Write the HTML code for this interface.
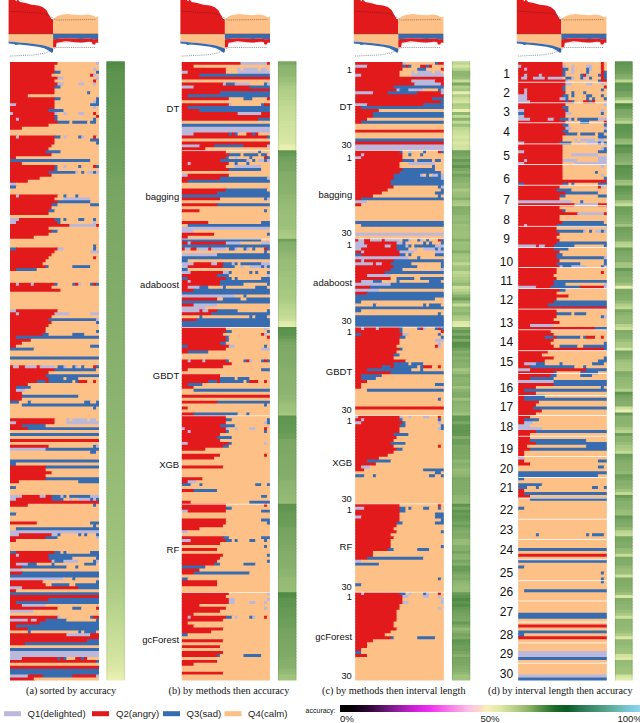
<!DOCTYPE html>
<html><head><meta charset="utf-8"><title>figure</title>
<style>
html,body{margin:0;padding:0;background:#fff}
svg{display:block}
.R{fill:#e31a1c}.O{fill:#fdc086}.B{fill:#386cb0}.L{fill:#bcb8dc}
text{font-family:"Liberation Sans",sans-serif;fill:#111}
.s{font-size:9.5px}
.m{font-size:9.3px}
.n{font-size:12px}
.c{font-family:"Liberation Serif",serif;font-size:10.2px}
.l{font-size:9.6px;fill:#222}
.t{font-size:7px}
</style></head><body>
<svg width="640" height="723" viewBox="0 0 640 723">
<defs>
<linearGradient id="cbar" x1="0" x2="1" y1="0" y2="0"><stop offset="0" stop-color="#000000"/><stop offset="0.04" stop-color="#050005"/><stop offset="0.1" stop-color="#30083a"/><stop offset="0.17" stop-color="#7a1a8a"/><stop offset="0.25" stop-color="#d020d8"/><stop offset="0.3" stop-color="#f030f0"/><stop offset="0.37" stop-color="#f880e8"/><stop offset="0.43" stop-color="#fcc0e8"/><stop offset="0.467" stop-color="#fcd8c8"/><stop offset="0.49" stop-color="#f8f0b8"/><stop offset="0.533" stop-color="#e0e8a8"/><stop offset="0.59" stop-color="#b0cc80"/><stop offset="0.633" stop-color="#88b060"/><stop offset="0.675" stop-color="#4c8c40"/><stop offset="0.717" stop-color="#1a6a28"/><stop offset="0.758" stop-color="#0c5c24"/><stop offset="0.8" stop-color="#2a7450"/><stop offset="0.84" stop-color="#3f8a6a"/><stop offset="0.883" stop-color="#56a08a"/><stop offset="0.925" stop-color="#6ab8b0"/><stop offset="0.967" stop-color="#7cc8dc"/><stop offset="1" stop-color="#8cd4f0"/></linearGradient>
<g id="mini">
<path class="R" d="M-1 0 L-1 33.9 L43.5 33.9 L43.5 19.5 L41.7 18.8 L39.3 14.8 L37 10.2 L33 7 L28.4 5.5 L22 4.7 L15.9 3.1 L10.4 1.9 L8.5 0 L7.6 0 L6.6 1.4 L5.6 0 z"/>
<path class="O" d="M43.5 33.9 L43.5 19.5 L47 16.4 L51.8 14.8 L58 14 L64.3 14.8 L72 15.2 L78.4 14.4 L83 15.6 L86.2 17.2 L88.6 16.4 L88.6 33.9 z"/>
<path class="O" d="M-1 33.9 L43.5 33.9 L43.5 48.6 L39.3 47.1 L34.6 45.5 L28.4 44.4 L19 43.3 L9.6 42.4 L-1 41.3 z"/>
<path class="B" d="M-1 41.3 L9.6 42.4 L19 43.3 L28.4 44.4 L34.6 45.5 L39.3 47.1 L43.5 48.6 L43.5 51.4 L42.4 53 L39.3 50.7 L34.6 48.3 L28.4 46.75 L19 45.5 L9.6 44.6 L6 44.9 L4.5 44 L-1 43.6 z"/>
<path class="L" d="M-1 40.6 L5 41 L5 42.2 L-1 41.8 z"/>
<path class="L" d="M43.8 42 L88.6 42 L88.6 43.2 L80 42.6 L70 43.2 L60 42.3 L52 43 L48 43.6 L43.8 43.6 z" opacity="0.6"/>
<path class="B" d="M43.5 33.9 L88.6 33.9 L88.6 38.9 L84 39.25 L79 38.6 L71.5 38.9 L63.7 38.6 L56 38.2 L50 38.7 L46.6 38.9 L43.5 39.25 z"/>
<path class="R" d="M43.5 39.25 L46.6 38.9 L50 38.7 L56 38.2 L63.7 38.6 L71.5 38.9 L79 38.6 L84 39.25 L88.6 38.9 L88.6 42.8 L86.2 42.4 L85.5 44.4 L83 44.4 L82.4 42 L79 41.75 L71.5 42.4 L63.7 42 L56 41.3 L50 42.2 L47 42.8 L46.4 47.3 L43.5 47.5 z"/>
<path d="M-1 33.9 H88.6" stroke="#7a4a3a" stroke-width="0.5" fill="none"/>
<path d="M0.2 11.2 L33 13.3 L39.3 15.6 L46.3 20 L86.2 19.5" stroke="#222" stroke-opacity="0.9" stroke-width="0.5" stroke-dasharray="1 0.9" fill="none"/>
<path d="M0.2 56.1 L25.2 54.9 L36.2 53 L42.4 49.9 L47 47.5 L86.2 47.5" stroke="#222" stroke-opacity="0.9" stroke-width="0.5" stroke-dasharray="1 0.9" fill="none"/>
</g>
</defs>
<rect width="640" height="723" fill="#fff"/>
<use href="#mini" x="9.6" y="0"/><use href="#mini" x="181.4" y="0"/><use href="#mini" x="354.8" y="0"/><use href="#mini" x="517.8" y="0"/>
<clipPath id="cp0"><rect x="10" y="61.9" width="89" height="618.6"/></clipPath>
<clipPath id="cb0"><rect x="106.4" y="61.3" width="18.4" height="619.2"/></clipPath>
<g clip-path="url(#cp0)">
<path class="R" d="M9 60.9h49.47v4.95H9z"/>
<path class="O" d="M57.47 60.9h39.57v4.95H57.47z"/>
<path class="L" d="M96.03 60.9h3.97v4.95H96.03z"/>
<path class="R" d="M9 64.85h46.5v3.95H9z"/>
<path class="O" d="M54.5 64.85h45.5v3.95H54.5z"/>
<path class="R" d="M9 67.79h46.5v3.95H9z"/>
<path class="O" d="M54.5 67.79h39.57v3.95H54.5z"/>
<path class="L" d="M93.07 67.79h3.97v3.95H93.07z"/>
<path class="O" d="M96.03 67.79h3.97v3.95H96.03z"/>
<path class="R" d="M9 70.74h46.5v3.95H9z"/>
<path class="B" d="M54.5 70.74h6.93v3.95H54.5z"/>
<path class="O" d="M60.43 70.74h36.6v3.95H60.43z"/>
<path class="B" d="M96.03 70.74h3.97v3.95H96.03z"/>
<path class="R" d="M9 73.68h43.53v3.95H9z"/>
<path class="O" d="M51.53 73.68h39.57v3.95H51.53z"/>
<path class="R" d="M90.1 73.68h3.97v3.95H90.1z"/>
<path class="L" d="M93.07 73.68h3.97v3.95H93.07z"/>
<path class="O" d="M96.03 73.68h3.97v3.95H96.03z"/>
<path class="R" d="M9 76.63h49.47v3.95H9z"/>
<path class="L" d="M57.47 76.63h6.93v3.95H57.47z"/>
<path class="O" d="M63.4 76.63h33.63v3.95H63.4z"/>
<path class="L" d="M96.03 76.63h3.97v3.95H96.03z"/>
<path class="R" d="M9 79.57h46.5v3.95H9z"/>
<path class="O" d="M54.5 79.57h39.57v3.95H54.5z"/>
<path class="R" d="M93.07 79.57h3.97v3.95H93.07z"/>
<path class="O" d="M96.03 79.57h3.97v3.95H96.03z"/>
<path class="R" d="M9 82.52h49.47v3.95H9z"/>
<path class="L" d="M57.47 82.52h6.93v3.95H57.47z"/>
<path class="O" d="M63.4 82.52h15.83v3.95H63.4z"/>
<path class="L" d="M78.23 82.52h6.93v3.95H78.23z"/>
<path class="O" d="M84.17 82.52h9.9v3.95H84.17z"/>
<path class="L" d="M93.07 82.52h3.97v3.95H93.07z"/>
<path class="O" d="M96.03 82.52h3.97v3.95H96.03z"/>
<path class="R" d="M9 85.47h46.5v3.95H9z"/>
<path class="B" d="M54.5 85.47h6.93v3.95H54.5z"/>
<path class="O" d="M60.43 85.47h39.57v3.95H60.43z"/>
<path class="R" d="M9 88.41h46.5v3.95H9z"/>
<path class="O" d="M54.5 88.41h45.5v3.95H54.5z"/>
<path class="R" d="M9 91.36h46.5v3.95H9z"/>
<path class="O" d="M54.5 91.36h33.63v3.95H54.5z"/>
<path class="B" d="M87.13 91.36h3.97v3.95H87.13z"/>
<path class="O" d="M90.1 91.36h9.9v3.95H90.1z"/>
<path class="R" d="M9 94.3h19.8v3.95H9z"/>
<path class="O" d="M27.8 94.3h72.2v3.95H27.8z"/>
<path class="R" d="M9 97.25h46.5v3.95H9z"/>
<path class="B" d="M54.5 97.25h6.93v3.95H54.5z"/>
<path class="O" d="M60.43 97.25h36.6v3.95H60.43z"/>
<path class="B" d="M96.03 97.25h3.97v3.95H96.03z"/>
<path class="R" d="M9 100.19h46.5v3.95H9z"/>
<path class="O" d="M54.5 100.19h39.57v3.95H54.5z"/>
<path class="L" d="M93.07 100.19h3.97v3.95H93.07z"/>
<path class="B" d="M96.03 100.19h3.97v3.95H96.03z"/>
<path class="L" d="M9 103.14h7.93v3.95H9z"/>
<path class="R" d="M15.93 103.14h39.57v3.95H15.93z"/>
<path class="O" d="M54.5 103.14h36.6v3.95H54.5z"/>
<path class="B" d="M90.1 103.14h9.9v3.95H90.1z"/>
<path class="R" d="M9 106.09h46.5v3.95H9z"/>
<path class="O" d="M54.5 106.09h39.57v3.95H54.5z"/>
<path class="L" d="M93.07 106.09h3.97v3.95H93.07z"/>
<path class="O" d="M96.03 106.09h3.97v3.95H96.03z"/>
<path class="R" d="M9 109.03h40.57v3.95H9z"/>
<path class="B" d="M48.57 109.03h15.83v3.95H48.57z"/>
<path class="O" d="M63.4 109.03h36.6v3.95H63.4z"/>
<path class="L" d="M9 111.98h4.97v3.95H9z"/>
<path class="R" d="M12.97 111.98h42.53v3.95H12.97z"/>
<path class="L" d="M54.5 111.98h3.97v3.95H54.5z"/>
<path class="O" d="M57.47 111.98h6.93v3.95H57.47z"/>
<path class="L" d="M63.4 111.98h3.97v3.95H63.4z"/>
<path class="O" d="M66.37 111.98h12.87v3.95H66.37z"/>
<path class="L" d="M78.23 111.98h6.93v3.95H78.23z"/>
<path class="O" d="M84.17 111.98h9.9v3.95H84.17z"/>
<path class="R" d="M93.07 111.98h3.97v3.95H93.07z"/>
<path class="O" d="M96.03 111.98h3.97v3.95H96.03z"/>
<path class="R" d="M9 114.92h46.5v3.95H9z"/>
<path class="B" d="M54.5 114.92h3.97v3.95H54.5z"/>
<path class="O" d="M57.47 114.92h39.57v3.95H57.47z"/>
<path class="R" d="M96.03 114.92h3.97v3.95H96.03z"/>
<path class="R" d="M9 117.87h7.93v3.95H9z"/>
<path class="L" d="M15.93 117.87h3.97v3.95H15.93z"/>
<path class="R" d="M18.9 117.87h36.6v3.95H18.9z"/>
<path class="B" d="M54.5 117.87h3.97v3.95H54.5z"/>
<path class="O" d="M57.47 117.87h36.6v3.95H57.47z"/>
<path class="B" d="M93.07 117.87h3.97v3.95H93.07z"/>
<path class="O" d="M96.03 117.87h3.97v3.95H96.03z"/>
<path class="R" d="M9 120.81h49.47v3.95H9z"/>
<path class="B" d="M57.47 120.81h12.87v3.95H57.47z"/>
<path class="O" d="M69.33 120.81h3.97v3.95H69.33z"/>
<path class="B" d="M72.3 120.81h15.83v3.95H72.3z"/>
<path class="O" d="M87.13 120.81h3.97v3.95H87.13z"/>
<path class="B" d="M90.1 120.81h6.93v3.95H90.1z"/>
<path class="O" d="M96.03 120.81h3.97v3.95H96.03z"/>
<path class="R" d="M9 123.76h40.57v3.95H9z"/>
<path class="O" d="M48.57 123.76h51.43v3.95H48.57z"/>
<path class="R" d="M9 126.71h13.87v3.95H9z"/>
<path class="O" d="M21.87 126.71h78.13v3.95H21.87z"/>
<path class="O" d="M9 129.65h91v3.95H9z"/>
<path class="O" d="M9 132.6h91v3.95H9z"/>
<path class="R" d="M9 135.54h7.93v3.95H9z"/>
<path class="L" d="M15.93 135.54h3.97v3.95H15.93z"/>
<path class="R" d="M18.9 135.54h36.6v3.95H18.9z"/>
<path class="B" d="M54.5 135.54h6.93v3.95H54.5z"/>
<path class="O" d="M60.43 135.54h3.97v3.95H60.43z"/>
<path class="L" d="M63.4 135.54h3.97v3.95H63.4z"/>
<path class="O" d="M66.37 135.54h12.87v3.95H66.37z"/>
<path class="B" d="M78.23 135.54h3.97v3.95H78.23z"/>
<path class="L" d="M81.2 135.54h3.97v3.95H81.2z"/>
<path class="O" d="M84.17 135.54h9.9v3.95H84.17z"/>
<path class="R" d="M93.07 135.54h3.97v3.95H93.07z"/>
<path class="O" d="M96.03 135.54h3.97v3.95H96.03z"/>
<path class="R" d="M9 138.49h46.5v3.95H9z"/>
<path class="O" d="M54.5 138.49h36.6v3.95H54.5z"/>
<path class="B" d="M90.1 138.49h9.9v3.95H90.1z"/>
<path class="R" d="M9 141.43h46.5v3.95H9z"/>
<path class="O" d="M54.5 141.43h42.53v3.95H54.5z"/>
<path class="B" d="M96.03 141.43h3.97v3.95H96.03z"/>
<path class="R" d="M9 144.38h43.53v3.95H9z"/>
<path class="O" d="M51.53 144.38h48.47v3.95H51.53z"/>
<path class="R" d="M9 147.33h40.57v3.95H9z"/>
<path class="O" d="M48.57 147.33h51.43v3.95H48.57z"/>
<path class="R" d="M9 150.27h37.6v3.95H9z"/>
<path class="B" d="M45.6 150.27h15.83v3.95H45.6z"/>
<path class="O" d="M60.43 150.27h39.57v3.95H60.43z"/>
<path class="R" d="M9 153.22h43.53v3.95H9z"/>
<path class="O" d="M51.53 153.22h48.47v3.95H51.53z"/>
<path class="R" d="M9 156.16h7.93v3.95H9z"/>
<path class="O" d="M15.93 156.16h84.07v3.95H15.93z"/>
<path class="B" d="M9 159.11h82.1v3.95H9z"/>
<path class="O" d="M90.1 159.11h9.9v3.95H90.1z"/>
<path class="R" d="M9 162.05h13.87v3.95H9z"/>
<path class="O" d="M21.87 162.05h78.13v3.95H21.87z"/>
<path class="R" d="M9 165h46.5v3.95H9z"/>
<path class="B" d="M54.5 165h3.97v3.95H54.5z"/>
<path class="O" d="M57.47 165h6.93v3.95H57.47z"/>
<path class="L" d="M63.4 165h3.97v3.95H63.4z"/>
<path class="O" d="M66.37 165h12.87v3.95H66.37z"/>
<path class="B" d="M78.23 165h3.97v3.95H78.23z"/>
<path class="O" d="M81.2 165h12.87v3.95H81.2z"/>
<path class="R" d="M93.07 165h3.97v3.95H93.07z"/>
<path class="B" d="M96.03 165h3.97v3.95H96.03z"/>
<path class="R" d="M9 167.95h46.5v3.95H9z"/>
<path class="B" d="M54.5 167.95h3.97v3.95H54.5z"/>
<path class="O" d="M57.47 167.95h42.53v3.95H57.47z"/>
<path class="R" d="M9 170.89h40.57v3.95H9z"/>
<path class="B" d="M48.57 170.89h27.7v3.95H48.57z"/>
<path class="L" d="M75.27 170.89h3.97v3.95H75.27z"/>
<path class="O" d="M78.23 170.89h3.97v3.95H78.23z"/>
<path class="B" d="M81.2 170.89h3.97v3.95H81.2z"/>
<path class="O" d="M84.17 170.89h3.97v3.95H84.17z"/>
<path class="L" d="M87.13 170.89h6.93v3.95H87.13z"/>
<path class="B" d="M93.07 170.89h3.97v3.95H93.07z"/>
<path class="L" d="M96.03 170.89h3.97v3.95H96.03z"/>
<path class="R" d="M9 173.84h43.53v3.95H9z"/>
<path class="O" d="M51.53 173.84h48.47v3.95H51.53z"/>
<path class="R" d="M9 176.78h31.67v3.95H9z"/>
<path class="O" d="M39.67 176.78h60.33v3.95H39.67z"/>
<path class="R" d="M9 179.73h19.8v3.95H9z"/>
<path class="O" d="M27.8 179.73h72.2v3.95H27.8z"/>
<path class="L" d="M9 182.67h7.93v3.95H9z"/>
<path class="O" d="M15.93 182.67h84.07v3.95H15.93z"/>
<path class="B" d="M9 185.62h7.93v3.95H9z"/>
<path class="O" d="M15.93 185.62h84.07v3.95H15.93z"/>
<path class="O" d="M9 188.57h91v3.95H9z"/>
<path class="O" d="M9 191.51h91v3.95H9z"/>
<path class="R" d="M9 194.46h7.93v3.95H9z"/>
<path class="L" d="M15.93 194.46h3.97v3.95H15.93z"/>
<path class="R" d="M18.9 194.46h39.57v3.95H18.9z"/>
<path class="O" d="M57.47 194.46h6.93v3.95H57.47z"/>
<path class="B" d="M63.4 194.46h3.97v3.95H63.4z"/>
<path class="O" d="M66.37 194.46h9.9v3.95H66.37z"/>
<path class="B" d="M75.27 194.46h3.97v3.95H75.27z"/>
<path class="O" d="M78.23 194.46h21.77v3.95H78.23z"/>
<path class="R" d="M9 197.4h46.5v3.95H9z"/>
<path class="O" d="M54.5 197.4h9.9v3.95H54.5z"/>
<path class="L" d="M63.4 197.4h27.7v3.95H63.4z"/>
<path class="O" d="M90.1 197.4h9.9v3.95H90.1z"/>
<path class="R" d="M9 200.35h49.47v3.95H9z"/>
<path class="B" d="M57.47 200.35h33.63v3.95H57.47z"/>
<path class="O" d="M90.1 200.35h9.9v3.95H90.1z"/>
<path class="R" d="M9 203.29h43.53v3.95H9z"/>
<path class="B" d="M51.53 203.29h6.93v3.95H51.53z"/>
<path class="O" d="M57.47 203.29h33.63v3.95H57.47z"/>
<path class="B" d="M90.1 203.29h9.9v3.95H90.1z"/>
<path class="R" d="M9 206.24h43.53v3.95H9z"/>
<path class="O" d="M51.53 206.24h48.47v3.95H51.53z"/>
<path class="R" d="M9 209.19h40.57v3.95H9z"/>
<path class="B" d="M48.57 209.19h6.93v3.95H48.57z"/>
<path class="O" d="M54.5 209.19h45.5v3.95H54.5z"/>
<path class="R" d="M9 212.13h40.57v3.95H9z"/>
<path class="O" d="M48.57 212.13h51.43v3.95H48.57z"/>
<path class="O" d="M9 215.08h91v3.95H9z"/>
<path class="L" d="M9 218.02h10.9v3.95H9z"/>
<path class="R" d="M18.9 218.02h36.6v3.95H18.9z"/>
<path class="B" d="M54.5 218.02h6.93v3.95H54.5z"/>
<path class="O" d="M60.43 218.02h3.97v3.95H60.43z"/>
<path class="B" d="M63.4 218.02h3.97v3.95H63.4z"/>
<path class="O" d="M66.37 218.02h12.87v3.95H66.37z"/>
<path class="B" d="M78.23 218.02h6.93v3.95H78.23z"/>
<path class="O" d="M84.17 218.02h9.9v3.95H84.17z"/>
<path class="B" d="M93.07 218.02h3.97v3.95H93.07z"/>
<path class="O" d="M96.03 218.02h3.97v3.95H96.03z"/>
<path class="L" d="M9 220.97h7.93v3.95H9z"/>
<path class="R" d="M15.93 220.97h42.53v3.95H15.93z"/>
<path class="B" d="M57.47 220.97h3.97v3.95H57.47z"/>
<path class="O" d="M60.43 220.97h33.63v3.95H60.43z"/>
<path class="L" d="M93.07 220.97h3.97v3.95H93.07z"/>
<path class="O" d="M96.03 220.97h3.97v3.95H96.03z"/>
<path class="R" d="M9 223.91h61.33v3.95H9z"/>
<path class="L" d="M69.33 223.91h27.7v3.95H69.33z"/>
<path class="R" d="M96.03 223.91h3.97v3.95H96.03z"/>
<path class="R" d="M9 226.86h40.57v3.95H9z"/>
<path class="O" d="M48.57 226.86h51.43v3.95H48.57z"/>
<path class="R" d="M9 229.81h43.53v3.95H9z"/>
<path class="B" d="M51.53 229.81h6.93v3.95H51.53z"/>
<path class="O" d="M57.47 229.81h42.53v3.95H57.47z"/>
<path class="R" d="M9 232.75h40.57v3.95H9z"/>
<path class="O" d="M48.57 232.75h51.43v3.95H48.57z"/>
<path class="R" d="M9 235.7h25.73v3.95H9z"/>
<path class="O" d="M33.73 235.7h66.27v3.95H33.73z"/>
<path class="O" d="M9 238.64h91v3.95H9z"/>
<path class="O" d="M9 241.59h91v3.95H9z"/>
<path class="O" d="M9 244.53h85.07v3.95H9z"/>
<path class="B" d="M93.07 244.53h3.97v3.95H93.07z"/>
<path class="O" d="M96.03 244.53h3.97v3.95H96.03z"/>
<path class="B" d="M9 247.48h7.93v3.95H9z"/>
<path class="R" d="M15.93 247.48h42.53v3.95H15.93z"/>
<path class="L" d="M57.47 247.48h6.93v3.95H57.47z"/>
<path class="O" d="M63.4 247.48h30.67v3.95H63.4z"/>
<path class="B" d="M93.07 247.48h3.97v3.95H93.07z"/>
<path class="O" d="M96.03 247.48h3.97v3.95H96.03z"/>
<path class="R" d="M9 250.43h46.5v3.95H9z"/>
<path class="O" d="M54.5 250.43h36.6v3.95H54.5z"/>
<path class="L" d="M90.1 250.43h9.9v3.95H90.1z"/>
<path class="R" d="M9 253.37h43.53v3.95H9z"/>
<path class="O" d="M51.53 253.37h48.47v3.95H51.53z"/>
<path class="R" d="M9 256.32h40.57v3.95H9z"/>
<path class="O" d="M48.57 256.32h45.5v3.95H48.57z"/>
<path class="R" d="M93.07 256.32h3.97v3.95H93.07z"/>
<path class="O" d="M96.03 256.32h3.97v3.95H96.03z"/>
<path class="R" d="M9 259.26h37.6v3.95H9z"/>
<path class="O" d="M45.6 259.26h54.4v3.95H45.6z"/>
<path class="R" d="M9 262.21h34.63v3.95H9z"/>
<path class="O" d="M42.63 262.21h57.37v3.95H42.63z"/>
<path class="R" d="M9 265.15h37.6v3.95H9z"/>
<path class="B" d="M45.6 265.15h3.97v3.95H45.6z"/>
<path class="O" d="M48.57 265.15h24.73v3.95H48.57z"/>
<path class="B" d="M72.3 265.15h18.8v3.95H72.3z"/>
<path class="O" d="M90.1 265.15h9.9v3.95H90.1z"/>
<path class="R" d="M9 268.1h7.93v3.95H9z"/>
<path class="B" d="M15.93 268.1h21.77v3.95H15.93z"/>
<path class="O" d="M36.7 268.1h63.3v3.95H36.7z"/>
<path class="O" d="M9 271.05h91v3.95H9z"/>
<path class="O" d="M9 273.99h91v3.95H9z"/>
<path class="O" d="M9 276.94h91v3.95H9z"/>
<path class="O" d="M9 279.88h91v3.95H9z"/>
<path class="R" d="M9 282.83h7.93v3.95H9z"/>
<path class="L" d="M15.93 282.83h3.97v3.95H15.93z"/>
<path class="R" d="M18.9 282.83h12.87v3.95H18.9z"/>
<path class="L" d="M30.77 282.83h3.97v3.95H30.77z"/>
<path class="R" d="M33.73 282.83h21.77v3.95H33.73z"/>
<path class="B" d="M54.5 282.83h3.97v3.95H54.5z"/>
<path class="O" d="M57.47 282.83h15.83v3.95H57.47z"/>
<path class="B" d="M72.3 282.83h3.97v3.95H72.3z"/>
<path class="R" d="M75.27 282.83h3.97v3.95H75.27z"/>
<path class="L" d="M78.23 282.83h3.97v3.95H78.23z"/>
<path class="O" d="M81.2 282.83h9.9v3.95H81.2z"/>
<path class="B" d="M90.1 282.83h3.97v3.95H90.1z"/>
<path class="R" d="M93.07 282.83h3.97v3.95H93.07z"/>
<path class="B" d="M96.03 282.83h3.97v3.95H96.03z"/>
<path class="R" d="M9 285.77h43.53v3.95H9z"/>
<path class="O" d="M51.53 285.77h48.47v3.95H51.53z"/>
<path class="R" d="M9 288.72h52.43v3.95H9z"/>
<path class="O" d="M60.43 288.72h39.57v3.95H60.43z"/>
<path class="O" d="M9 291.67h91v3.95H9z"/>
<path class="O" d="M9 294.61h91v3.95H9z"/>
<path class="O" d="M9 297.56h91v3.95H9z"/>
<path class="O" d="M9 300.5h91v3.95H9z"/>
<path class="O" d="M9 303.45h91v3.95H9z"/>
<path class="O" d="M9 306.39h91v3.95H9z"/>
<path class="L" d="M9 309.34h7.93v3.95H9z"/>
<path class="R" d="M15.93 309.34h42.53v3.95H15.93z"/>
<path class="O" d="M57.47 309.34h42.53v3.95H57.47z"/>
<path class="R" d="M9 312.29h7.93v3.95H9z"/>
<path class="L" d="M15.93 312.29h3.97v3.95H15.93z"/>
<path class="R" d="M18.9 312.29h36.6v3.95H18.9z"/>
<path class="L" d="M54.5 312.29h15.83v3.95H54.5z"/>
<path class="O" d="M69.33 312.29h21.77v3.95H69.33z"/>
<path class="L" d="M90.1 312.29h9.9v3.95H90.1z"/>
<path class="R" d="M9 315.23h43.53v3.95H9z"/>
<path class="O" d="M51.53 315.23h48.47v3.95H51.53z"/>
<path class="R" d="M9 318.18h40.57v3.95H9z"/>
<path class="B" d="M48.57 318.18h48.47v3.95H48.57z"/>
<path class="L" d="M96.03 318.18h3.97v3.95H96.03z"/>
<path class="R" d="M9 321.12h43.53v3.95H9z"/>
<path class="O" d="M51.53 321.12h45.5v3.95H51.53z"/>
<path class="B" d="M96.03 321.12h3.97v3.95H96.03z"/>
<path class="R" d="M9 324.07h40.57v3.95H9z"/>
<path class="O" d="M48.57 324.07h51.43v3.95H48.57z"/>
<path class="R" d="M9 327.01h37.6v3.95H9z"/>
<path class="O" d="M45.6 327.01h54.4v3.95H45.6z"/>
<path class="R" d="M9 329.96h37.6v3.95H9z"/>
<path class="O" d="M45.6 329.96h51.43v3.95H45.6z"/>
<path class="B" d="M96.03 329.96h3.97v3.95H96.03z"/>
<path class="R" d="M9 332.91h34.63v3.95H9z"/>
<path class="B" d="M42.63 332.91h6.93v3.95H42.63z"/>
<path class="O" d="M48.57 332.91h24.73v3.95H48.57z"/>
<path class="B" d="M72.3 332.91h12.87v3.95H72.3z"/>
<path class="O" d="M84.17 332.91h15.83v3.95H84.17z"/>
<path class="R" d="M9 335.85h7.93v3.95H9z"/>
<path class="B" d="M15.93 335.85h84.07v3.95H15.93z"/>
<path class="R" d="M9 338.8h22.77v3.95H9z"/>
<path class="O" d="M30.77 338.8h69.23v3.95H30.77z"/>
<path class="R" d="M9 341.74h13.87v3.95H9z"/>
<path class="O" d="M21.87 341.74h78.13v3.95H21.87z"/>
<path class="R" d="M9 344.69h7.93v3.95H9z"/>
<path class="O" d="M15.93 344.69h75.17v3.95H15.93z"/>
<path class="B" d="M90.1 344.69h9.9v3.95H90.1z"/>
<path class="B" d="M9 347.63h25.73v3.95H9z"/>
<path class="O" d="M33.73 347.63h66.27v3.95H33.73z"/>
<path class="O" d="M9 350.58h91v3.95H9z"/>
<path class="O" d="M9 353.53h91v3.95H9z"/>
<path class="B" d="M9 356.47h91v3.95H9z"/>
<path class="O" d="M9 359.42h91v3.95H9z"/>
<path class="O" d="M9 362.36h91v3.95H9z"/>
<path class="R" d="M9 365.31h4.97v3.95H9z"/>
<path class="L" d="M12.97 365.31h6.93v3.95H12.97z"/>
<path class="R" d="M18.9 365.31h6.93v3.95H18.9z"/>
<path class="L" d="M24.83 365.31h12.87v3.95H24.83z"/>
<path class="R" d="M36.7 365.31h3.97v3.95H36.7z"/>
<path class="L" d="M39.67 365.31h15.83v3.95H39.67z"/>
<path class="O" d="M54.5 365.31h3.97v3.95H54.5z"/>
<path class="B" d="M57.47 365.31h6.93v3.95H57.47z"/>
<path class="L" d="M63.4 365.31h3.97v3.95H63.4z"/>
<path class="O" d="M66.37 365.31h6.93v3.95H66.37z"/>
<path class="B" d="M72.3 365.31h3.97v3.95H72.3z"/>
<path class="L" d="M75.27 365.31h3.97v3.95H75.27z"/>
<path class="O" d="M78.23 365.31h3.97v3.95H78.23z"/>
<path class="B" d="M81.2 365.31h3.97v3.95H81.2z"/>
<path class="O" d="M84.17 365.31h9.9v3.95H84.17z"/>
<path class="R" d="M93.07 365.31h3.97v3.95H93.07z"/>
<path class="B" d="M96.03 365.31h3.97v3.95H96.03z"/>
<path class="R" d="M9 368.25h46.5v3.95H9z"/>
<path class="B" d="M54.5 368.25h42.53v3.95H54.5z"/>
<path class="O" d="M96.03 368.25h3.97v3.95H96.03z"/>
<path class="R" d="M9 371.2h40.57v3.95H9z"/>
<path class="O" d="M48.57 371.2h51.43v3.95H48.57z"/>
<path class="R" d="M9 374.15h37.6v3.95H9z"/>
<path class="B" d="M45.6 374.15h54.4v3.95H45.6z"/>
<path class="R" d="M9 377.09h40.57v3.95H9z"/>
<path class="B" d="M48.57 377.09h15.83v3.95H48.57z"/>
<path class="O" d="M63.4 377.09h3.97v3.95H63.4z"/>
<path class="B" d="M66.37 377.09h12.87v3.95H66.37z"/>
<path class="O" d="M78.23 377.09h21.77v3.95H78.23z"/>
<path class="R" d="M9 380.04h28.7v3.95H9z"/>
<path class="B" d="M36.7 380.04h9.9v3.95H36.7z"/>
<path class="R" d="M45.6 380.04h3.97v3.95H45.6z"/>
<path class="B" d="M48.57 380.04h24.73v3.95H48.57z"/>
<path class="O" d="M72.3 380.04h3.97v3.95H72.3z"/>
<path class="B" d="M75.27 380.04h3.97v3.95H75.27z"/>
<path class="R" d="M78.23 380.04h9.9v3.95H78.23z"/>
<path class="O" d="M87.13 380.04h6.93v3.95H87.13z"/>
<path class="R" d="M93.07 380.04h3.97v3.95H93.07z"/>
<path class="O" d="M96.03 380.04h3.97v3.95H96.03z"/>
<path class="R" d="M9 382.98h19.8v3.95H9z"/>
<path class="O" d="M27.8 382.98h72.2v3.95H27.8z"/>
<path class="R" d="M9 385.93h7.93v3.95H9z"/>
<path class="B" d="M15.93 385.93h15.83v3.95H15.93z"/>
<path class="O" d="M30.77 385.93h69.23v3.95H30.77z"/>
<path class="R" d="M9 388.87h7.93v3.95H9z"/>
<path class="L" d="M15.93 388.87h9.9v3.95H15.93z"/>
<path class="O" d="M24.83 388.87h75.17v3.95H24.83z"/>
<path class="R" d="M9 391.82h13.87v3.95H9z"/>
<path class="O" d="M21.87 391.82h78.13v3.95H21.87z"/>
<path class="R" d="M9 394.77h13.87v3.95H9z"/>
<path class="B" d="M21.87 394.77h57.37v3.95H21.87z"/>
<path class="O" d="M78.23 394.77h21.77v3.95H78.23z"/>
<path class="R" d="M9 397.71h13.87v3.95H9z"/>
<path class="O" d="M21.87 397.71h78.13v3.95H21.87z"/>
<path class="B" d="M9 400.66h10.9v3.95H9z"/>
<path class="O" d="M18.9 400.66h9.9v3.95H18.9z"/>
<path class="B" d="M27.8 400.66h3.97v3.95H27.8z"/>
<path class="O" d="M30.77 400.66h54.4v3.95H30.77z"/>
<path class="B" d="M84.17 400.66h6.93v3.95H84.17z"/>
<path class="O" d="M90.1 400.66h6.93v3.95H90.1z"/>
<path class="B" d="M96.03 400.66h3.97v3.95H96.03z"/>
<path class="O" d="M9 403.6h13.87v3.95H9z"/>
<path class="B" d="M21.87 403.6h78.13v3.95H21.87z"/>
<path class="O" d="M9 406.55h85.07v3.95H9z"/>
<path class="B" d="M93.07 406.55h3.97v3.95H93.07z"/>
<path class="O" d="M96.03 406.55h3.97v3.95H96.03z"/>
<path class="O" d="M9 409.49h91v3.95H9z"/>
<path class="O" d="M9 412.44h91v3.95H9z"/>
<path class="O" d="M9 415.39h91v3.95H9z"/>
<path class="R" d="M9 418.33h46.5v3.95H9z"/>
<path class="O" d="M54.5 418.33h12.87v3.95H54.5z"/>
<path class="L" d="M66.37 418.33h3.97v3.95H66.37z"/>
<path class="O" d="M69.33 418.33h3.97v3.95H69.33z"/>
<path class="L" d="M72.3 418.33h15.83v3.95H72.3z"/>
<path class="O" d="M87.13 418.33h3.97v3.95H87.13z"/>
<path class="L" d="M90.1 418.33h6.93v3.95H90.1z"/>
<path class="O" d="M96.03 418.33h3.97v3.95H96.03z"/>
<path class="L" d="M9 421.28h7.93v3.95H9z"/>
<path class="R" d="M15.93 421.28h39.57v3.95H15.93z"/>
<path class="O" d="M54.5 421.28h12.87v3.95H54.5z"/>
<path class="L" d="M66.37 421.28h33.63v3.95H66.37z"/>
<path class="R" d="M9 424.22h13.87v3.95H9z"/>
<path class="B" d="M21.87 424.22h24.73v3.95H21.87z"/>
<path class="O" d="M45.6 424.22h54.4v3.95H45.6z"/>
<path class="R" d="M9 427.17h19.8v3.95H9z"/>
<path class="B" d="M27.8 427.17h72.2v3.95H27.8z"/>
<path class="O" d="M9 430.11h91v3.95H9z"/>
<path class="B" d="M9 433.06h91v3.95H9z"/>
<path class="O" d="M9 436.01h91v3.95H9z"/>
<path class="R" d="M9 438.95h91v3.95H9z"/>
<path class="O" d="M9 441.9h91v3.95H9z"/>
<path class="R" d="M9 444.84h40.57v3.95H9z"/>
<path class="O" d="M48.57 444.84h45.5v3.95H48.57z"/>
<path class="B" d="M93.07 444.84h3.97v3.95H93.07z"/>
<path class="L" d="M96.03 444.84h3.97v3.95H96.03z"/>
<path class="L" d="M9 447.79h37.6v3.95H9z"/>
<path class="B" d="M45.6 447.79h54.4v3.95H45.6z"/>
<path class="O" d="M9 450.73h82.1v3.95H9z"/>
<path class="B" d="M90.1 450.73h6.93v3.95H90.1z"/>
<path class="O" d="M96.03 450.73h3.97v3.95H96.03z"/>
<path class="O" d="M9 453.68h91v3.95H9z"/>
<path class="O" d="M9 456.63h91v3.95H9z"/>
<path class="B" d="M9 459.57h91v3.95H9z"/>
<path class="B" d="M9 462.52h7.93v3.95H9z"/>
<path class="O" d="M15.93 462.52h84.07v3.95H15.93z"/>
<path class="R" d="M9 465.46h37.6v3.95H9z"/>
<path class="B" d="M45.6 465.46h54.4v3.95H45.6z"/>
<path class="R" d="M9 468.41h37.6v3.95H9z"/>
<path class="O" d="M45.6 468.41h54.4v3.95H45.6z"/>
<path class="R" d="M9 471.35h43.53v3.95H9z"/>
<path class="O" d="M51.53 471.35h48.47v3.95H51.53z"/>
<path class="R" d="M9 474.3h37.6v3.95H9z"/>
<path class="O" d="M45.6 474.3h54.4v3.95H45.6z"/>
<path class="R" d="M9 477.25h37.6v3.95H9z"/>
<path class="B" d="M45.6 477.25h54.4v3.95H45.6z"/>
<path class="R" d="M9 480.19h10.9v3.95H9z"/>
<path class="O" d="M18.9 480.19h60.33v3.95H18.9z"/>
<path class="B" d="M78.23 480.19h21.77v3.95H78.23z"/>
<path class="O" d="M9 483.14h91v3.95H9z"/>
<path class="B" d="M9 486.08h7.93v3.95H9z"/>
<path class="O" d="M15.93 486.08h84.07v3.95H15.93z"/>
<path class="O" d="M9 489.03h91v3.95H9z"/>
<path class="O" d="M9 491.97h91v3.95H9z"/>
<path class="L" d="M9 494.92h13.87v3.95H9z"/>
<path class="R" d="M21.87 494.92h18.8v3.95H21.87z"/>
<path class="L" d="M39.67 494.92h6.93v3.95H39.67z"/>
<path class="R" d="M45.6 494.92h6.93v3.95H45.6z"/>
<path class="B" d="M51.53 494.92h9.9v3.95H51.53z"/>
<path class="L" d="M60.43 494.92h3.97v3.95H60.43z"/>
<path class="B" d="M63.4 494.92h3.97v3.95H63.4z"/>
<path class="O" d="M66.37 494.92h3.97v3.95H66.37z"/>
<path class="B" d="M69.33 494.92h21.77v3.95H69.33z"/>
<path class="L" d="M90.1 494.92h9.9v3.95H90.1z"/>
<path class="L" d="M9 497.87h7.93v3.95H9z"/>
<path class="R" d="M15.93 497.87h36.6v3.95H15.93z"/>
<path class="B" d="M51.53 497.87h12.87v3.95H51.53z"/>
<path class="O" d="M63.4 497.87h6.93v3.95H63.4z"/>
<path class="L" d="M69.33 497.87h3.97v3.95H69.33z"/>
<path class="O" d="M72.3 497.87h6.93v3.95H72.3z"/>
<path class="L" d="M78.23 497.87h12.87v3.95H78.23z"/>
<path class="B" d="M90.1 497.87h3.97v3.95H90.1z"/>
<path class="L" d="M93.07 497.87h3.97v3.95H93.07z"/>
<path class="B" d="M96.03 497.87h3.97v3.95H96.03z"/>
<path class="R" d="M9 500.81h91v3.95H9z"/>
<path class="R" d="M9 503.76h19.8v3.95H9z"/>
<path class="O" d="M27.8 503.76h66.27v3.95H27.8z"/>
<path class="B" d="M93.07 503.76h3.97v3.95H93.07z"/>
<path class="O" d="M96.03 503.76h3.97v3.95H96.03z"/>
<path class="O" d="M9 506.7h91v3.95H9z"/>
<path class="O" d="M9 509.65h91v3.95H9z"/>
<path class="B" d="M9 512.59h7.93v3.95H9z"/>
<path class="O" d="M15.93 512.59h84.07v3.95H15.93z"/>
<path class="O" d="M9 515.54h91v3.95H9z"/>
<path class="O" d="M9 518.49h91v3.95H9z"/>
<path class="R" d="M9 521.43h28.7v3.95H9z"/>
<path class="O" d="M36.7 521.43h54.4v3.95H36.7z"/>
<path class="B" d="M90.1 521.43h9.9v3.95H90.1z"/>
<path class="O" d="M9 524.38h85.07v3.95H9z"/>
<path class="B" d="M93.07 524.38h3.97v3.95H93.07z"/>
<path class="O" d="M96.03 524.38h3.97v3.95H96.03z"/>
<path class="O" d="M9 527.32h7.93v3.95H9z"/>
<path class="B" d="M15.93 527.32h84.07v3.95H15.93z"/>
<path class="L" d="M9 530.27h91v3.95H9z"/>
<path class="L" d="M9 533.21h10.9v3.95H9z"/>
<path class="R" d="M18.9 533.21h33.63v3.95H18.9z"/>
<path class="L" d="M51.53 533.21h6.93v3.95H51.53z"/>
<path class="B" d="M57.47 533.21h3.97v3.95H57.47z"/>
<path class="O" d="M60.43 533.21h18.8v3.95H60.43z"/>
<path class="B" d="M78.23 533.21h3.97v3.95H78.23z"/>
<path class="O" d="M81.2 533.21h3.97v3.95H81.2z"/>
<path class="B" d="M84.17 533.21h3.97v3.95H84.17z"/>
<path class="O" d="M87.13 533.21h9.9v3.95H87.13z"/>
<path class="B" d="M96.03 533.21h3.97v3.95H96.03z"/>
<path class="R" d="M9 536.16h37.6v3.95H9z"/>
<path class="B" d="M45.6 536.16h12.87v3.95H45.6z"/>
<path class="O" d="M57.47 536.16h39.57v3.95H57.47z"/>
<path class="L" d="M96.03 536.16h3.97v3.95H96.03z"/>
<path class="R" d="M9 539.11h7.93v3.95H9z"/>
<path class="O" d="M15.93 539.11h84.07v3.95H15.93z"/>
<path class="O" d="M9 542.05h91v3.95H9z"/>
<path class="O" d="M9 545h91v3.95H9z"/>
<path class="O" d="M9 547.94h91v3.95H9z"/>
<path class="B" d="M9 550.89h7.93v3.95H9z"/>
<path class="R" d="M15.93 550.89h39.57v3.95H15.93z"/>
<path class="B" d="M54.5 550.89h6.93v3.95H54.5z"/>
<path class="O" d="M60.43 550.89h3.97v3.95H60.43z"/>
<path class="B" d="M63.4 550.89h3.97v3.95H63.4z"/>
<path class="O" d="M66.37 550.89h24.73v3.95H66.37z"/>
<path class="B" d="M90.1 550.89h9.9v3.95H90.1z"/>
<path class="R" d="M9 553.83h7.93v3.95H9z"/>
<path class="L" d="M15.93 553.83h3.97v3.95H15.93z"/>
<path class="R" d="M18.9 553.83h30.67v3.95H18.9z"/>
<path class="B" d="M48.57 553.83h51.43v3.95H48.57z"/>
<path class="R" d="M9 556.78h40.57v3.95H9z"/>
<path class="B" d="M48.57 556.78h24.73v3.95H48.57z"/>
<path class="O" d="M72.3 556.78h24.73v3.95H72.3z"/>
<path class="B" d="M96.03 556.78h3.97v3.95H96.03z"/>
<path class="R" d="M9 559.73h43.53v3.95H9z"/>
<path class="L" d="M51.53 559.73h3.97v3.95H51.53z"/>
<path class="B" d="M54.5 559.73h9.9v3.95H54.5z"/>
<path class="L" d="M63.4 559.73h15.83v3.95H63.4z"/>
<path class="O" d="M78.23 559.73h15.83v3.95H78.23z"/>
<path class="B" d="M93.07 559.73h3.97v3.95H93.07z"/>
<path class="L" d="M96.03 559.73h3.97v3.95H96.03z"/>
<path class="R" d="M9 562.67h7.93v3.95H9z"/>
<path class="L" d="M15.93 562.67h12.87v3.95H15.93z"/>
<path class="B" d="M27.8 562.67h9.9v3.95H27.8z"/>
<path class="O" d="M36.7 562.67h15.83v3.95H36.7z"/>
<path class="B" d="M51.53 562.67h3.97v3.95H51.53z"/>
<path class="O" d="M54.5 562.67h30.67v3.95H54.5z"/>
<path class="B" d="M84.17 562.67h12.87v3.95H84.17z"/>
<path class="O" d="M96.03 562.67h3.97v3.95H96.03z"/>
<path class="R" d="M9 565.62h13.87v3.95H9z"/>
<path class="B" d="M21.87 565.62h45.5v3.95H21.87z"/>
<path class="O" d="M66.37 565.62h9.9v3.95H66.37z"/>
<path class="B" d="M75.27 565.62h3.97v3.95H75.27z"/>
<path class="O" d="M78.23 565.62h21.77v3.95H78.23z"/>
<path class="L" d="M9 568.56h13.87v3.95H9z"/>
<path class="O" d="M21.87 568.56h78.13v3.95H21.87z"/>
<path class="R" d="M9 571.51h13.87v3.95H9z"/>
<path class="B" d="M21.87 571.51h78.13v3.95H21.87z"/>
<path class="B" d="M9 574.45h91v3.95H9z"/>
<path class="L" d="M9 577.4h55.4v3.95H9z"/>
<path class="O" d="M63.4 577.4h9.9v3.95H63.4z"/>
<path class="B" d="M72.3 577.4h3.97v3.95H72.3z"/>
<path class="O" d="M75.27 577.4h24.73v3.95H75.27z"/>
<path class="R" d="M9 580.35h34.63v3.95H9z"/>
<path class="O" d="M42.63 580.35h54.4v3.95H42.63z"/>
<path class="B" d="M96.03 580.35h3.97v3.95H96.03z"/>
<path class="R" d="M9 583.29h37.6v3.95H9z"/>
<path class="O" d="M45.6 583.29h6.93v3.95H45.6z"/>
<path class="B" d="M51.53 583.29h18.8v3.95H51.53z"/>
<path class="O" d="M69.33 583.29h6.93v3.95H69.33z"/>
<path class="B" d="M75.27 583.29h24.73v3.95H75.27z"/>
<path class="L" d="M9 586.24h13.87v3.95H9z"/>
<path class="R" d="M21.87 586.24h57.37v3.95H21.87z"/>
<path class="B" d="M78.23 586.24h21.77v3.95H78.23z"/>
<path class="R" d="M9 589.18h7.93v3.95H9z"/>
<path class="O" d="M15.93 589.18h84.07v3.95H15.93z"/>
<path class="B" d="M9 592.13h91v3.95H9z"/>
<path class="R" d="M9 595.07h91v3.95H9z"/>
<path class="R" d="M9 598.02h40.57v3.95H9z"/>
<path class="B" d="M48.57 598.02h51.43v3.95H48.57z"/>
<path class="R" d="M9 600.97h7.93v3.95H9z"/>
<path class="B" d="M15.93 600.97h84.07v3.95H15.93z"/>
<path class="R" d="M9 603.91h13.87v3.95H9z"/>
<path class="L" d="M21.87 603.91h24.73v3.95H21.87z"/>
<path class="O" d="M45.6 603.91h54.4v3.95H45.6z"/>
<path class="R" d="M9 606.86h49.47v3.95H9z"/>
<path class="O" d="M57.47 606.86h15.83v3.95H57.47z"/>
<path class="B" d="M72.3 606.86h9.9v3.95H72.3z"/>
<path class="O" d="M81.2 606.86h15.83v3.95H81.2z"/>
<path class="R" d="M96.03 606.86h3.97v3.95H96.03z"/>
<path class="L" d="M9 609.8h25.73v3.95H9z"/>
<path class="O" d="M33.73 609.8h66.27v3.95H33.73z"/>
<path class="O" d="M9 612.75h91v3.95H9z"/>
<path class="R" d="M9 615.69h49.47v3.95H9z"/>
<path class="L" d="M57.47 615.69h3.97v3.95H57.47z"/>
<path class="O" d="M60.43 615.69h30.67v3.95H60.43z"/>
<path class="B" d="M90.1 615.69h3.97v3.95H90.1z"/>
<path class="R" d="M93.07 615.69h6.93v3.95H93.07z"/>
<path class="L" d="M9 618.64h19.8v3.95H9z"/>
<path class="R" d="M27.8 618.64h3.97v3.95H27.8z"/>
<path class="L" d="M30.77 618.64h6.93v3.95H30.77z"/>
<path class="R" d="M36.7 618.64h9.9v3.95H36.7z"/>
<path class="B" d="M45.6 618.64h21.77v3.95H45.6z"/>
<path class="O" d="M66.37 618.64h30.67v3.95H66.37z"/>
<path class="B" d="M96.03 618.64h3.97v3.95H96.03z"/>
<path class="R" d="M9 621.59h31.67v3.95H9z"/>
<path class="B" d="M39.67 621.59h60.33v3.95H39.67z"/>
<path class="R" d="M9 624.53h7.93v3.95H9z"/>
<path class="B" d="M15.93 624.53h84.07v3.95H15.93z"/>
<path class="R" d="M9 627.48h19.8v3.95H9z"/>
<path class="B" d="M27.8 627.48h72.2v3.95H27.8z"/>
<path class="O" d="M9 630.42h19.8v3.95H9z"/>
<path class="B" d="M27.8 630.42h3.97v3.95H27.8z"/>
<path class="O" d="M30.77 630.42h48.47v3.95H30.77z"/>
<path class="B" d="M78.23 630.42h3.97v3.95H78.23z"/>
<path class="O" d="M81.2 630.42h3.97v3.95H81.2z"/>
<path class="B" d="M84.17 630.42h12.87v3.95H84.17z"/>
<path class="O" d="M96.03 630.42h3.97v3.95H96.03z"/>
<path class="R" d="M9 633.37h58.37v3.95H9z"/>
<path class="L" d="M66.37 633.37h24.73v3.95H66.37z"/>
<path class="R" d="M90.1 633.37h9.9v3.95H90.1z"/>
<path class="R" d="M9 636.31h91v3.95H9z"/>
<path class="R" d="M9 639.26h79.13v3.95H9z"/>
<path class="B" d="M87.13 639.26h12.87v3.95H87.13z"/>
<path class="R" d="M9 642.21h16.83v3.95H9z"/>
<path class="B" d="M24.83 642.21h75.17v3.95H24.83z"/>
<path class="O" d="M9 645.15h91v3.95H9z"/>
<path class="B" d="M9 648.1h91v3.95H9z"/>
<path class="L" d="M9 651.04h91v3.95H9z"/>
<path class="L" d="M9 653.99h91v3.95H9z"/>
<path class="L" d="M9 656.93h13.87v3.95H9z"/>
<path class="R" d="M21.87 656.93h36.6v3.95H21.87z"/>
<path class="B" d="M57.47 656.93h3.97v3.95H57.47z"/>
<path class="R" d="M60.43 656.93h3.97v3.95H60.43z"/>
<path class="B" d="M63.4 656.93h3.97v3.95H63.4z"/>
<path class="O" d="M66.37 656.93h9.9v3.95H66.37z"/>
<path class="R" d="M75.27 656.93h6.93v3.95H75.27z"/>
<path class="B" d="M81.2 656.93h3.97v3.95H81.2z"/>
<path class="R" d="M84.17 656.93h3.97v3.95H84.17z"/>
<path class="O" d="M87.13 656.93h12.87v3.95H87.13z"/>
<path class="R" d="M9 659.88h88.03v3.95H9z"/>
<path class="B" d="M96.03 659.88h3.97v3.95H96.03z"/>
<path class="O" d="M9 662.83h91v3.95H9z"/>
<path class="R" d="M9 665.77h91v3.95H9z"/>
<path class="B" d="M9 668.72h91v3.95H9z"/>
<path class="B" d="M9 671.66h91v3.95H9z"/>
<path class="L" d="M9 674.61h19.8v3.95H9z"/>
<path class="R" d="M27.8 674.61h15.83v3.95H27.8z"/>
<path class="B" d="M42.63 674.61h30.67v3.95H42.63z"/>
<path class="R" d="M72.3 674.61h24.73v3.95H72.3z"/>
<path class="L" d="M96.03 674.61h3.97v3.95H96.03z"/>
<path class="R" d="M9 677.55h25.73v3.95H9z"/>
<path class="O" d="M33.73 677.55h66.27v3.95H33.73z"/>
</g>
<g clip-path="url(#cb0)">
<path fill="#508a44" d="M105.4 59.9h20.4v5.95H105.4z"/>
<path fill="#548d47" d="M105.4 64.85h20.4v3.95H105.4z"/>
<path fill="#58904b" d="M105.4 67.79h20.4v3.95H105.4z"/>
<path fill="#5c934e" d="M105.4 70.74h20.4v3.95H105.4z"/>
<path fill="#5d934e" d="M105.4 73.68h20.4v3.95H105.4z"/>
<path fill="#5d944f" d="M105.4 76.63h20.4v3.95H105.4z"/>
<path fill="#5e944f" d="M105.4 79.57h20.4v3.95H105.4z"/>
<path fill="#5f9550" d="M105.4 82.52h20.4v3.95H105.4z"/>
<path fill="#5f9550" d="M105.4 85.47h20.4v3.95H105.4z"/>
<path fill="#609551" d="M105.4 88.41h20.4v3.95H105.4z"/>
<path fill="#609651" d="M105.4 91.36h20.4v3.95H105.4z"/>
<path fill="#619652" d="M105.4 94.3h20.4v3.95H105.4z"/>
<path fill="#629752" d="M105.4 97.25h20.4v3.95H105.4z"/>
<path fill="#629753" d="M105.4 100.19h20.4v3.95H105.4z"/>
<path fill="#639753" d="M105.4 103.14h20.4v3.95H105.4z"/>
<path fill="#649853" d="M105.4 106.09h20.4v3.95H105.4z"/>
<path fill="#649854" d="M105.4 109.03h20.4v3.95H105.4z"/>
<path fill="#659954" d="M105.4 111.98h20.4v3.95H105.4z"/>
<path fill="#669955" d="M105.4 114.92h20.4v3.95H105.4z"/>
<path fill="#669955" d="M105.4 117.87h20.4v3.95H105.4z"/>
<path fill="#679a56" d="M105.4 120.81h20.4v3.95H105.4z"/>
<path fill="#679a56" d="M105.4 123.76h20.4v3.95H105.4z"/>
<path fill="#689a57" d="M105.4 126.71h20.4v3.95H105.4z"/>
<path fill="#699b57" d="M105.4 129.65h20.4v3.95H105.4z"/>
<path fill="#699b58" d="M105.4 132.6h20.4v3.95H105.4z"/>
<path fill="#6a9c58" d="M105.4 135.54h20.4v3.95H105.4z"/>
<path fill="#6b9c58" d="M105.4 138.49h20.4v3.95H105.4z"/>
<path fill="#6b9c59" d="M105.4 141.43h20.4v3.95H105.4z"/>
<path fill="#6c9d59" d="M105.4 144.38h20.4v3.95H105.4z"/>
<path fill="#6d9d5a" d="M105.4 147.33h20.4v3.95H105.4z"/>
<path fill="#6d9e5a" d="M105.4 150.27h20.4v3.95H105.4z"/>
<path fill="#6e9e5b" d="M105.4 153.22h20.4v3.95H105.4z"/>
<path fill="#6e9e5b" d="M105.4 156.16h20.4v3.95H105.4z"/>
<path fill="#6f9f5c" d="M105.4 159.11h20.4v3.95H105.4z"/>
<path fill="#709f5c" d="M105.4 162.05h20.4v3.95H105.4z"/>
<path fill="#70a05d" d="M105.4 165h20.4v3.95H105.4z"/>
<path fill="#71a05d" d="M105.4 167.95h20.4v3.95H105.4z"/>
<path fill="#73a15e" d="M105.4 170.89h20.4v3.95H105.4z"/>
<path fill="#74a260" d="M105.4 173.84h20.4v3.95H105.4z"/>
<path fill="#76a361" d="M105.4 176.78h20.4v3.95H105.4z"/>
<path fill="#78a462" d="M105.4 179.73h20.4v3.95H105.4z"/>
<path fill="#78a462" d="M105.4 182.67h20.4v3.95H105.4z"/>
<path fill="#79a462" d="M105.4 185.62h20.4v3.95H105.4z"/>
<path fill="#79a563" d="M105.4 188.57h20.4v3.95H105.4z"/>
<path fill="#79a563" d="M105.4 191.51h20.4v3.95H105.4z"/>
<path fill="#79a563" d="M105.4 194.46h20.4v3.95H105.4z"/>
<path fill="#7aa563" d="M105.4 197.4h20.4v3.95H105.4z"/>
<path fill="#7aa563" d="M105.4 200.35h20.4v3.95H105.4z"/>
<path fill="#7aa663" d="M105.4 203.29h20.4v3.95H105.4z"/>
<path fill="#7aa664" d="M105.4 206.24h20.4v3.95H105.4z"/>
<path fill="#7ba664" d="M105.4 209.19h20.4v3.95H105.4z"/>
<path fill="#7ba664" d="M105.4 212.13h20.4v3.95H105.4z"/>
<path fill="#7ba764" d="M105.4 215.08h20.4v3.95H105.4z"/>
<path fill="#7ba764" d="M105.4 218.02h20.4v3.95H105.4z"/>
<path fill="#7ca765" d="M105.4 220.97h20.4v3.95H105.4z"/>
<path fill="#7ca765" d="M105.4 223.91h20.4v3.95H105.4z"/>
<path fill="#7ca765" d="M105.4 226.86h20.4v3.95H105.4z"/>
<path fill="#7ca865" d="M105.4 229.81h20.4v3.95H105.4z"/>
<path fill="#7da865" d="M105.4 232.75h20.4v3.95H105.4z"/>
<path fill="#7da866" d="M105.4 235.7h20.4v3.95H105.4z"/>
<path fill="#7da866" d="M105.4 238.64h20.4v3.95H105.4z"/>
<path fill="#7ea866" d="M105.4 241.59h20.4v3.95H105.4z"/>
<path fill="#7ea966" d="M105.4 244.53h20.4v3.95H105.4z"/>
<path fill="#7ea966" d="M105.4 247.48h20.4v3.95H105.4z"/>
<path fill="#7ea966" d="M105.4 250.43h20.4v3.95H105.4z"/>
<path fill="#7fa967" d="M105.4 253.37h20.4v3.95H105.4z"/>
<path fill="#7fa967" d="M105.4 256.32h20.4v3.95H105.4z"/>
<path fill="#7faa67" d="M105.4 259.26h20.4v3.95H105.4z"/>
<path fill="#7faa67" d="M105.4 262.21h20.4v3.95H105.4z"/>
<path fill="#80aa67" d="M105.4 265.15h20.4v3.95H105.4z"/>
<path fill="#80aa68" d="M105.4 268.1h20.4v3.95H105.4z"/>
<path fill="#80ab68" d="M105.4 271.05h20.4v3.95H105.4z"/>
<path fill="#80ab68" d="M105.4 273.99h20.4v3.95H105.4z"/>
<path fill="#81ab68" d="M105.4 276.94h20.4v3.95H105.4z"/>
<path fill="#81ab68" d="M105.4 279.88h20.4v3.95H105.4z"/>
<path fill="#81ab68" d="M105.4 282.83h20.4v3.95H105.4z"/>
<path fill="#81ac69" d="M105.4 285.77h20.4v3.95H105.4z"/>
<path fill="#82ac69" d="M105.4 288.72h20.4v3.95H105.4z"/>
<path fill="#82ac69" d="M105.4 291.67h20.4v3.95H105.4z"/>
<path fill="#82ac69" d="M105.4 294.61h20.4v3.95H105.4z"/>
<path fill="#83ac69" d="M105.4 297.56h20.4v3.95H105.4z"/>
<path fill="#83ad6a" d="M105.4 300.5h20.4v3.95H105.4z"/>
<path fill="#83ad6a" d="M105.4 303.45h20.4v3.95H105.4z"/>
<path fill="#83ad6a" d="M105.4 306.39h20.4v3.95H105.4z"/>
<path fill="#84ad6a" d="M105.4 309.34h20.4v3.95H105.4z"/>
<path fill="#84ae6a" d="M105.4 312.29h20.4v3.95H105.4z"/>
<path fill="#84ae6b" d="M105.4 315.23h20.4v3.95H105.4z"/>
<path fill="#84ae6b" d="M105.4 318.18h20.4v3.95H105.4z"/>
<path fill="#85ae6b" d="M105.4 321.12h20.4v3.95H105.4z"/>
<path fill="#85ae6b" d="M105.4 324.07h20.4v3.95H105.4z"/>
<path fill="#85af6b" d="M105.4 327.01h20.4v3.95H105.4z"/>
<path fill="#86af6b" d="M105.4 329.96h20.4v3.95H105.4z"/>
<path fill="#86af6c" d="M105.4 332.91h20.4v3.95H105.4z"/>
<path fill="#86af6c" d="M105.4 335.85h20.4v3.95H105.4z"/>
<path fill="#86af6c" d="M105.4 338.8h20.4v3.95H105.4z"/>
<path fill="#87b06c" d="M105.4 341.74h20.4v3.95H105.4z"/>
<path fill="#87b06c" d="M105.4 344.69h20.4v3.95H105.4z"/>
<path fill="#87b06d" d="M105.4 347.63h20.4v3.95H105.4z"/>
<path fill="#87b06d" d="M105.4 350.58h20.4v3.95H105.4z"/>
<path fill="#88b16d" d="M105.4 353.53h20.4v3.95H105.4z"/>
<path fill="#88b16d" d="M105.4 356.47h20.4v3.95H105.4z"/>
<path fill="#88b16d" d="M105.4 359.42h20.4v3.95H105.4z"/>
<path fill="#88b16e" d="M105.4 362.36h20.4v3.95H105.4z"/>
<path fill="#89b16e" d="M105.4 365.31h20.4v3.95H105.4z"/>
<path fill="#89b26e" d="M105.4 368.25h20.4v3.95H105.4z"/>
<path fill="#89b26e" d="M105.4 371.2h20.4v3.95H105.4z"/>
<path fill="#8ab26e" d="M105.4 374.15h20.4v3.95H105.4z"/>
<path fill="#8ab26e" d="M105.4 377.09h20.4v3.95H105.4z"/>
<path fill="#8ab26f" d="M105.4 380.04h20.4v3.95H105.4z"/>
<path fill="#8ab36f" d="M105.4 382.98h20.4v3.95H105.4z"/>
<path fill="#8bb36f" d="M105.4 385.93h20.4v3.95H105.4z"/>
<path fill="#8bb36f" d="M105.4 388.87h20.4v3.95H105.4z"/>
<path fill="#8bb36f" d="M105.4 391.82h20.4v3.95H105.4z"/>
<path fill="#8bb470" d="M105.4 394.77h20.4v3.95H105.4z"/>
<path fill="#8cb470" d="M105.4 397.71h20.4v3.95H105.4z"/>
<path fill="#8cb470" d="M105.4 400.66h20.4v3.95H105.4z"/>
<path fill="#8cb470" d="M105.4 403.6h20.4v3.95H105.4z"/>
<path fill="#8db571" d="M105.4 406.55h20.4v3.95H105.4z"/>
<path fill="#8db571" d="M105.4 409.49h20.4v3.95H105.4z"/>
<path fill="#8eb571" d="M105.4 412.44h20.4v3.95H105.4z"/>
<path fill="#8eb671" d="M105.4 415.39h20.4v3.95H105.4z"/>
<path fill="#8eb672" d="M105.4 418.33h20.4v3.95H105.4z"/>
<path fill="#8fb672" d="M105.4 421.28h20.4v3.95H105.4z"/>
<path fill="#8fb672" d="M105.4 424.22h20.4v3.95H105.4z"/>
<path fill="#90b772" d="M105.4 427.17h20.4v3.95H105.4z"/>
<path fill="#90b773" d="M105.4 430.11h20.4v3.95H105.4z"/>
<path fill="#90b773" d="M105.4 433.06h20.4v3.95H105.4z"/>
<path fill="#91b873" d="M105.4 436.01h20.4v3.95H105.4z"/>
<path fill="#91b873" d="M105.4 438.95h20.4v3.95H105.4z"/>
<path fill="#92b874" d="M105.4 441.9h20.4v3.95H105.4z"/>
<path fill="#92b874" d="M105.4 444.84h20.4v3.95H105.4z"/>
<path fill="#92b974" d="M105.4 447.79h20.4v3.95H105.4z"/>
<path fill="#93b974" d="M105.4 450.73h20.4v3.95H105.4z"/>
<path fill="#93b975" d="M105.4 453.68h20.4v3.95H105.4z"/>
<path fill="#94ba75" d="M105.4 456.63h20.4v3.95H105.4z"/>
<path fill="#94ba75" d="M105.4 459.57h20.4v3.95H105.4z"/>
<path fill="#94ba75" d="M105.4 462.52h20.4v3.95H105.4z"/>
<path fill="#95bb76" d="M105.4 465.46h20.4v3.95H105.4z"/>
<path fill="#95bb76" d="M105.4 468.41h20.4v3.95H105.4z"/>
<path fill="#96bb76" d="M105.4 471.35h20.4v3.95H105.4z"/>
<path fill="#96bc76" d="M105.4 474.3h20.4v3.95H105.4z"/>
<path fill="#96bc77" d="M105.4 477.25h20.4v3.95H105.4z"/>
<path fill="#97bc77" d="M105.4 480.19h20.4v3.95H105.4z"/>
<path fill="#97bc77" d="M105.4 483.14h20.4v3.95H105.4z"/>
<path fill="#98bd78" d="M105.4 486.08h20.4v3.95H105.4z"/>
<path fill="#98bd78" d="M105.4 489.03h20.4v3.95H105.4z"/>
<path fill="#98bd78" d="M105.4 491.97h20.4v3.95H105.4z"/>
<path fill="#99be78" d="M105.4 494.92h20.4v3.95H105.4z"/>
<path fill="#99be79" d="M105.4 497.87h20.4v3.95H105.4z"/>
<path fill="#9abe79" d="M105.4 500.81h20.4v3.95H105.4z"/>
<path fill="#9abe79" d="M105.4 503.76h20.4v3.95H105.4z"/>
<path fill="#9abf79" d="M105.4 506.7h20.4v3.95H105.4z"/>
<path fill="#9bbf7a" d="M105.4 509.65h20.4v3.95H105.4z"/>
<path fill="#9bbf7a" d="M105.4 512.59h20.4v3.95H105.4z"/>
<path fill="#9cc07a" d="M105.4 515.54h20.4v3.95H105.4z"/>
<path fill="#9cc07a" d="M105.4 518.49h20.4v3.95H105.4z"/>
<path fill="#9cc07b" d="M105.4 521.43h20.4v3.95H105.4z"/>
<path fill="#9dc17b" d="M105.4 524.38h20.4v3.95H105.4z"/>
<path fill="#9dc17b" d="M105.4 527.32h20.4v3.95H105.4z"/>
<path fill="#9ec17b" d="M105.4 530.27h20.4v3.95H105.4z"/>
<path fill="#9ec27c" d="M105.4 533.21h20.4v3.95H105.4z"/>
<path fill="#9ec27c" d="M105.4 536.16h20.4v3.95H105.4z"/>
<path fill="#9fc27c" d="M105.4 539.11h20.4v3.95H105.4z"/>
<path fill="#9fc27c" d="M105.4 542.05h20.4v3.95H105.4z"/>
<path fill="#a0c37d" d="M105.4 545h20.4v3.95H105.4z"/>
<path fill="#a0c37d" d="M105.4 547.94h20.4v3.95H105.4z"/>
<path fill="#a1c47e" d="M105.4 550.89h20.4v3.95H105.4z"/>
<path fill="#a2c47e" d="M105.4 553.83h20.4v3.95H105.4z"/>
<path fill="#a3c57f" d="M105.4 556.78h20.4v3.95H105.4z"/>
<path fill="#a4c57f" d="M105.4 559.73h20.4v3.95H105.4z"/>
<path fill="#a5c680" d="M105.4 562.67h20.4v3.95H105.4z"/>
<path fill="#a6c781" d="M105.4 565.62h20.4v3.95H105.4z"/>
<path fill="#a6c781" d="M105.4 568.56h20.4v3.95H105.4z"/>
<path fill="#a7c882" d="M105.4 571.51h20.4v3.95H105.4z"/>
<path fill="#a8c983" d="M105.4 574.45h20.4v3.95H105.4z"/>
<path fill="#a9c983" d="M105.4 577.4h20.4v3.95H105.4z"/>
<path fill="#aaca84" d="M105.4 580.35h20.4v3.95H105.4z"/>
<path fill="#abca84" d="M105.4 583.29h20.4v3.95H105.4z"/>
<path fill="#accb85" d="M105.4 586.24h20.4v3.95H105.4z"/>
<path fill="#aecc86" d="M105.4 589.18h20.4v3.95H105.4z"/>
<path fill="#afcd87" d="M105.4 592.13h20.4v3.95H105.4z"/>
<path fill="#b1ce88" d="M105.4 595.07h20.4v3.95H105.4z"/>
<path fill="#b3d089" d="M105.4 598.02h20.4v3.95H105.4z"/>
<path fill="#b4d18a" d="M105.4 600.97h20.4v3.95H105.4z"/>
<path fill="#b6d28c" d="M105.4 603.91h20.4v3.95H105.4z"/>
<path fill="#b8d38d" d="M105.4 606.86h20.4v3.95H105.4z"/>
<path fill="#b9d48e" d="M105.4 609.8h20.4v3.95H105.4z"/>
<path fill="#bbd68f" d="M105.4 612.75h20.4v3.95H105.4z"/>
<path fill="#bdd790" d="M105.4 615.69h20.4v3.95H105.4z"/>
<path fill="#bed891" d="M105.4 618.64h20.4v3.95H105.4z"/>
<path fill="#c0d992" d="M105.4 621.59h20.4v3.95H105.4z"/>
<path fill="#c2da93" d="M105.4 624.53h20.4v3.95H105.4z"/>
<path fill="#c3db94" d="M105.4 627.48h20.4v3.95H105.4z"/>
<path fill="#c5dc96" d="M105.4 630.42h20.4v3.95H105.4z"/>
<path fill="#c6dd97" d="M105.4 633.37h20.4v3.95H105.4z"/>
<path fill="#c8de98" d="M105.4 636.31h20.4v3.95H105.4z"/>
<path fill="#cade99" d="M105.4 639.26h20.4v3.95H105.4z"/>
<path fill="#cbdf9a" d="M105.4 642.21h20.4v3.95H105.4z"/>
<path fill="#cde09c" d="M105.4 645.15h20.4v3.95H105.4z"/>
<path fill="#cee19d" d="M105.4 648.1h20.4v3.95H105.4z"/>
<path fill="#d0e29e" d="M105.4 651.04h20.4v3.95H105.4z"/>
<path fill="#d2e39f" d="M105.4 653.99h20.4v3.95H105.4z"/>
<path fill="#d4e4a1" d="M105.4 656.93h20.4v3.95H105.4z"/>
<path fill="#d6e5a2" d="M105.4 659.88h20.4v3.95H105.4z"/>
<path fill="#d8e6a4" d="M105.4 662.83h20.4v3.95H105.4z"/>
<path fill="#dae7a5" d="M105.4 665.77h20.4v3.95H105.4z"/>
<path fill="#dee9a8" d="M105.4 668.72h20.4v3.95H105.4z"/>
<path fill="#e2ecac" d="M105.4 671.66h20.4v3.95H105.4z"/>
<path fill="#e7eeaf" d="M105.4 674.61h20.4v3.95H105.4z"/>
<path fill="#ebf0b2" d="M105.4 677.55h20.4v3.95H105.4z"/>
<rect x="106.4" y="61.3" width="0.9" height="619.2" fill="#2f6a20" opacity="0.18"/>
<rect x="123.9" y="61.3" width="0.9" height="619.2" fill="#2f6a20" opacity="0.18"/>
</g>
<clipPath id="cp1"><rect x="181.8" y="61.9" width="88.1" height="618.6"/></clipPath>
<clipPath id="cb1"><rect x="278" y="61.3" width="18.4" height="619.2"/></clipPath>
<g clip-path="url(#cp1)">
<path class="R" d="M180.8 60.9h60.73v4.95H180.8z"/>
<path class="L" d="M240.53 60.9h27.43v4.95H240.53z"/>
<path class="R" d="M266.96 60.9h3.94v4.95H266.96z"/>
<path class="R" d="M180.8 64.85h13.75v3.95H180.8z"/>
<path class="O" d="M193.55 64.85h77.35v3.95H193.55z"/>
<path class="R" d="M180.8 67.79h46.05v3.95H180.8z"/>
<path class="O" d="M225.85 67.79h12.75v3.95H225.85z"/>
<path class="L" d="M237.6 67.79h3.94v3.95H237.6z"/>
<path class="O" d="M240.53 67.79h3.94v3.95H240.53z"/>
<path class="L" d="M243.47 67.79h15.68v3.95H243.47z"/>
<path class="O" d="M258.15 67.79h3.94v3.95H258.15z"/>
<path class="L" d="M261.09 67.79h6.87v3.95H261.09z"/>
<path class="O" d="M266.96 67.79h3.94v3.95H266.96z"/>
<path class="L" d="M180.8 70.74h7.87v3.95H180.8z"/>
<path class="R" d="M187.67 70.74h39.18v3.95H187.67z"/>
<path class="O" d="M225.85 70.74h12.75v3.95H225.85z"/>
<path class="L" d="M237.6 70.74h33.3v3.95H237.6z"/>
<path class="R" d="M180.8 73.68h19.62v3.95H180.8z"/>
<path class="B" d="M199.42 73.68h71.48v3.95H199.42z"/>
<path class="R" d="M180.8 76.63h90.1v3.95H180.8z"/>
<path class="O" d="M180.8 79.57h90.1v3.95H180.8z"/>
<path class="R" d="M180.8 82.52h43.11v3.95H180.8z"/>
<path class="L" d="M222.91 82.52h3.94v3.95H222.91z"/>
<path class="B" d="M225.85 82.52h9.81v3.95H225.85z"/>
<path class="L" d="M234.66 82.52h15.68v3.95H234.66z"/>
<path class="O" d="M249.34 82.52h15.68v3.95H249.34z"/>
<path class="B" d="M264.03 82.52h3.94v3.95H264.03z"/>
<path class="L" d="M266.96 82.52h3.94v3.95H266.96z"/>
<path class="L" d="M180.8 85.47h13.75v3.95H180.8z"/>
<path class="R" d="M193.55 85.47h56.8v3.95H193.55z"/>
<path class="B" d="M249.34 85.47h21.56v3.95H249.34z"/>
<path class="R" d="M180.8 88.41h90.1v3.95H180.8z"/>
<path class="R" d="M180.8 91.36h40.18v3.95H180.8z"/>
<path class="B" d="M219.98 91.36h50.92v3.95H219.98z"/>
<path class="R" d="M180.8 94.3h7.87v3.95H180.8z"/>
<path class="B" d="M187.67 94.3h83.23v3.95H187.67z"/>
<path class="R" d="M180.8 97.25h48.99v3.95H180.8z"/>
<path class="O" d="M228.79 97.25h15.68v3.95H228.79z"/>
<path class="B" d="M243.47 97.25h9.81v3.95H243.47z"/>
<path class="O" d="M252.28 97.25h15.68v3.95H252.28z"/>
<path class="R" d="M266.96 97.25h3.94v3.95H266.96z"/>
<path class="O" d="M180.8 100.19h90.1v3.95H180.8z"/>
<path class="R" d="M180.8 103.14h48.99v3.95H180.8z"/>
<path class="L" d="M228.79 103.14h3.94v3.95H228.79z"/>
<path class="O" d="M231.72 103.14h30.37v3.95H231.72z"/>
<path class="B" d="M261.09 103.14h3.94v3.95H261.09z"/>
<path class="R" d="M264.03 103.14h6.87v3.95H264.03z"/>
<path class="R" d="M180.8 106.09h7.87v3.95H180.8z"/>
<path class="B" d="M187.67 106.09h83.23v3.95H187.67z"/>
<path class="R" d="M180.8 109.03h19.62v3.95H180.8z"/>
<path class="B" d="M199.42 109.03h71.48v3.95H199.42z"/>
<path class="R" d="M180.8 111.98h57.8v3.95H180.8z"/>
<path class="L" d="M237.6 111.98h24.49v3.95H237.6z"/>
<path class="R" d="M261.09 111.98h9.81v3.95H261.09z"/>
<path class="R" d="M180.8 114.92h90.1v3.95H180.8z"/>
<path class="R" d="M180.8 117.87h78.35v3.95H180.8z"/>
<path class="B" d="M258.15 117.87h12.75v3.95H258.15z"/>
<path class="O" d="M180.8 120.81h90.1v3.95H180.8z"/>
<path class="B" d="M180.8 123.76h90.1v3.95H180.8z"/>
<path class="L" d="M180.8 126.71h90.1v3.95H180.8z"/>
<path class="L" d="M180.8 129.65h90.1v3.95H180.8z"/>
<path class="L" d="M180.8 132.6h13.75v3.95H180.8z"/>
<path class="R" d="M193.55 132.6h36.24v3.95H193.55z"/>
<path class="B" d="M228.79 132.6h3.94v3.95H228.79z"/>
<path class="R" d="M231.72 132.6h3.94v3.95H231.72z"/>
<path class="B" d="M234.66 132.6h3.94v3.95H234.66z"/>
<path class="O" d="M237.6 132.6h9.81v3.95H237.6z"/>
<path class="R" d="M246.41 132.6h6.87v3.95H246.41z"/>
<path class="B" d="M252.28 132.6h3.94v3.95H252.28z"/>
<path class="R" d="M255.22 132.6h3.94v3.95H255.22z"/>
<path class="O" d="M258.15 132.6h12.75v3.95H258.15z"/>
<path class="R" d="M180.8 135.54h87.16v3.95H180.8z"/>
<path class="B" d="M266.96 135.54h3.94v3.95H266.96z"/>
<path class="O" d="M180.8 138.49h90.1v3.95H180.8z"/>
<path class="R" d="M180.8 141.43h90.1v3.95H180.8z"/>
<path class="L" d="M180.8 144.38h19.62v3.95H180.8z"/>
<path class="R" d="M199.42 144.38h15.68v3.95H199.42z"/>
<path class="B" d="M214.1 144.38h30.37v3.95H214.1z"/>
<path class="R" d="M243.47 144.38h24.49v3.95H243.47z"/>
<path class="L" d="M266.96 144.38h3.94v3.95H266.96z"/>
<path class="R" d="M180.8 147.33h25.49v3.95H180.8z"/>
<path class="O" d="M205.29 147.33h65.61v3.95H205.29z"/>
<path class="R" d="M180.8 150.27h46.05v3.95H180.8z"/>
<path class="O" d="M225.85 150.27h33.3v3.95H225.85z"/>
<path class="B" d="M258.15 150.27h3.94v3.95H258.15z"/>
<path class="O" d="M261.09 150.27h9.81v3.95H261.09z"/>
<path class="R" d="M180.8 153.22h48.99v3.95H180.8z"/>
<path class="B" d="M228.79 153.22h12.75v3.95H228.79z"/>
<path class="O" d="M240.53 153.22h3.94v3.95H240.53z"/>
<path class="B" d="M243.47 153.22h15.68v3.95H243.47z"/>
<path class="O" d="M258.15 153.22h3.94v3.95H258.15z"/>
<path class="B" d="M261.09 153.22h6.87v3.95H261.09z"/>
<path class="O" d="M266.96 153.22h3.94v3.95H266.96z"/>
<path class="R" d="M180.8 156.16h46.05v3.95H180.8z"/>
<path class="B" d="M225.85 156.16h3.94v3.95H225.85z"/>
<path class="O" d="M228.79 156.16h6.87v3.95H228.79z"/>
<path class="L" d="M234.66 156.16h3.94v3.95H234.66z"/>
<path class="O" d="M237.6 156.16h12.75v3.95H237.6z"/>
<path class="B" d="M249.34 156.16h3.94v3.95H249.34z"/>
<path class="O" d="M252.28 156.16h12.75v3.95H252.28z"/>
<path class="R" d="M264.03 156.16h3.94v3.95H264.03z"/>
<path class="B" d="M266.96 156.16h3.94v3.95H266.96z"/>
<path class="R" d="M180.8 159.11h40.18v3.95H180.8z"/>
<path class="B" d="M219.98 159.11h27.43v3.95H219.98z"/>
<path class="L" d="M246.41 159.11h3.94v3.95H246.41z"/>
<path class="O" d="M249.34 159.11h3.94v3.95H249.34z"/>
<path class="B" d="M252.28 159.11h3.94v3.95H252.28z"/>
<path class="O" d="M255.22 159.11h3.94v3.95H255.22z"/>
<path class="L" d="M258.15 159.11h6.87v3.95H258.15z"/>
<path class="B" d="M264.03 159.11h3.94v3.95H264.03z"/>
<path class="L" d="M266.96 159.11h3.94v3.95H266.96z"/>
<path class="R" d="M180.8 162.05h7.87v3.95H180.8z"/>
<path class="L" d="M187.67 162.05h3.94v3.95H187.67z"/>
<path class="R" d="M190.61 162.05h39.18v3.95H190.61z"/>
<path class="O" d="M228.79 162.05h6.87v3.95H228.79z"/>
<path class="B" d="M234.66 162.05h3.94v3.95H234.66z"/>
<path class="O" d="M237.6 162.05h9.81v3.95H237.6z"/>
<path class="B" d="M246.41 162.05h3.94v3.95H246.41z"/>
<path class="O" d="M249.34 162.05h21.56v3.95H249.34z"/>
<path class="R" d="M180.8 165h46.05v3.95H180.8z"/>
<path class="O" d="M225.85 165h9.81v3.95H225.85z"/>
<path class="L" d="M234.66 165h27.43v3.95H234.66z"/>
<path class="O" d="M261.09 165h9.81v3.95H261.09z"/>
<path class="R" d="M180.8 167.95h48.99v3.95H180.8z"/>
<path class="B" d="M228.79 167.95h33.3v3.95H228.79z"/>
<path class="O" d="M261.09 167.95h9.81v3.95H261.09z"/>
<path class="O" d="M180.8 170.89h90.1v3.95H180.8z"/>
<path class="L" d="M180.8 173.84h7.87v3.95H180.8z"/>
<path class="R" d="M187.67 173.84h42.11v3.95H187.67z"/>
<path class="O" d="M228.79 173.84h42.11v3.95H228.79z"/>
<path class="R" d="M180.8 176.78h40.18v3.95H180.8z"/>
<path class="B" d="M219.98 176.78h47.99v3.95H219.98z"/>
<path class="L" d="M266.96 176.78h3.94v3.95H266.96z"/>
<path class="R" d="M180.8 179.73h7.87v3.95H180.8z"/>
<path class="B" d="M187.67 179.73h83.23v3.95H187.67z"/>
<path class="O" d="M180.8 182.67h90.1v3.95H180.8z"/>
<path class="O" d="M180.8 185.62h90.1v3.95H180.8z"/>
<path class="R" d="M180.8 188.57h46.05v3.95H180.8z"/>
<path class="B" d="M225.85 188.57h42.11v3.95H225.85z"/>
<path class="O" d="M266.96 188.57h3.94v3.95H266.96z"/>
<path class="R" d="M180.8 191.51h37.24v3.95H180.8z"/>
<path class="B" d="M217.04 191.51h53.86v3.95H217.04z"/>
<path class="B" d="M180.8 194.46h90.1v3.95H180.8z"/>
<path class="R" d="M180.8 197.4h40.18v3.95H180.8z"/>
<path class="O" d="M219.98 197.4h45.05v3.95H219.98z"/>
<path class="B" d="M264.03 197.4h3.94v3.95H264.03z"/>
<path class="L" d="M266.96 197.4h3.94v3.95H266.96z"/>
<path class="O" d="M180.8 200.35h90.1v3.95H180.8z"/>
<path class="R" d="M180.8 203.29h37.24v3.95H180.8z"/>
<path class="B" d="M217.04 203.29h53.86v3.95H217.04z"/>
<path class="O" d="M180.8 206.24h90.1v3.95H180.8z"/>
<path class="R" d="M180.8 209.19h19.62v3.95H180.8z"/>
<path class="O" d="M199.42 209.19h65.61v3.95H199.42z"/>
<path class="B" d="M264.03 209.19h3.94v3.95H264.03z"/>
<path class="O" d="M266.96 209.19h3.94v3.95H266.96z"/>
<path class="O" d="M180.8 212.13h90.1v3.95H180.8z"/>
<path class="O" d="M180.8 215.08h90.1v3.95H180.8z"/>
<path class="O" d="M180.8 218.02h90.1v3.95H180.8z"/>
<path class="R" d="M180.8 220.97h28.43v3.95H180.8z"/>
<path class="O" d="M208.23 220.97h53.86v3.95H208.23z"/>
<path class="B" d="M261.09 220.97h9.81v3.95H261.09z"/>
<path class="O" d="M180.8 223.91h7.87v3.95H180.8z"/>
<path class="B" d="M187.67 223.91h83.23v3.95H187.67z"/>
<path class="L" d="M180.8 226.86h90.1v3.95H180.8z"/>
<path class="L" d="M180.8 229.81h13.75v3.95H180.8z"/>
<path class="O" d="M193.55 229.81h77.35v3.95H193.55z"/>
<path class="R" d="M180.8 232.75h34.3v3.95H180.8z"/>
<path class="O" d="M214.1 232.75h53.86v3.95H214.1z"/>
<path class="B" d="M266.96 232.75h3.94v3.95H266.96z"/>
<path class="R" d="M180.8 235.7h7.87v3.95H180.8z"/>
<path class="O" d="M187.67 235.7h83.23v3.95H187.67z"/>
<path class="B" d="M180.8 238.64h81.29v3.95H180.8z"/>
<path class="O" d="M261.09 238.64h9.81v3.95H261.09z"/>
<path class="R" d="M180.8 241.59h7.87v3.95H180.8z"/>
<path class="L" d="M187.67 241.59h3.94v3.95H187.67z"/>
<path class="R" d="M190.61 241.59h36.24v3.95H190.61z"/>
<path class="L" d="M225.85 241.59h15.68v3.95H225.85z"/>
<path class="O" d="M240.53 241.59h21.56v3.95H240.53z"/>
<path class="L" d="M261.09 241.59h9.81v3.95H261.09z"/>
<path class="B" d="M180.8 244.53h90.1v3.95H180.8z"/>
<path class="R" d="M180.8 247.48h4.94v3.95H180.8z"/>
<path class="L" d="M184.74 247.48h6.87v3.95H184.74z"/>
<path class="R" d="M190.61 247.48h6.87v3.95H190.61z"/>
<path class="L" d="M196.48 247.48h12.75v3.95H196.48z"/>
<path class="R" d="M208.23 247.48h3.94v3.95H208.23z"/>
<path class="L" d="M211.17 247.48h15.68v3.95H211.17z"/>
<path class="O" d="M225.85 247.48h3.94v3.95H225.85z"/>
<path class="B" d="M228.79 247.48h6.87v3.95H228.79z"/>
<path class="L" d="M234.66 247.48h3.94v3.95H234.66z"/>
<path class="O" d="M237.6 247.48h6.87v3.95H237.6z"/>
<path class="B" d="M243.47 247.48h3.94v3.95H243.47z"/>
<path class="L" d="M246.41 247.48h3.94v3.95H246.41z"/>
<path class="O" d="M249.34 247.48h3.94v3.95H249.34z"/>
<path class="B" d="M252.28 247.48h3.94v3.95H252.28z"/>
<path class="O" d="M255.22 247.48h9.81v3.95H255.22z"/>
<path class="R" d="M264.03 247.48h3.94v3.95H264.03z"/>
<path class="B" d="M266.96 247.48h3.94v3.95H266.96z"/>
<path class="O" d="M180.8 250.43h84.23v3.95H180.8z"/>
<path class="B" d="M264.03 250.43h3.94v3.95H264.03z"/>
<path class="O" d="M266.96 250.43h3.94v3.95H266.96z"/>
<path class="L" d="M180.8 253.37h37.24v3.95H180.8z"/>
<path class="B" d="M217.04 253.37h53.86v3.95H217.04z"/>
<path class="B" d="M180.8 256.32h90.1v3.95H180.8z"/>
<path class="B" d="M180.8 259.26h7.87v3.95H180.8z"/>
<path class="O" d="M187.67 259.26h83.23v3.95H187.67z"/>
<path class="L" d="M180.8 262.21h13.75v3.95H180.8z"/>
<path class="R" d="M193.55 262.21h18.62v3.95H193.55z"/>
<path class="L" d="M211.17 262.21h6.87v3.95H211.17z"/>
<path class="R" d="M217.04 262.21h6.87v3.95H217.04z"/>
<path class="B" d="M222.91 262.21h9.81v3.95H222.91z"/>
<path class="L" d="M231.72 262.21h3.94v3.95H231.72z"/>
<path class="B" d="M234.66 262.21h3.94v3.95H234.66z"/>
<path class="O" d="M237.6 262.21h3.94v3.95H237.6z"/>
<path class="B" d="M240.53 262.21h21.56v3.95H240.53z"/>
<path class="L" d="M261.09 262.21h9.81v3.95H261.09z"/>
<path class="L" d="M180.8 265.15h7.87v3.95H180.8z"/>
<path class="R" d="M187.67 265.15h36.24v3.95H187.67z"/>
<path class="B" d="M222.91 265.15h12.75v3.95H222.91z"/>
<path class="O" d="M234.66 265.15h6.87v3.95H234.66z"/>
<path class="L" d="M240.53 265.15h3.94v3.95H240.53z"/>
<path class="O" d="M243.47 265.15h6.87v3.95H243.47z"/>
<path class="L" d="M249.34 265.15h12.75v3.95H249.34z"/>
<path class="B" d="M261.09 265.15h3.94v3.95H261.09z"/>
<path class="L" d="M264.03 265.15h3.94v3.95H264.03z"/>
<path class="B" d="M266.96 265.15h3.94v3.95H266.96z"/>
<path class="B" d="M180.8 268.1h7.87v3.95H180.8z"/>
<path class="O" d="M187.67 268.1h83.23v3.95H187.67z"/>
<path class="L" d="M180.8 271.05h10.81v3.95H180.8z"/>
<path class="R" d="M190.61 271.05h33.3v3.95H190.61z"/>
<path class="L" d="M222.91 271.05h6.87v3.95H222.91z"/>
<path class="B" d="M228.79 271.05h3.94v3.95H228.79z"/>
<path class="O" d="M231.72 271.05h18.62v3.95H231.72z"/>
<path class="B" d="M249.34 271.05h3.94v3.95H249.34z"/>
<path class="O" d="M252.28 271.05h3.94v3.95H252.28z"/>
<path class="B" d="M255.22 271.05h3.94v3.95H255.22z"/>
<path class="O" d="M258.15 271.05h9.81v3.95H258.15z"/>
<path class="B" d="M266.96 271.05h3.94v3.95H266.96z"/>
<path class="R" d="M180.8 273.99h37.24v3.95H180.8z"/>
<path class="B" d="M217.04 273.99h12.75v3.95H217.04z"/>
<path class="O" d="M228.79 273.99h39.18v3.95H228.79z"/>
<path class="L" d="M266.96 273.99h3.94v3.95H266.96z"/>
<path class="B" d="M180.8 276.94h7.87v3.95H180.8z"/>
<path class="R" d="M187.67 276.94h39.18v3.95H187.67z"/>
<path class="B" d="M225.85 276.94h6.87v3.95H225.85z"/>
<path class="O" d="M231.72 276.94h3.94v3.95H231.72z"/>
<path class="B" d="M234.66 276.94h3.94v3.95H234.66z"/>
<path class="O" d="M237.6 276.94h24.49v3.95H237.6z"/>
<path class="B" d="M261.09 276.94h9.81v3.95H261.09z"/>
<path class="R" d="M180.8 279.88h7.87v3.95H180.8z"/>
<path class="L" d="M187.67 279.88h3.94v3.95H187.67z"/>
<path class="R" d="M190.61 279.88h30.37v3.95H190.61z"/>
<path class="B" d="M219.98 279.88h50.92v3.95H219.98z"/>
<path class="R" d="M180.8 282.83h40.18v3.95H180.8z"/>
<path class="B" d="M219.98 282.83h24.49v3.95H219.98z"/>
<path class="O" d="M243.47 282.83h24.49v3.95H243.47z"/>
<path class="B" d="M266.96 282.83h3.94v3.95H266.96z"/>
<path class="R" d="M180.8 285.77h7.87v3.95H180.8z"/>
<path class="L" d="M187.67 285.77h12.75v3.95H187.67z"/>
<path class="B" d="M199.42 285.77h9.81v3.95H199.42z"/>
<path class="O" d="M208.23 285.77h15.68v3.95H208.23z"/>
<path class="B" d="M222.91 285.77h3.94v3.95H222.91z"/>
<path class="O" d="M225.85 285.77h30.37v3.95H225.85z"/>
<path class="B" d="M255.22 285.77h12.75v3.95H255.22z"/>
<path class="O" d="M266.96 285.77h3.94v3.95H266.96z"/>
<path class="R" d="M180.8 288.72h13.75v3.95H180.8z"/>
<path class="B" d="M193.55 288.72h77.35v3.95H193.55z"/>
<path class="B" d="M180.8 291.67h90.1v3.95H180.8z"/>
<path class="L" d="M180.8 294.61h54.86v3.95H180.8z"/>
<path class="O" d="M234.66 294.61h9.81v3.95H234.66z"/>
<path class="B" d="M243.47 294.61h3.94v3.95H243.47z"/>
<path class="O" d="M246.41 294.61h24.49v3.95H246.41z"/>
<path class="R" d="M180.8 297.56h37.24v3.95H180.8z"/>
<path class="O" d="M217.04 297.56h6.87v3.95H217.04z"/>
<path class="B" d="M222.91 297.56h18.62v3.95H222.91z"/>
<path class="O" d="M240.53 297.56h6.87v3.95H240.53z"/>
<path class="B" d="M246.41 297.56h24.49v3.95H246.41z"/>
<path class="B" d="M180.8 300.5h90.1v3.95H180.8z"/>
<path class="R" d="M180.8 303.45h13.75v3.95H180.8z"/>
<path class="L" d="M193.55 303.45h24.49v3.95H193.55z"/>
<path class="O" d="M217.04 303.45h53.86v3.95H217.04z"/>
<path class="L" d="M180.8 306.39h25.49v3.95H180.8z"/>
<path class="O" d="M205.29 306.39h65.61v3.95H205.29z"/>
<path class="L" d="M180.8 309.34h19.62v3.95H180.8z"/>
<path class="R" d="M199.42 309.34h3.94v3.95H199.42z"/>
<path class="L" d="M202.36 309.34h6.87v3.95H202.36z"/>
<path class="R" d="M208.23 309.34h9.81v3.95H208.23z"/>
<path class="B" d="M217.04 309.34h21.56v3.95H217.04z"/>
<path class="O" d="M237.6 309.34h30.37v3.95H237.6z"/>
<path class="B" d="M266.96 309.34h3.94v3.95H266.96z"/>
<path class="R" d="M180.8 312.29h31.37v3.95H180.8z"/>
<path class="B" d="M211.17 312.29h59.73v3.95H211.17z"/>
<path class="O" d="M180.8 315.23h19.62v3.95H180.8z"/>
<path class="B" d="M199.42 315.23h3.94v3.95H199.42z"/>
<path class="O" d="M202.36 315.23h47.99v3.95H202.36z"/>
<path class="B" d="M249.34 315.23h3.94v3.95H249.34z"/>
<path class="O" d="M252.28 315.23h3.94v3.95H252.28z"/>
<path class="B" d="M255.22 315.23h12.75v3.95H255.22z"/>
<path class="O" d="M266.96 315.23h3.94v3.95H266.96z"/>
<path class="R" d="M180.8 318.18h16.68v3.95H180.8z"/>
<path class="B" d="M196.48 318.18h74.42v3.95H196.48z"/>
<path class="B" d="M180.8 321.12h90.1v3.95H180.8z"/>
<path class="B" d="M180.8 324.07h90.1v3.95H180.8z"/>
<path class="R" d="M180.8 327.01h46.05v3.95H180.8z"/>
<path class="O" d="M225.85 327.01h39.18v3.95H225.85z"/>
<path class="L" d="M264.03 327.01h3.94v3.95H264.03z"/>
<path class="O" d="M266.96 327.01h3.94v3.95H266.96z"/>
<path class="R" d="M180.8 329.96h46.05v3.95H180.8z"/>
<path class="B" d="M225.85 329.96h6.87v3.95H225.85z"/>
<path class="O" d="M231.72 329.96h36.24v3.95H231.72z"/>
<path class="B" d="M266.96 329.96h3.94v3.95H266.96z"/>
<path class="R" d="M180.8 332.91h43.11v3.95H180.8z"/>
<path class="O" d="M222.91 332.91h39.18v3.95H222.91z"/>
<path class="R" d="M261.09 332.91h3.94v3.95H261.09z"/>
<path class="L" d="M264.03 332.91h3.94v3.95H264.03z"/>
<path class="O" d="M266.96 332.91h3.94v3.95H266.96z"/>
<path class="R" d="M180.8 335.85h46.05v3.95H180.8z"/>
<path class="B" d="M225.85 335.85h3.94v3.95H225.85z"/>
<path class="O" d="M228.79 335.85h39.18v3.95H228.79z"/>
<path class="R" d="M266.96 335.85h3.94v3.95H266.96z"/>
<path class="R" d="M180.8 338.8h46.05v3.95H180.8z"/>
<path class="B" d="M225.85 338.8h3.94v3.95H225.85z"/>
<path class="O" d="M228.79 338.8h42.11v3.95H228.79z"/>
<path class="R" d="M180.8 341.74h40.18v3.95H180.8z"/>
<path class="B" d="M219.98 341.74h6.87v3.95H219.98z"/>
<path class="O" d="M225.85 341.74h45.05v3.95H225.85z"/>
<path class="B" d="M180.8 344.69h7.87v3.95H180.8z"/>
<path class="R" d="M187.67 344.69h42.11v3.95H187.67z"/>
<path class="L" d="M228.79 344.69h6.87v3.95H228.79z"/>
<path class="O" d="M234.66 344.69h30.37v3.95H234.66z"/>
<path class="B" d="M264.03 344.69h3.94v3.95H264.03z"/>
<path class="O" d="M266.96 344.69h3.94v3.95H266.96z"/>
<path class="R" d="M180.8 347.63h46.05v3.95H180.8z"/>
<path class="O" d="M225.85 347.63h36.24v3.95H225.85z"/>
<path class="L" d="M261.09 347.63h9.81v3.95H261.09z"/>
<path class="R" d="M180.8 350.58h7.87v3.95H180.8z"/>
<path class="B" d="M187.67 350.58h21.56v3.95H187.67z"/>
<path class="O" d="M208.23 350.58h62.67v3.95H208.23z"/>
<path class="O" d="M180.8 353.53h90.1v3.95H180.8z"/>
<path class="O" d="M180.8 356.47h90.1v3.95H180.8z"/>
<path class="R" d="M180.8 359.42h7.87v3.95H180.8z"/>
<path class="L" d="M187.67 359.42h3.94v3.95H187.67z"/>
<path class="R" d="M190.61 359.42h12.75v3.95H190.61z"/>
<path class="L" d="M202.36 359.42h3.94v3.95H202.36z"/>
<path class="R" d="M205.29 359.42h21.56v3.95H205.29z"/>
<path class="B" d="M225.85 359.42h3.94v3.95H225.85z"/>
<path class="O" d="M228.79 359.42h15.68v3.95H228.79z"/>
<path class="B" d="M243.47 359.42h3.94v3.95H243.47z"/>
<path class="R" d="M246.41 359.42h3.94v3.95H246.41z"/>
<path class="L" d="M249.34 359.42h3.94v3.95H249.34z"/>
<path class="O" d="M252.28 359.42h9.81v3.95H252.28z"/>
<path class="B" d="M261.09 359.42h3.94v3.95H261.09z"/>
<path class="R" d="M264.03 359.42h3.94v3.95H264.03z"/>
<path class="B" d="M266.96 359.42h3.94v3.95H266.96z"/>
<path class="R" d="M180.8 362.36h51.92v3.95H180.8z"/>
<path class="O" d="M231.72 362.36h39.18v3.95H231.72z"/>
<path class="R" d="M180.8 365.31h43.11v3.95H180.8z"/>
<path class="O" d="M222.91 365.31h47.99v3.95H222.91z"/>
<path class="R" d="M180.8 368.25h7.87v3.95H180.8z"/>
<path class="O" d="M187.67 368.25h74.42v3.95H187.67z"/>
<path class="B" d="M261.09 368.25h9.81v3.95H261.09z"/>
<path class="O" d="M180.8 371.2h90.1v3.95H180.8z"/>
<path class="R" d="M180.8 374.15h40.18v3.95H180.8z"/>
<path class="O" d="M219.98 374.15h50.92v3.95H219.98z"/>
<path class="R" d="M180.8 377.09h40.18v3.95H180.8z"/>
<path class="B" d="M219.98 377.09h15.68v3.95H219.98z"/>
<path class="O" d="M234.66 377.09h3.94v3.95H234.66z"/>
<path class="B" d="M237.6 377.09h12.75v3.95H237.6z"/>
<path class="O" d="M249.34 377.09h21.56v3.95H249.34z"/>
<path class="R" d="M180.8 380.04h28.43v3.95H180.8z"/>
<path class="B" d="M208.23 380.04h9.81v3.95H208.23z"/>
<path class="R" d="M217.04 380.04h3.94v3.95H217.04z"/>
<path class="B" d="M219.98 380.04h24.49v3.95H219.98z"/>
<path class="O" d="M243.47 380.04h3.94v3.95H243.47z"/>
<path class="B" d="M246.41 380.04h3.94v3.95H246.41z"/>
<path class="R" d="M249.34 380.04h9.81v3.95H249.34z"/>
<path class="O" d="M258.15 380.04h6.87v3.95H258.15z"/>
<path class="R" d="M264.03 380.04h3.94v3.95H264.03z"/>
<path class="O" d="M266.96 380.04h3.94v3.95H266.96z"/>
<path class="R" d="M180.8 382.98h7.87v3.95H180.8z"/>
<path class="B" d="M187.67 382.98h15.68v3.95H187.67z"/>
<path class="O" d="M202.36 382.98h68.54v3.95H202.36z"/>
<path class="R" d="M180.8 385.93h13.75v3.95H180.8z"/>
<path class="O" d="M193.55 385.93h77.35v3.95H193.55z"/>
<path class="O" d="M180.8 388.87h13.75v3.95H180.8z"/>
<path class="B" d="M193.55 388.87h77.35v3.95H193.55z"/>
<path class="O" d="M180.8 391.82h90.1v3.95H180.8z"/>
<path class="R" d="M180.8 394.77h90.1v3.95H180.8z"/>
<path class="O" d="M180.8 397.71h90.1v3.95H180.8z"/>
<path class="R" d="M180.8 400.66h37.24v3.95H180.8z"/>
<path class="B" d="M217.04 400.66h53.86v3.95H217.04z"/>
<path class="O" d="M180.8 403.6h84.23v3.95H180.8z"/>
<path class="B" d="M264.03 403.6h3.94v3.95H264.03z"/>
<path class="O" d="M266.96 403.6h3.94v3.95H266.96z"/>
<path class="R" d="M180.8 406.55h7.87v3.95H180.8z"/>
<path class="O" d="M187.67 406.55h83.23v3.95H187.67z"/>
<path class="O" d="M180.8 409.49h90.1v3.95H180.8z"/>
<path class="R" d="M180.8 412.44h13.75v3.95H180.8z"/>
<path class="B" d="M193.55 412.44h45.05v3.95H193.55z"/>
<path class="O" d="M237.6 412.44h9.81v3.95H237.6z"/>
<path class="B" d="M246.41 412.44h3.94v3.95H246.41z"/>
<path class="O" d="M249.34 412.44h21.56v3.95H249.34z"/>
<path class="R" d="M180.8 415.39h46.05v3.95H180.8z"/>
<path class="O" d="M225.85 415.39h45.05v3.95H225.85z"/>
<path class="R" d="M180.8 418.33h46.05v3.95H180.8z"/>
<path class="B" d="M225.85 418.33h6.87v3.95H225.85z"/>
<path class="O" d="M231.72 418.33h36.24v3.95H231.72z"/>
<path class="B" d="M266.96 418.33h3.94v3.95H266.96z"/>
<path class="R" d="M180.8 421.28h46.05v3.95H180.8z"/>
<path class="O" d="M225.85 421.28h39.18v3.95H225.85z"/>
<path class="L" d="M264.03 421.28h3.94v3.95H264.03z"/>
<path class="B" d="M266.96 421.28h3.94v3.95H266.96z"/>
<path class="R" d="M180.8 424.22h40.18v3.95H180.8z"/>
<path class="B" d="M219.98 424.22h15.68v3.95H219.98z"/>
<path class="O" d="M234.66 424.22h36.24v3.95H234.66z"/>
<path class="L" d="M180.8 427.17h4.94v3.95H180.8z"/>
<path class="R" d="M184.74 427.17h42.11v3.95H184.74z"/>
<path class="L" d="M225.85 427.17h3.94v3.95H225.85z"/>
<path class="O" d="M228.79 427.17h6.87v3.95H228.79z"/>
<path class="L" d="M234.66 427.17h3.94v3.95H234.66z"/>
<path class="O" d="M237.6 427.17h12.75v3.95H237.6z"/>
<path class="L" d="M249.34 427.17h6.87v3.95H249.34z"/>
<path class="O" d="M255.22 427.17h9.81v3.95H255.22z"/>
<path class="R" d="M264.03 427.17h3.94v3.95H264.03z"/>
<path class="O" d="M266.96 427.17h3.94v3.95H266.96z"/>
<path class="R" d="M180.8 430.11h7.87v3.95H180.8z"/>
<path class="L" d="M187.67 430.11h3.94v3.95H187.67z"/>
<path class="R" d="M190.61 430.11h36.24v3.95H190.61z"/>
<path class="B" d="M225.85 430.11h3.94v3.95H225.85z"/>
<path class="O" d="M228.79 430.11h36.24v3.95H228.79z"/>
<path class="B" d="M264.03 430.11h3.94v3.95H264.03z"/>
<path class="O" d="M266.96 430.11h3.94v3.95H266.96z"/>
<path class="R" d="M180.8 433.06h40.18v3.95H180.8z"/>
<path class="O" d="M219.98 433.06h50.92v3.95H219.98z"/>
<path class="R" d="M180.8 436.01h37.24v3.95H180.8z"/>
<path class="B" d="M217.04 436.01h15.68v3.95H217.04z"/>
<path class="O" d="M231.72 436.01h39.18v3.95H231.72z"/>
<path class="R" d="M180.8 438.95h40.18v3.95H180.8z"/>
<path class="O" d="M219.98 438.95h50.92v3.95H219.98z"/>
<path class="L" d="M180.8 441.9h7.87v3.95H180.8z"/>
<path class="R" d="M187.67 441.9h42.11v3.95H187.67z"/>
<path class="B" d="M228.79 441.9h3.94v3.95H228.79z"/>
<path class="O" d="M231.72 441.9h33.3v3.95H231.72z"/>
<path class="L" d="M264.03 441.9h3.94v3.95H264.03z"/>
<path class="O" d="M266.96 441.9h3.94v3.95H266.96z"/>
<path class="R" d="M180.8 444.84h43.11v3.95H180.8z"/>
<path class="B" d="M222.91 444.84h6.87v3.95H222.91z"/>
<path class="O" d="M228.79 444.84h42.11v3.95H228.79z"/>
<path class="R" d="M180.8 447.79h25.49v3.95H180.8z"/>
<path class="O" d="M205.29 447.79h65.61v3.95H205.29z"/>
<path class="O" d="M180.8 450.73h90.1v3.95H180.8z"/>
<path class="R" d="M180.8 453.68h40.18v3.95H180.8z"/>
<path class="O" d="M219.98 453.68h45.05v3.95H219.98z"/>
<path class="R" d="M264.03 453.68h3.94v3.95H264.03z"/>
<path class="O" d="M266.96 453.68h3.94v3.95H266.96z"/>
<path class="R" d="M180.8 456.63h34.3v3.95H180.8z"/>
<path class="O" d="M214.1 456.63h56.8v3.95H214.1z"/>
<path class="O" d="M180.8 459.57h90.1v3.95H180.8z"/>
<path class="O" d="M180.8 462.52h90.1v3.95H180.8z"/>
<path class="R" d="M180.8 465.46h43.11v3.95H180.8z"/>
<path class="O" d="M222.91 465.46h47.99v3.95H222.91z"/>
<path class="O" d="M180.8 468.41h90.1v3.95H180.8z"/>
<path class="O" d="M180.8 471.35h90.1v3.95H180.8z"/>
<path class="O" d="M180.8 474.3h90.1v3.95H180.8z"/>
<path class="R" d="M180.8 477.25h22.56v3.95H180.8z"/>
<path class="O" d="M202.36 477.25h68.54v3.95H202.36z"/>
<path class="R" d="M180.8 480.19h7.87v3.95H180.8z"/>
<path class="L" d="M187.67 480.19h9.81v3.95H187.67z"/>
<path class="O" d="M196.48 480.19h74.42v3.95H196.48z"/>
<path class="B" d="M180.8 483.14h10.81v3.95H180.8z"/>
<path class="O" d="M190.61 483.14h9.81v3.95H190.61z"/>
<path class="B" d="M199.42 483.14h3.94v3.95H199.42z"/>
<path class="O" d="M202.36 483.14h53.86v3.95H202.36z"/>
<path class="B" d="M255.22 483.14h6.87v3.95H255.22z"/>
<path class="O" d="M261.09 483.14h6.87v3.95H261.09z"/>
<path class="B" d="M266.96 483.14h3.94v3.95H266.96z"/>
<path class="O" d="M180.8 486.08h90.1v3.95H180.8z"/>
<path class="R" d="M180.8 489.03h13.75v3.95H180.8z"/>
<path class="B" d="M193.55 489.03h24.49v3.95H193.55z"/>
<path class="O" d="M217.04 489.03h53.86v3.95H217.04z"/>
<path class="O" d="M180.8 491.97h90.1v3.95H180.8z"/>
<path class="O" d="M180.8 494.92h81.29v3.95H180.8z"/>
<path class="B" d="M261.09 494.92h6.87v3.95H261.09z"/>
<path class="O" d="M266.96 494.92h3.94v3.95H266.96z"/>
<path class="O" d="M180.8 497.87h90.1v3.95H180.8z"/>
<path class="R" d="M180.8 500.81h10.81v3.95H180.8z"/>
<path class="O" d="M190.61 500.81h59.73v3.95H190.61z"/>
<path class="B" d="M249.34 500.81h21.56v3.95H249.34z"/>
<path class="R" d="M180.8 503.76h46.05v3.95H180.8z"/>
<path class="O" d="M225.85 503.76h39.18v3.95H225.85z"/>
<path class="R" d="M264.03 503.76h3.94v3.95H264.03z"/>
<path class="O" d="M266.96 503.76h3.94v3.95H266.96z"/>
<path class="R" d="M180.8 506.7h46.05v3.95H180.8z"/>
<path class="B" d="M225.85 506.7h6.87v3.95H225.85z"/>
<path class="O" d="M231.72 506.7h39.18v3.95H231.72z"/>
<path class="L" d="M180.8 509.65h7.87v3.95H180.8z"/>
<path class="R" d="M187.67 509.65h39.18v3.95H187.67z"/>
<path class="O" d="M225.85 509.65h36.24v3.95H225.85z"/>
<path class="B" d="M261.09 509.65h9.81v3.95H261.09z"/>
<path class="O" d="M180.8 512.59h90.1v3.95H180.8z"/>
<path class="O" d="M180.8 515.54h90.1v3.95H180.8z"/>
<path class="R" d="M180.8 518.49h46.05v3.95H180.8z"/>
<path class="O" d="M225.85 518.49h36.24v3.95H225.85z"/>
<path class="B" d="M261.09 518.49h9.81v3.95H261.09z"/>
<path class="R" d="M180.8 521.43h46.05v3.95H180.8z"/>
<path class="O" d="M225.85 521.43h42.11v3.95H225.85z"/>
<path class="B" d="M266.96 521.43h3.94v3.95H266.96z"/>
<path class="R" d="M180.8 524.38h43.11v3.95H180.8z"/>
<path class="O" d="M222.91 524.38h47.99v3.95H222.91z"/>
<path class="R" d="M180.8 527.32h19.62v3.95H180.8z"/>
<path class="O" d="M199.42 527.32h71.48v3.95H199.42z"/>
<path class="L" d="M180.8 530.27h7.87v3.95H180.8z"/>
<path class="O" d="M187.67 530.27h83.23v3.95H187.67z"/>
<path class="O" d="M180.8 533.21h90.1v3.95H180.8z"/>
<path class="R" d="M180.8 536.16h43.11v3.95H180.8z"/>
<path class="B" d="M222.91 536.16h6.87v3.95H222.91z"/>
<path class="O" d="M228.79 536.16h33.3v3.95H228.79z"/>
<path class="B" d="M261.09 536.16h9.81v3.95H261.09z"/>
<path class="L" d="M180.8 539.11h10.81v3.95H180.8z"/>
<path class="R" d="M190.61 539.11h36.24v3.95H190.61z"/>
<path class="B" d="M225.85 539.11h6.87v3.95H225.85z"/>
<path class="O" d="M231.72 539.11h3.94v3.95H231.72z"/>
<path class="B" d="M234.66 539.11h3.94v3.95H234.66z"/>
<path class="O" d="M237.6 539.11h12.75v3.95H237.6z"/>
<path class="B" d="M249.34 539.11h6.87v3.95H249.34z"/>
<path class="O" d="M255.22 539.11h9.81v3.95H255.22z"/>
<path class="B" d="M264.03 539.11h3.94v3.95H264.03z"/>
<path class="O" d="M266.96 539.11h3.94v3.95H266.96z"/>
<path class="R" d="M180.8 542.05h40.18v3.95H180.8z"/>
<path class="O" d="M219.98 542.05h50.92v3.95H219.98z"/>
<path class="O" d="M180.8 545h84.23v3.95H180.8z"/>
<path class="B" d="M264.03 545h3.94v3.95H264.03z"/>
<path class="O" d="M266.96 545h3.94v3.95H266.96z"/>
<path class="R" d="M180.8 547.94h37.24v3.95H180.8z"/>
<path class="O" d="M217.04 547.94h53.86v3.95H217.04z"/>
<path class="O" d="M180.8 550.89h90.1v3.95H180.8z"/>
<path class="R" d="M180.8 553.83h43.11v3.95H180.8z"/>
<path class="O" d="M222.91 553.83h45.05v3.95H222.91z"/>
<path class="B" d="M266.96 553.83h3.94v3.95H266.96z"/>
<path class="R" d="M180.8 556.78h40.18v3.95H180.8z"/>
<path class="O" d="M219.98 556.78h50.92v3.95H219.98z"/>
<path class="R" d="M180.8 559.73h37.24v3.95H180.8z"/>
<path class="O" d="M217.04 559.73h50.92v3.95H217.04z"/>
<path class="B" d="M266.96 559.73h3.94v3.95H266.96z"/>
<path class="R" d="M180.8 562.67h34.3v3.95H180.8z"/>
<path class="B" d="M214.1 562.67h6.87v3.95H214.1z"/>
<path class="O" d="M219.98 562.67h24.49v3.95H219.98z"/>
<path class="B" d="M243.47 562.67h12.75v3.95H243.47z"/>
<path class="O" d="M255.22 562.67h15.68v3.95H255.22z"/>
<path class="B" d="M180.8 565.62h25.49v3.95H180.8z"/>
<path class="O" d="M205.29 565.62h65.61v3.95H205.29z"/>
<path class="R" d="M180.8 568.56h19.62v3.95H180.8z"/>
<path class="O" d="M199.42 568.56h71.48v3.95H199.42z"/>
<path class="R" d="M180.8 571.51h13.75v3.95H180.8z"/>
<path class="B" d="M193.55 571.51h56.8v3.95H193.55z"/>
<path class="O" d="M249.34 571.51h21.56v3.95H249.34z"/>
<path class="O" d="M180.8 574.45h90.1v3.95H180.8z"/>
<path class="B" d="M180.8 577.4h7.87v3.95H180.8z"/>
<path class="O" d="M187.67 577.4h83.23v3.95H187.67z"/>
<path class="R" d="M180.8 580.35h37.24v3.95H180.8z"/>
<path class="O" d="M217.04 580.35h53.86v3.95H217.04z"/>
<path class="R" d="M180.8 583.29h37.24v3.95H180.8z"/>
<path class="O" d="M217.04 583.29h53.86v3.95H217.04z"/>
<path class="O" d="M180.8 586.24h90.1v3.95H180.8z"/>
<path class="O" d="M180.8 589.18h90.1v3.95H180.8z"/>
<path class="R" d="M180.8 592.13h48.99v3.95H180.8z"/>
<path class="O" d="M228.79 592.13h39.18v3.95H228.79z"/>
<path class="L" d="M266.96 592.13h3.94v3.95H266.96z"/>
<path class="R" d="M180.8 595.07h46.05v3.95H180.8z"/>
<path class="O" d="M225.85 595.07h45.05v3.95H225.85z"/>
<path class="R" d="M180.8 598.02h48.99v3.95H180.8z"/>
<path class="L" d="M228.79 598.02h6.87v3.95H228.79z"/>
<path class="O" d="M234.66 598.02h33.3v3.95H234.66z"/>
<path class="L" d="M266.96 598.02h3.94v3.95H266.96z"/>
<path class="R" d="M180.8 600.97h48.99v3.95H180.8z"/>
<path class="L" d="M228.79 600.97h6.87v3.95H228.79z"/>
<path class="O" d="M234.66 600.97h15.68v3.95H234.66z"/>
<path class="L" d="M249.34 600.97h6.87v3.95H249.34z"/>
<path class="O" d="M255.22 600.97h9.81v3.95H255.22z"/>
<path class="L" d="M264.03 600.97h3.94v3.95H264.03z"/>
<path class="O" d="M266.96 600.97h3.94v3.95H266.96z"/>
<path class="R" d="M180.8 603.91h19.62v3.95H180.8z"/>
<path class="O" d="M199.42 603.91h71.48v3.95H199.42z"/>
<path class="R" d="M180.8 606.86h46.05v3.95H180.8z"/>
<path class="O" d="M225.85 606.86h39.18v3.95H225.85z"/>
<path class="L" d="M264.03 606.86h3.94v3.95H264.03z"/>
<path class="O" d="M266.96 606.86h3.94v3.95H266.96z"/>
<path class="R" d="M180.8 609.8h40.18v3.95H180.8z"/>
<path class="O" d="M219.98 609.8h50.92v3.95H219.98z"/>
<path class="R" d="M180.8 612.75h13.75v3.95H180.8z"/>
<path class="O" d="M193.55 612.75h77.35v3.95H193.55z"/>
<path class="R" d="M180.8 615.69h7.87v3.95H180.8z"/>
<path class="L" d="M187.67 615.69h3.94v3.95H187.67z"/>
<path class="R" d="M190.61 615.69h36.24v3.95H190.61z"/>
<path class="B" d="M225.85 615.69h6.87v3.95H225.85z"/>
<path class="O" d="M231.72 615.69h3.94v3.95H231.72z"/>
<path class="L" d="M234.66 615.69h3.94v3.95H234.66z"/>
<path class="O" d="M237.6 615.69h12.75v3.95H237.6z"/>
<path class="B" d="M249.34 615.69h3.94v3.95H249.34z"/>
<path class="L" d="M252.28 615.69h3.94v3.95H252.28z"/>
<path class="O" d="M255.22 615.69h9.81v3.95H255.22z"/>
<path class="R" d="M264.03 615.69h3.94v3.95H264.03z"/>
<path class="O" d="M266.96 615.69h3.94v3.95H266.96z"/>
<path class="R" d="M180.8 618.64h43.11v3.95H180.8z"/>
<path class="O" d="M222.91 618.64h47.99v3.95H222.91z"/>
<path class="R" d="M180.8 621.59h7.87v3.95H180.8z"/>
<path class="O" d="M187.67 621.59h83.23v3.95H187.67z"/>
<path class="R" d="M180.8 624.53h13.75v3.95H180.8z"/>
<path class="O" d="M193.55 624.53h77.35v3.95H193.55z"/>
<path class="R" d="M180.8 627.48h43.11v3.95H180.8z"/>
<path class="O" d="M222.91 627.48h47.99v3.95H222.91z"/>
<path class="R" d="M180.8 630.42h31.37v3.95H180.8z"/>
<path class="O" d="M211.17 630.42h59.73v3.95H211.17z"/>
<path class="B" d="M180.8 633.37h7.87v3.95H180.8z"/>
<path class="O" d="M187.67 633.37h83.23v3.95H187.67z"/>
<path class="O" d="M180.8 636.31h90.1v3.95H180.8z"/>
<path class="R" d="M180.8 639.26h43.11v3.95H180.8z"/>
<path class="O" d="M222.91 639.26h47.99v3.95H222.91z"/>
<path class="O" d="M180.8 642.21h90.1v3.95H180.8z"/>
<path class="R" d="M180.8 645.15h40.18v3.95H180.8z"/>
<path class="O" d="M219.98 645.15h50.92v3.95H219.98z"/>
<path class="O" d="M180.8 648.1h90.1v3.95H180.8z"/>
<path class="R" d="M180.8 651.04h43.11v3.95H180.8z"/>
<path class="O" d="M222.91 651.04h47.99v3.95H222.91z"/>
<path class="R" d="M180.8 653.99h37.24v3.95H180.8z"/>
<path class="B" d="M217.04 653.99h3.94v3.95H217.04z"/>
<path class="O" d="M219.98 653.99h24.49v3.95H219.98z"/>
<path class="B" d="M243.47 653.99h18.62v3.95H243.47z"/>
<path class="O" d="M261.09 653.99h9.81v3.95H261.09z"/>
<path class="O" d="M180.8 656.93h90.1v3.95H180.8z"/>
<path class="R" d="M180.8 659.88h37.24v3.95H180.8z"/>
<path class="O" d="M217.04 659.88h53.86v3.95H217.04z"/>
<path class="R" d="M180.8 662.83h13.75v3.95H180.8z"/>
<path class="O" d="M193.55 662.83h77.35v3.95H193.55z"/>
<path class="O" d="M180.8 665.77h90.1v3.95H180.8z"/>
<path class="O" d="M180.8 668.72h90.1v3.95H180.8z"/>
<path class="R" d="M180.8 671.66h43.11v3.95H180.8z"/>
<path class="O" d="M222.91 671.66h47.99v3.95H222.91z"/>
<path class="O" d="M180.8 674.61h90.1v3.95H180.8z"/>
<path class="O" d="M180.8 677.55h90.1v3.95H180.8z"/>
<rect x="181.8" y="150.27" width="88.1" height="0.8" fill="#fff" opacity="0.85"/>
<rect x="181.8" y="238.64" width="88.1" height="0.8" fill="#fff" opacity="0.85"/>
<rect x="181.8" y="327.01" width="88.1" height="0.8" fill="#fff" opacity="0.85"/>
<rect x="181.8" y="415.39" width="88.1" height="0.8" fill="#fff" opacity="0.85"/>
<rect x="181.8" y="503.76" width="88.1" height="0.8" fill="#fff" opacity="0.85"/>
<rect x="181.8" y="592.13" width="88.1" height="0.8" fill="#fff" opacity="0.85"/>
</g>
<g clip-path="url(#cb1)">
<path fill="#7ca765" d="M277 59.9h20.4v5.95H277z"/>
<path fill="#8bb36f" d="M277 64.85h20.4v3.95H277z"/>
<path fill="#8eb672" d="M277 67.79h20.4v3.95H277z"/>
<path fill="#8fb672" d="M277 70.74h20.4v3.95H277z"/>
<path fill="#90b772" d="M277 73.68h20.4v3.95H277z"/>
<path fill="#9abe79" d="M277 76.63h20.4v3.95H277z"/>
<path fill="#9abf79" d="M277 79.57h20.4v3.95H277z"/>
<path fill="#a4c57f" d="M277 82.52h20.4v3.95H277z"/>
<path fill="#accb85" d="M277 85.47h20.4v3.95H277z"/>
<path fill="#b1ce88" d="M277 88.41h20.4v3.95H277z"/>
<path fill="#b3d089" d="M277 91.36h20.4v3.95H277z"/>
<path fill="#b4d18a" d="M277 94.3h20.4v3.95H277z"/>
<path fill="#b8d38d" d="M277 97.25h20.4v3.95H277z"/>
<path fill="#bbd68f" d="M277 100.19h20.4v3.95H277z"/>
<path fill="#bdd790" d="M277 103.14h20.4v3.95H277z"/>
<path fill="#c2da93" d="M277 106.09h20.4v3.95H277z"/>
<path fill="#c3db94" d="M277 109.03h20.4v3.95H277z"/>
<path fill="#c6dd97" d="M277 111.98h20.4v3.95H277z"/>
<path fill="#c8de98" d="M277 114.92h20.4v3.95H277z"/>
<path fill="#cade99" d="M277 117.87h20.4v3.95H277z"/>
<path fill="#cde09c" d="M277 120.81h20.4v3.95H277z"/>
<path fill="#cee19d" d="M277 123.76h20.4v3.95H277z"/>
<path fill="#d0e29e" d="M277 126.71h20.4v3.95H277z"/>
<path fill="#d2e39f" d="M277 129.65h20.4v3.95H277z"/>
<path fill="#d4e4a1" d="M277 132.6h20.4v3.95H277z"/>
<path fill="#d6e5a2" d="M277 135.54h20.4v3.95H277z"/>
<path fill="#d8e6a4" d="M277 138.49h20.4v3.95H277z"/>
<path fill="#dae7a5" d="M277 141.43h20.4v3.95H277z"/>
<path fill="#e7eeaf" d="M277 144.38h20.4v3.95H277z"/>
<path fill="#ebf0b2" d="M277 147.33h20.4v3.95H277z"/>
<path fill="#609651" d="M277 150.27h20.4v3.95H277z"/>
<path fill="#679a56" d="M277 153.22h20.4v3.95H277z"/>
<path fill="#70a05d" d="M277 156.16h20.4v3.95H277z"/>
<path fill="#73a15e" d="M277 159.11h20.4v3.95H277z"/>
<path fill="#79a563" d="M277 162.05h20.4v3.95H277z"/>
<path fill="#7aa563" d="M277 165h20.4v3.95H277z"/>
<path fill="#7aa563" d="M277 167.95h20.4v3.95H277z"/>
<path fill="#82ac69" d="M277 170.89h20.4v3.95H277z"/>
<path fill="#84ad6a" d="M277 173.84h20.4v3.95H277z"/>
<path fill="#84ae6b" d="M277 176.78h20.4v3.95H277z"/>
<path fill="#86af6c" d="M277 179.73h20.4v3.95H277z"/>
<path fill="#87b06d" d="M277 182.67h20.4v3.95H277z"/>
<path fill="#88b16d" d="M277 185.62h20.4v3.95H277z"/>
<path fill="#89b26e" d="M277 188.57h20.4v3.95H277z"/>
<path fill="#8ab26e" d="M277 191.51h20.4v3.95H277z"/>
<path fill="#90b773" d="M277 194.46h20.4v3.95H277z"/>
<path fill="#92b874" d="M277 197.4h20.4v3.95H277z"/>
<path fill="#93b975" d="M277 200.35h20.4v3.95H277z"/>
<path fill="#95bb76" d="M277 203.29h20.4v3.95H277z"/>
<path fill="#97bc77" d="M277 206.24h20.4v3.95H277z"/>
<path fill="#9abe79" d="M277 209.19h20.4v3.95H277z"/>
<path fill="#9bbf7a" d="M277 212.13h20.4v3.95H277z"/>
<path fill="#9cc07a" d="M277 215.08h20.4v3.95H277z"/>
<path fill="#9cc07a" d="M277 218.02h20.4v3.95H277z"/>
<path fill="#9cc07b" d="M277 220.97h20.4v3.95H277z"/>
<path fill="#9dc17b" d="M277 223.91h20.4v3.95H277z"/>
<path fill="#9ec17b" d="M277 226.86h20.4v3.95H277z"/>
<path fill="#a6c781" d="M277 229.81h20.4v3.95H277z"/>
<path fill="#aaca84" d="M277 232.75h20.4v3.95H277z"/>
<path fill="#aecc86" d="M277 235.7h20.4v3.95H277z"/>
<path fill="#6f9f5c" d="M277 238.64h20.4v3.95H277z"/>
<path fill="#84ae6a" d="M277 241.59h20.4v3.95H277z"/>
<path fill="#88b16d" d="M277 244.53h20.4v3.95H277z"/>
<path fill="#89b16e" d="M277 247.48h20.4v3.95H277z"/>
<path fill="#8db571" d="M277 250.43h20.4v3.95H277z"/>
<path fill="#92b974" d="M277 253.37h20.4v3.95H277z"/>
<path fill="#94ba75" d="M277 256.32h20.4v3.95H277z"/>
<path fill="#98bd78" d="M277 259.26h20.4v3.95H277z"/>
<path fill="#99be78" d="M277 262.21h20.4v3.95H277z"/>
<path fill="#99be79" d="M277 265.15h20.4v3.95H277z"/>
<path fill="#9bbf7a" d="M277 268.1h20.4v3.95H277z"/>
<path fill="#9ec27c" d="M277 271.05h20.4v3.95H277z"/>
<path fill="#9ec27c" d="M277 273.99h20.4v3.95H277z"/>
<path fill="#a1c47e" d="M277 276.94h20.4v3.95H277z"/>
<path fill="#a2c47e" d="M277 279.88h20.4v3.95H277z"/>
<path fill="#a3c57f" d="M277 282.83h20.4v3.95H277z"/>
<path fill="#a5c680" d="M277 285.77h20.4v3.95H277z"/>
<path fill="#a7c882" d="M277 288.72h20.4v3.95H277z"/>
<path fill="#a8c983" d="M277 291.67h20.4v3.95H277z"/>
<path fill="#a9c983" d="M277 294.61h20.4v3.95H277z"/>
<path fill="#abca84" d="M277 297.56h20.4v3.95H277z"/>
<path fill="#afcd87" d="M277 300.5h20.4v3.95H277z"/>
<path fill="#b6d28c" d="M277 303.45h20.4v3.95H277z"/>
<path fill="#b9d48e" d="M277 306.39h20.4v3.95H277z"/>
<path fill="#bed891" d="M277 309.34h20.4v3.95H277z"/>
<path fill="#c0d992" d="M277 312.29h20.4v3.95H277z"/>
<path fill="#c5dc96" d="M277 315.23h20.4v3.95H277z"/>
<path fill="#cbdf9a" d="M277 318.18h20.4v3.95H277z"/>
<path fill="#dee9a8" d="M277 321.12h20.4v3.95H277z"/>
<path fill="#e2ecac" d="M277 324.07h20.4v3.95H277z"/>
<path fill="#58904b" d="M277 327.01h20.4v3.95H277z"/>
<path fill="#5c934e" d="M277 329.96h20.4v3.95H277z"/>
<path fill="#5d934e" d="M277 332.91h20.4v3.95H277z"/>
<path fill="#669955" d="M277 335.85h20.4v3.95H277z"/>
<path fill="#71a05d" d="M277 338.8h20.4v3.95H277z"/>
<path fill="#7ba664" d="M277 341.74h20.4v3.95H277z"/>
<path fill="#7ea966" d="M277 344.69h20.4v3.95H277z"/>
<path fill="#7ea966" d="M277 347.63h20.4v3.95H277z"/>
<path fill="#80aa68" d="M277 350.58h20.4v3.95H277z"/>
<path fill="#80ab68" d="M277 353.53h20.4v3.95H277z"/>
<path fill="#80ab68" d="M277 356.47h20.4v3.95H277z"/>
<path fill="#81ab68" d="M277 359.42h20.4v3.95H277z"/>
<path fill="#82ac69" d="M277 362.36h20.4v3.95H277z"/>
<path fill="#84ae6b" d="M277 365.31h20.4v3.95H277z"/>
<path fill="#87b06c" d="M277 368.25h20.4v3.95H277z"/>
<path fill="#88b16d" d="M277 371.2h20.4v3.95H277z"/>
<path fill="#89b26e" d="M277 374.15h20.4v3.95H277z"/>
<path fill="#8ab26e" d="M277 377.09h20.4v3.95H277z"/>
<path fill="#8ab26f" d="M277 380.04h20.4v3.95H277z"/>
<path fill="#8bb36f" d="M277 382.98h20.4v3.95H277z"/>
<path fill="#8cb470" d="M277 385.93h20.4v3.95H277z"/>
<path fill="#8cb470" d="M277 388.87h20.4v3.95H277z"/>
<path fill="#8db571" d="M277 391.82h20.4v3.95H277z"/>
<path fill="#91b873" d="M277 394.77h20.4v3.95H277z"/>
<path fill="#92b874" d="M277 397.71h20.4v3.95H277z"/>
<path fill="#96bc77" d="M277 400.66h20.4v3.95H277z"/>
<path fill="#9dc17b" d="M277 403.6h20.4v3.95H277z"/>
<path fill="#9fc27c" d="M277 406.55h20.4v3.95H277z"/>
<path fill="#9fc27c" d="M277 409.49h20.4v3.95H277z"/>
<path fill="#a6c781" d="M277 412.44h20.4v3.95H277z"/>
<path fill="#609551" d="M277 415.39h20.4v3.95H277z"/>
<path fill="#629752" d="M277 418.33h20.4v3.95H277z"/>
<path fill="#629753" d="M277 421.28h20.4v3.95H277z"/>
<path fill="#649854" d="M277 424.22h20.4v3.95H277z"/>
<path fill="#659954" d="M277 427.17h20.4v3.95H277z"/>
<path fill="#669955" d="M277 430.11h20.4v3.95H277z"/>
<path fill="#6d9d5a" d="M277 433.06h20.4v3.95H277z"/>
<path fill="#6d9e5a" d="M277 436.01h20.4v3.95H277z"/>
<path fill="#7ba664" d="M277 438.95h20.4v3.95H277z"/>
<path fill="#7ca765" d="M277 441.9h20.4v3.95H277z"/>
<path fill="#7ca865" d="M277 444.84h20.4v3.95H277z"/>
<path fill="#7da866" d="M277 447.79h20.4v3.95H277z"/>
<path fill="#7da866" d="M277 450.73h20.4v3.95H277z"/>
<path fill="#7fa967" d="M277 453.68h20.4v3.95H277z"/>
<path fill="#7faa67" d="M277 456.63h20.4v3.95H277z"/>
<path fill="#81ab68" d="M277 459.57h20.4v3.95H277z"/>
<path fill="#81ab68" d="M277 462.52h20.4v3.95H277z"/>
<path fill="#81ac69" d="M277 465.46h20.4v3.95H277z"/>
<path fill="#82ac69" d="M277 468.41h20.4v3.95H277z"/>
<path fill="#83ac69" d="M277 471.35h20.4v3.95H277z"/>
<path fill="#83ad6a" d="M277 474.3h20.4v3.95H277z"/>
<path fill="#86af6c" d="M277 477.25h20.4v3.95H277z"/>
<path fill="#8bb36f" d="M277 480.19h20.4v3.95H277z"/>
<path fill="#8cb470" d="M277 483.14h20.4v3.95H277z"/>
<path fill="#8eb571" d="M277 486.08h20.4v3.95H277z"/>
<path fill="#8fb672" d="M277 489.03h20.4v3.95H277z"/>
<path fill="#90b773" d="M277 491.97h20.4v3.95H277z"/>
<path fill="#93b974" d="M277 494.92h20.4v3.95H277z"/>
<path fill="#94ba75" d="M277 497.87h20.4v3.95H277z"/>
<path fill="#97bc77" d="M277 500.81h20.4v3.95H277z"/>
<path fill="#5e944f" d="M277 503.76h20.4v3.95H277z"/>
<path fill="#5f9550" d="M277 506.7h20.4v3.95H277z"/>
<path fill="#639753" d="M277 509.65h20.4v3.95H277z"/>
<path fill="#699b57" d="M277 512.59h20.4v3.95H277z"/>
<path fill="#699b58" d="M277 515.54h20.4v3.95H277z"/>
<path fill="#6b9c58" d="M277 518.49h20.4v3.95H277z"/>
<path fill="#6b9c59" d="M277 521.43h20.4v3.95H277z"/>
<path fill="#6c9d59" d="M277 524.38h20.4v3.95H277z"/>
<path fill="#78a462" d="M277 527.32h20.4v3.95H277z"/>
<path fill="#78a462" d="M277 530.27h20.4v3.95H277z"/>
<path fill="#79a563" d="M277 533.21h20.4v3.95H277z"/>
<path fill="#7aa663" d="M277 536.16h20.4v3.95H277z"/>
<path fill="#7ba764" d="M277 539.11h20.4v3.95H277z"/>
<path fill="#7ca765" d="M277 542.05h20.4v3.95H277z"/>
<path fill="#7ea966" d="M277 545h20.4v3.95H277z"/>
<path fill="#7faa67" d="M277 547.94h20.4v3.95H277z"/>
<path fill="#83ad6a" d="M277 550.89h20.4v3.95H277z"/>
<path fill="#85ae6b" d="M277 553.83h20.4v3.95H277z"/>
<path fill="#85ae6b" d="M277 556.78h20.4v3.95H277z"/>
<path fill="#86af6b" d="M277 559.73h20.4v3.95H277z"/>
<path fill="#86af6c" d="M277 562.67h20.4v3.95H277z"/>
<path fill="#87b06d" d="M277 565.62h20.4v3.95H277z"/>
<path fill="#8ab36f" d="M277 568.56h20.4v3.95H277z"/>
<path fill="#8bb470" d="M277 571.51h20.4v3.95H277z"/>
<path fill="#8eb671" d="M277 574.45h20.4v3.95H277z"/>
<path fill="#94ba75" d="M277 577.4h20.4v3.95H277z"/>
<path fill="#95bb76" d="M277 580.35h20.4v3.95H277z"/>
<path fill="#96bc76" d="M277 583.29h20.4v3.95H277z"/>
<path fill="#98bd78" d="M277 586.24h20.4v3.95H277z"/>
<path fill="#98bd78" d="M277 589.18h20.4v3.95H277z"/>
<path fill="#508a44" d="M277 592.13h20.4v3.95H277z"/>
<path fill="#548d47" d="M277 595.07h20.4v3.95H277z"/>
<path fill="#5d944f" d="M277 598.02h20.4v3.95H277z"/>
<path fill="#5f9550" d="M277 600.97h20.4v3.95H277z"/>
<path fill="#619652" d="M277 603.91h20.4v3.95H277z"/>
<path fill="#649853" d="M277 606.86h20.4v3.95H277z"/>
<path fill="#679a56" d="M277 609.8h20.4v3.95H277z"/>
<path fill="#689a57" d="M277 612.75h20.4v3.95H277z"/>
<path fill="#6a9c58" d="M277 615.69h20.4v3.95H277z"/>
<path fill="#6e9e5b" d="M277 618.64h20.4v3.95H277z"/>
<path fill="#6e9e5b" d="M277 621.59h20.4v3.95H277z"/>
<path fill="#709f5c" d="M277 624.53h20.4v3.95H277z"/>
<path fill="#74a260" d="M277 627.48h20.4v3.95H277z"/>
<path fill="#76a361" d="M277 630.42h20.4v3.95H277z"/>
<path fill="#79a462" d="M277 633.37h20.4v3.95H277z"/>
<path fill="#79a563" d="M277 636.31h20.4v3.95H277z"/>
<path fill="#7aa664" d="M277 639.26h20.4v3.95H277z"/>
<path fill="#7ba764" d="M277 642.21h20.4v3.95H277z"/>
<path fill="#7da865" d="M277 645.15h20.4v3.95H277z"/>
<path fill="#7ea866" d="M277 648.1h20.4v3.95H277z"/>
<path fill="#7fa967" d="M277 651.04h20.4v3.95H277z"/>
<path fill="#80aa67" d="M277 653.99h20.4v3.95H277z"/>
<path fill="#83ad6a" d="M277 656.93h20.4v3.95H277z"/>
<path fill="#85af6b" d="M277 659.88h20.4v3.95H277z"/>
<path fill="#87b06c" d="M277 662.83h20.4v3.95H277z"/>
<path fill="#88b16e" d="M277 665.77h20.4v3.95H277z"/>
<path fill="#91b873" d="M277 668.72h20.4v3.95H277z"/>
<path fill="#96bb76" d="M277 671.66h20.4v3.95H277z"/>
<path fill="#a0c37d" d="M277 674.61h20.4v3.95H277z"/>
<path fill="#a0c37d" d="M277 677.55h20.4v3.95H277z"/>
<rect x="278" y="61.3" width="0.9" height="619.2" fill="#2f6a20" opacity="0.18"/>
<rect x="295.5" y="61.3" width="0.9" height="619.2" fill="#2f6a20" opacity="0.18"/>
</g>
<clipPath id="cp2"><rect x="355.2" y="61.9" width="88.6" height="618.6"/></clipPath>
<clipPath id="cb2"><rect x="452" y="61.3" width="18.2" height="619.2"/></clipPath>
<g clip-path="url(#cp2)">
<path class="R" d="M354.2 60.9h49.25v4.95H354.2z"/>
<path class="L" d="M402.45 60.9h3.95v4.95H402.45z"/>
<path class="O" d="M405.41 60.9h30.53v4.95H405.41z"/>
<path class="B" d="M434.94 60.9h3.95v4.95H434.94z"/>
<path class="R" d="M437.89 60.9h6.91v4.95H437.89z"/>
<path class="L" d="M354.2 64.85h13.81v3.95H354.2z"/>
<path class="R" d="M367.01 64.85h36.44v3.95H367.01z"/>
<path class="B" d="M402.45 64.85h3.95v3.95H402.45z"/>
<path class="R" d="M405.41 64.85h3.95v3.95H405.41z"/>
<path class="B" d="M408.36 64.85h3.95v3.95H408.36z"/>
<path class="O" d="M411.31 64.85h9.86v3.95H411.31z"/>
<path class="R" d="M420.17 64.85h6.91v3.95H420.17z"/>
<path class="B" d="M426.08 64.85h3.95v3.95H426.08z"/>
<path class="R" d="M429.03 64.85h3.95v3.95H429.03z"/>
<path class="O" d="M431.99 64.85h12.81v3.95H431.99z"/>
<path class="R" d="M354.2 67.79h49.25v3.95H354.2z"/>
<path class="O" d="M402.45 67.79h15.77v3.95H402.45z"/>
<path class="B" d="M417.22 67.79h9.86v3.95H417.22z"/>
<path class="O" d="M426.08 67.79h15.77v3.95H426.08z"/>
<path class="R" d="M440.85 67.79h3.95v3.95H440.85z"/>
<path class="R" d="M354.2 70.74h46.3v3.95H354.2z"/>
<path class="O" d="M399.5 70.74h12.81v3.95H399.5z"/>
<path class="L" d="M411.31 70.74h3.95v3.95H411.31z"/>
<path class="O" d="M414.27 70.74h3.95v3.95H414.27z"/>
<path class="L" d="M417.22 70.74h15.77v3.95H417.22z"/>
<path class="O" d="M431.99 70.74h3.95v3.95H431.99z"/>
<path class="L" d="M434.94 70.74h6.91v3.95H434.94z"/>
<path class="O" d="M440.85 70.74h3.95v3.95H440.85z"/>
<path class="L" d="M354.2 73.68h7.91v3.95H354.2z"/>
<path class="R" d="M361.11 73.68h39.39v3.95H361.11z"/>
<path class="O" d="M399.5 73.68h12.81v3.95H399.5z"/>
<path class="L" d="M411.31 73.68h33.49v3.95H411.31z"/>
<path class="R" d="M354.2 76.63h90.6v3.95H354.2z"/>
<path class="R" d="M354.2 79.57h58.11v3.95H354.2z"/>
<path class="L" d="M411.31 79.57h24.63v3.95H411.31z"/>
<path class="R" d="M434.94 79.57h9.86v3.95H434.94z"/>
<path class="R" d="M354.2 82.52h61.07v3.95H354.2z"/>
<path class="L" d="M414.27 82.52h27.58v3.95H414.27z"/>
<path class="R" d="M440.85 82.52h3.95v3.95H440.85z"/>
<path class="R" d="M354.2 85.47h40.39v3.95H354.2z"/>
<path class="B" d="M393.59 85.47h51.21v3.95H393.59z"/>
<path class="R" d="M354.2 88.41h43.35v3.95H354.2z"/>
<path class="L" d="M396.55 88.41h3.95v3.95H396.55z"/>
<path class="B" d="M399.5 88.41h9.86v3.95H399.5z"/>
<path class="L" d="M408.36 88.41h15.77v3.95H408.36z"/>
<path class="O" d="M423.13 88.41h15.77v3.95H423.13z"/>
<path class="B" d="M437.89 88.41h3.95v3.95H437.89z"/>
<path class="L" d="M440.85 88.41h3.95v3.95H440.85z"/>
<path class="L" d="M354.2 91.36h19.72v3.95H354.2z"/>
<path class="R" d="M372.92 91.36h15.77v3.95H372.92z"/>
<path class="B" d="M387.69 91.36h30.53v3.95H387.69z"/>
<path class="R" d="M417.22 91.36h24.63v3.95H417.22z"/>
<path class="L" d="M440.85 91.36h3.95v3.95H440.85z"/>
<path class="R" d="M354.2 94.3h90.6v3.95H354.2z"/>
<path class="R" d="M354.2 97.25h78.79v3.95H354.2z"/>
<path class="B" d="M431.99 97.25h12.81v3.95H431.99z"/>
<path class="R" d="M354.2 100.19h87.65v3.95H354.2z"/>
<path class="B" d="M440.85 100.19h3.95v3.95H440.85z"/>
<path class="L" d="M354.2 103.14h13.81v3.95H354.2z"/>
<path class="R" d="M367.01 103.14h57.11v3.95H367.01z"/>
<path class="B" d="M423.13 103.14h21.67v3.95H423.13z"/>
<path class="R" d="M354.2 106.09h7.91v3.95H354.2z"/>
<path class="B" d="M361.11 106.09h83.69v3.95H361.11z"/>
<path class="R" d="M354.2 109.03h25.63v3.95H354.2z"/>
<path class="O" d="M378.83 109.03h65.97v3.95H378.83z"/>
<path class="R" d="M354.2 111.98h19.72v3.95H354.2z"/>
<path class="B" d="M372.92 111.98h71.88v3.95H372.92z"/>
<path class="R" d="M354.2 114.92h19.72v3.95H354.2z"/>
<path class="B" d="M372.92 114.92h71.88v3.95H372.92z"/>
<path class="R" d="M354.2 117.87h13.81v3.95H354.2z"/>
<path class="O" d="M367.01 117.87h77.79v3.95H367.01z"/>
<path class="R" d="M354.2 120.81h7.91v3.95H354.2z"/>
<path class="B" d="M361.11 120.81h83.69v3.95H361.11z"/>
<path class="O" d="M354.2 123.76h90.6v3.95H354.2z"/>
<path class="O" d="M354.2 126.71h90.6v3.95H354.2z"/>
<path class="R" d="M354.2 129.65h90.6v3.95H354.2z"/>
<path class="O" d="M354.2 132.6h90.6v3.95H354.2z"/>
<path class="O" d="M354.2 135.54h90.6v3.95H354.2z"/>
<path class="B" d="M354.2 138.49h90.6v3.95H354.2z"/>
<path class="R" d="M354.2 141.43h90.6v3.95H354.2z"/>
<path class="L" d="M354.2 144.38h90.6v3.95H354.2z"/>
<path class="L" d="M354.2 147.33h90.6v3.95H354.2z"/>
<path class="R" d="M354.2 150.27h46.3v3.95H354.2z"/>
<path class="B" d="M399.5 150.27h3.95v3.95H399.5z"/>
<path class="O" d="M402.45 150.27h6.91v3.95H402.45z"/>
<path class="L" d="M408.36 150.27h3.95v3.95H408.36z"/>
<path class="O" d="M411.31 150.27h12.81v3.95H411.31z"/>
<path class="B" d="M423.13 150.27h3.95v3.95H423.13z"/>
<path class="O" d="M426.08 150.27h12.81v3.95H426.08z"/>
<path class="R" d="M437.89 150.27h3.95v3.95H437.89z"/>
<path class="B" d="M440.85 150.27h3.95v3.95H440.85z"/>
<path class="R" d="M354.2 153.22h7.91v3.95H354.2z"/>
<path class="L" d="M361.11 153.22h3.95v3.95H361.11z"/>
<path class="R" d="M364.06 153.22h39.39v3.95H364.06z"/>
<path class="O" d="M402.45 153.22h6.91v3.95H402.45z"/>
<path class="B" d="M408.36 153.22h3.95v3.95H408.36z"/>
<path class="O" d="M411.31 153.22h9.86v3.95H411.31z"/>
<path class="B" d="M420.17 153.22h3.95v3.95H420.17z"/>
<path class="O" d="M423.13 153.22h21.67v3.95H423.13z"/>
<path class="L" d="M354.2 156.16h7.91v3.95H354.2z"/>
<path class="R" d="M361.11 156.16h42.35v3.95H361.11z"/>
<path class="O" d="M402.45 156.16h42.35v3.95H402.45z"/>
<path class="R" d="M354.2 159.11h49.25v3.95H354.2z"/>
<path class="B" d="M402.45 159.11h12.81v3.95H402.45z"/>
<path class="O" d="M414.27 159.11h3.95v3.95H414.27z"/>
<path class="B" d="M417.22 159.11h15.77v3.95H417.22z"/>
<path class="O" d="M431.99 159.11h3.95v3.95H431.99z"/>
<path class="B" d="M434.94 159.11h6.91v3.95H434.94z"/>
<path class="O" d="M440.85 159.11h3.95v3.95H440.85z"/>
<path class="R" d="M354.2 162.05h46.3v3.95H354.2z"/>
<path class="O" d="M399.5 162.05h9.86v3.95H399.5z"/>
<path class="L" d="M408.36 162.05h27.58v3.95H408.36z"/>
<path class="O" d="M434.94 162.05h9.86v3.95H434.94z"/>
<path class="R" d="M354.2 165h46.3v3.95H354.2z"/>
<path class="O" d="M399.5 165h33.49v3.95H399.5z"/>
<path class="B" d="M431.99 165h3.95v3.95H431.99z"/>
<path class="O" d="M434.94 165h9.86v3.95H434.94z"/>
<path class="R" d="M354.2 167.95h49.25v3.95H354.2z"/>
<path class="B" d="M402.45 167.95h33.49v3.95H402.45z"/>
<path class="O" d="M434.94 167.95h9.86v3.95H434.94z"/>
<path class="R" d="M354.2 170.89h46.3v3.95H354.2z"/>
<path class="B" d="M399.5 170.89h42.35v3.95H399.5z"/>
<path class="O" d="M440.85 170.89h3.95v3.95H440.85z"/>
<path class="R" d="M354.2 173.84h40.39v3.95H354.2z"/>
<path class="B" d="M393.59 173.84h27.58v3.95H393.59z"/>
<path class="L" d="M420.17 173.84h3.95v3.95H420.17z"/>
<path class="O" d="M423.13 173.84h3.95v3.95H423.13z"/>
<path class="B" d="M426.08 173.84h3.95v3.95H426.08z"/>
<path class="O" d="M429.03 173.84h3.95v3.95H429.03z"/>
<path class="L" d="M431.99 173.84h6.91v3.95H431.99z"/>
<path class="B" d="M437.89 173.84h3.95v3.95H437.89z"/>
<path class="L" d="M440.85 173.84h3.95v3.95H440.85z"/>
<path class="R" d="M354.2 176.78h40.39v3.95H354.2z"/>
<path class="B" d="M393.59 176.78h48.25v3.95H393.59z"/>
<path class="L" d="M440.85 176.78h3.95v3.95H440.85z"/>
<path class="R" d="M354.2 179.73h37.44v3.95H354.2z"/>
<path class="B" d="M390.64 179.73h54.16v3.95H390.64z"/>
<path class="R" d="M354.2 182.67h37.44v3.95H354.2z"/>
<path class="B" d="M390.64 182.67h54.16v3.95H390.64z"/>
<path class="R" d="M354.2 185.62h40.39v3.95H354.2z"/>
<path class="O" d="M393.59 185.62h45.3v3.95H393.59z"/>
<path class="B" d="M437.89 185.62h3.95v3.95H437.89z"/>
<path class="L" d="M440.85 185.62h3.95v3.95H440.85z"/>
<path class="R" d="M354.2 188.57h34.49v3.95H354.2z"/>
<path class="O" d="M387.69 188.57h54.16v3.95H387.69z"/>
<path class="B" d="M440.85 188.57h3.95v3.95H440.85z"/>
<path class="R" d="M354.2 191.51h28.58v3.95H354.2z"/>
<path class="O" d="M381.78 191.51h54.16v3.95H381.78z"/>
<path class="B" d="M434.94 191.51h9.86v3.95H434.94z"/>
<path class="R" d="M354.2 194.46h19.72v3.95H354.2z"/>
<path class="O" d="M372.92 194.46h65.97v3.95H372.92z"/>
<path class="B" d="M437.89 194.46h3.95v3.95H437.89z"/>
<path class="O" d="M440.85 194.46h3.95v3.95H440.85z"/>
<path class="R" d="M354.2 197.4h7.91v3.95H354.2z"/>
<path class="B" d="M361.11 197.4h83.69v3.95H361.11z"/>
<path class="L" d="M354.2 200.35h13.81v3.95H354.2z"/>
<path class="O" d="M367.01 200.35h77.79v3.95H367.01z"/>
<path class="R" d="M354.2 203.29h7.91v3.95H354.2z"/>
<path class="O" d="M361.11 203.29h83.69v3.95H361.11z"/>
<path class="O" d="M354.2 206.24h90.6v3.95H354.2z"/>
<path class="O" d="M354.2 209.19h90.6v3.95H354.2z"/>
<path class="O" d="M354.2 212.13h90.6v3.95H354.2z"/>
<path class="O" d="M354.2 215.08h90.6v3.95H354.2z"/>
<path class="O" d="M354.2 218.02h90.6v3.95H354.2z"/>
<path class="B" d="M354.2 220.97h90.6v3.95H354.2z"/>
<path class="O" d="M354.2 223.91h7.91v3.95H354.2z"/>
<path class="B" d="M361.11 223.91h83.69v3.95H361.11z"/>
<path class="O" d="M354.2 226.86h90.6v3.95H354.2z"/>
<path class="O" d="M354.2 229.81h90.6v3.95H354.2z"/>
<path class="L" d="M354.2 232.75h90.6v3.95H354.2z"/>
<path class="O" d="M354.2 235.7h90.6v3.95H354.2z"/>
<path class="R" d="M354.2 238.64h4.95v3.95H354.2z"/>
<path class="L" d="M358.15 238.64h6.91v3.95H358.15z"/>
<path class="R" d="M364.06 238.64h6.91v3.95H364.06z"/>
<path class="L" d="M369.97 238.64h12.81v3.95H369.97z"/>
<path class="R" d="M381.78 238.64h3.95v3.95H381.78z"/>
<path class="L" d="M384.73 238.64h15.77v3.95H384.73z"/>
<path class="O" d="M399.5 238.64h3.95v3.95H399.5z"/>
<path class="B" d="M402.45 238.64h6.91v3.95H402.45z"/>
<path class="L" d="M408.36 238.64h3.95v3.95H408.36z"/>
<path class="O" d="M411.31 238.64h6.91v3.95H411.31z"/>
<path class="B" d="M417.22 238.64h3.95v3.95H417.22z"/>
<path class="L" d="M420.17 238.64h3.95v3.95H420.17z"/>
<path class="O" d="M423.13 238.64h3.95v3.95H423.13z"/>
<path class="B" d="M426.08 238.64h3.95v3.95H426.08z"/>
<path class="O" d="M429.03 238.64h9.86v3.95H429.03z"/>
<path class="R" d="M437.89 238.64h3.95v3.95H437.89z"/>
<path class="B" d="M440.85 238.64h3.95v3.95H440.85z"/>
<path class="L" d="M354.2 241.59h10.86v3.95H354.2z"/>
<path class="R" d="M364.06 241.59h33.49v3.95H364.06z"/>
<path class="L" d="M396.55 241.59h6.91v3.95H396.55z"/>
<path class="B" d="M402.45 241.59h3.95v3.95H402.45z"/>
<path class="O" d="M405.41 241.59h18.72v3.95H405.41z"/>
<path class="B" d="M423.13 241.59h3.95v3.95H423.13z"/>
<path class="O" d="M426.08 241.59h3.95v3.95H426.08z"/>
<path class="B" d="M429.03 241.59h3.95v3.95H429.03z"/>
<path class="O" d="M431.99 241.59h9.86v3.95H431.99z"/>
<path class="B" d="M440.85 241.59h3.95v3.95H440.85z"/>
<path class="L" d="M354.2 244.53h13.81v3.95H354.2z"/>
<path class="R" d="M367.01 244.53h18.72v3.95H367.01z"/>
<path class="L" d="M384.73 244.53h6.91v3.95H384.73z"/>
<path class="R" d="M390.64 244.53h6.91v3.95H390.64z"/>
<path class="B" d="M396.55 244.53h9.86v3.95H396.55z"/>
<path class="L" d="M405.41 244.53h3.95v3.95H405.41z"/>
<path class="B" d="M408.36 244.53h3.95v3.95H408.36z"/>
<path class="O" d="M411.31 244.53h3.95v3.95H411.31z"/>
<path class="B" d="M414.27 244.53h21.67v3.95H414.27z"/>
<path class="L" d="M434.94 244.53h9.86v3.95H434.94z"/>
<path class="L" d="M354.2 247.48h7.91v3.95H354.2z"/>
<path class="R" d="M361.11 247.48h36.44v3.95H361.11z"/>
<path class="B" d="M396.55 247.48h12.81v3.95H396.55z"/>
<path class="O" d="M408.36 247.48h6.91v3.95H408.36z"/>
<path class="L" d="M414.27 247.48h3.95v3.95H414.27z"/>
<path class="O" d="M417.22 247.48h6.91v3.95H417.22z"/>
<path class="L" d="M423.13 247.48h12.81v3.95H423.13z"/>
<path class="B" d="M434.94 247.48h3.95v3.95H434.94z"/>
<path class="L" d="M437.89 247.48h3.95v3.95H437.89z"/>
<path class="B" d="M440.85 247.48h3.95v3.95H440.85z"/>
<path class="R" d="M354.2 250.43h7.91v3.95H354.2z"/>
<path class="L" d="M361.11 250.43h3.95v3.95H361.11z"/>
<path class="R" d="M364.06 250.43h36.44v3.95H364.06z"/>
<path class="L" d="M399.5 250.43h15.77v3.95H399.5z"/>
<path class="O" d="M414.27 250.43h21.67v3.95H414.27z"/>
<path class="L" d="M434.94 250.43h9.86v3.95H434.94z"/>
<path class="B" d="M354.2 253.37h7.91v3.95H354.2z"/>
<path class="R" d="M361.11 253.37h39.39v3.95H361.11z"/>
<path class="B" d="M399.5 253.37h6.91v3.95H399.5z"/>
<path class="O" d="M405.41 253.37h3.95v3.95H405.41z"/>
<path class="B" d="M408.36 253.37h3.95v3.95H408.36z"/>
<path class="O" d="M411.31 253.37h24.63v3.95H411.31z"/>
<path class="B" d="M434.94 253.37h9.86v3.95H434.94z"/>
<path class="L" d="M354.2 256.32h55.16v3.95H354.2z"/>
<path class="O" d="M408.36 256.32h9.86v3.95H408.36z"/>
<path class="B" d="M417.22 256.32h3.95v3.95H417.22z"/>
<path class="O" d="M420.17 256.32h24.63v3.95H420.17z"/>
<path class="R" d="M354.2 259.26h7.91v3.95H354.2z"/>
<path class="L" d="M361.11 259.26h3.95v3.95H361.11z"/>
<path class="R" d="M364.06 259.26h30.53v3.95H364.06z"/>
<path class="B" d="M393.59 259.26h51.21v3.95H393.59z"/>
<path class="L" d="M354.2 262.21h19.72v3.95H354.2z"/>
<path class="R" d="M372.92 262.21h3.95v3.95H372.92z"/>
<path class="L" d="M375.87 262.21h6.91v3.95H375.87z"/>
<path class="R" d="M381.78 262.21h9.86v3.95H381.78z"/>
<path class="B" d="M390.64 262.21h21.67v3.95H390.64z"/>
<path class="O" d="M411.31 262.21h30.53v3.95H411.31z"/>
<path class="B" d="M440.85 262.21h3.95v3.95H440.85z"/>
<path class="R" d="M354.2 265.15h40.39v3.95H354.2z"/>
<path class="B" d="M393.59 265.15h24.63v3.95H393.59z"/>
<path class="O" d="M417.22 265.15h24.63v3.95H417.22z"/>
<path class="B" d="M440.85 265.15h3.95v3.95H440.85z"/>
<path class="R" d="M354.2 268.1h37.44v3.95H354.2z"/>
<path class="B" d="M390.64 268.1h12.81v3.95H390.64z"/>
<path class="O" d="M402.45 268.1h39.39v3.95H402.45z"/>
<path class="L" d="M440.85 268.1h3.95v3.95H440.85z"/>
<path class="R" d="M354.2 271.05h31.53v3.95H354.2z"/>
<path class="B" d="M384.73 271.05h60.07v3.95H384.73z"/>
<path class="R" d="M354.2 273.99h13.81v3.95H354.2z"/>
<path class="L" d="M367.01 273.99h24.63v3.95H367.01z"/>
<path class="O" d="M390.64 273.99h54.16v3.95H390.64z"/>
<path class="R" d="M354.2 276.94h37.44v3.95H354.2z"/>
<path class="O" d="M390.64 276.94h6.91v3.95H390.64z"/>
<path class="B" d="M396.55 276.94h18.72v3.95H396.55z"/>
<path class="O" d="M414.27 276.94h6.91v3.95H414.27z"/>
<path class="B" d="M420.17 276.94h24.63v3.95H420.17z"/>
<path class="R" d="M354.2 279.88h7.91v3.95H354.2z"/>
<path class="L" d="M361.11 279.88h12.81v3.95H361.11z"/>
<path class="B" d="M372.92 279.88h9.86v3.95H372.92z"/>
<path class="O" d="M381.78 279.88h15.77v3.95H381.78z"/>
<path class="B" d="M396.55 279.88h3.95v3.95H396.55z"/>
<path class="O" d="M399.5 279.88h30.53v3.95H399.5z"/>
<path class="B" d="M429.03 279.88h12.81v3.95H429.03z"/>
<path class="O" d="M440.85 279.88h3.95v3.95H440.85z"/>
<path class="L" d="M354.2 282.83h37.44v3.95H354.2z"/>
<path class="B" d="M390.64 282.83h54.16v3.95H390.64z"/>
<path class="R" d="M354.2 285.77h16.77v3.95H354.2z"/>
<path class="B" d="M369.97 285.77h74.83v3.95H369.97z"/>
<path class="L" d="M354.2 288.72h25.63v3.95H354.2z"/>
<path class="O" d="M378.83 288.72h65.97v3.95H378.83z"/>
<path class="R" d="M354.2 291.67h13.81v3.95H354.2z"/>
<path class="B" d="M367.01 291.67h77.79v3.95H367.01z"/>
<path class="B" d="M354.2 294.61h90.6v3.95H354.2z"/>
<path class="B" d="M354.2 297.56h81.74v3.95H354.2z"/>
<path class="O" d="M434.94 297.56h9.86v3.95H434.94z"/>
<path class="B" d="M354.2 300.5h7.91v3.95H354.2z"/>
<path class="O" d="M361.11 300.5h83.69v3.95H361.11z"/>
<path class="O" d="M354.2 303.45h19.72v3.95H354.2z"/>
<path class="B" d="M372.92 303.45h3.95v3.95H372.92z"/>
<path class="O" d="M375.87 303.45h48.25v3.95H375.87z"/>
<path class="B" d="M423.13 303.45h3.95v3.95H423.13z"/>
<path class="O" d="M426.08 303.45h3.95v3.95H426.08z"/>
<path class="B" d="M429.03 303.45h12.81v3.95H429.03z"/>
<path class="O" d="M440.85 303.45h3.95v3.95H440.85z"/>
<path class="B" d="M354.2 306.39h90.6v3.95H354.2z"/>
<path class="B" d="M354.2 309.34h7.91v3.95H354.2z"/>
<path class="O" d="M361.11 309.34h83.69v3.95H361.11z"/>
<path class="O" d="M354.2 312.29h84.69v3.95H354.2z"/>
<path class="B" d="M437.89 312.29h3.95v3.95H437.89z"/>
<path class="O" d="M440.85 312.29h3.95v3.95H440.85z"/>
<path class="B" d="M354.2 315.23h90.6v3.95H354.2z"/>
<path class="B" d="M354.2 318.18h90.6v3.95H354.2z"/>
<path class="B" d="M354.2 321.12h90.6v3.95H354.2z"/>
<path class="B" d="M354.2 324.07h90.6v3.95H354.2z"/>
<path class="R" d="M354.2 327.01h7.91v3.95H354.2z"/>
<path class="L" d="M361.11 327.01h3.95v3.95H361.11z"/>
<path class="R" d="M364.06 327.01h12.81v3.95H364.06z"/>
<path class="L" d="M375.87 327.01h3.95v3.95H375.87z"/>
<path class="R" d="M378.83 327.01h21.67v3.95H378.83z"/>
<path class="B" d="M399.5 327.01h3.95v3.95H399.5z"/>
<path class="O" d="M402.45 327.01h15.77v3.95H402.45z"/>
<path class="B" d="M417.22 327.01h3.95v3.95H417.22z"/>
<path class="R" d="M420.17 327.01h3.95v3.95H420.17z"/>
<path class="L" d="M423.13 327.01h3.95v3.95H423.13z"/>
<path class="O" d="M426.08 327.01h9.86v3.95H426.08z"/>
<path class="B" d="M434.94 327.01h3.95v3.95H434.94z"/>
<path class="R" d="M437.89 327.01h3.95v3.95H437.89z"/>
<path class="B" d="M440.85 327.01h3.95v3.95H440.85z"/>
<path class="R" d="M354.2 329.96h46.3v3.95H354.2z"/>
<path class="B" d="M399.5 329.96h3.95v3.95H399.5z"/>
<path class="O" d="M402.45 329.96h39.39v3.95H402.45z"/>
<path class="R" d="M440.85 329.96h3.95v3.95H440.85z"/>
<path class="B" d="M354.2 332.91h7.91v3.95H354.2z"/>
<path class="R" d="M361.11 332.91h42.35v3.95H361.11z"/>
<path class="L" d="M402.45 332.91h6.91v3.95H402.45z"/>
<path class="O" d="M408.36 332.91h30.53v3.95H408.36z"/>
<path class="B" d="M437.89 332.91h3.95v3.95H437.89z"/>
<path class="O" d="M440.85 332.91h3.95v3.95H440.85z"/>
<path class="R" d="M354.2 335.85h46.3v3.95H354.2z"/>
<path class="B" d="M399.5 335.85h6.91v3.95H399.5z"/>
<path class="O" d="M405.41 335.85h36.44v3.95H405.41z"/>
<path class="B" d="M440.85 335.85h3.95v3.95H440.85z"/>
<path class="R" d="M354.2 338.8h46.3v3.95H354.2z"/>
<path class="O" d="M399.5 338.8h36.44v3.95H399.5z"/>
<path class="L" d="M434.94 338.8h9.86v3.95H434.94z"/>
<path class="R" d="M354.2 341.74h46.3v3.95H354.2z"/>
<path class="O" d="M399.5 341.74h39.39v3.95H399.5z"/>
<path class="L" d="M437.89 341.74h3.95v3.95H437.89z"/>
<path class="O" d="M440.85 341.74h3.95v3.95H440.85z"/>
<path class="R" d="M354.2 344.69h43.35v3.95H354.2z"/>
<path class="O" d="M396.55 344.69h39.39v3.95H396.55z"/>
<path class="R" d="M434.94 344.69h3.95v3.95H434.94z"/>
<path class="L" d="M437.89 344.69h3.95v3.95H437.89z"/>
<path class="O" d="M440.85 344.69h3.95v3.95H440.85z"/>
<path class="R" d="M354.2 347.63h46.3v3.95H354.2z"/>
<path class="B" d="M399.5 347.63h3.95v3.95H399.5z"/>
<path class="O" d="M402.45 347.63h42.35v3.95H402.45z"/>
<path class="R" d="M354.2 350.58h43.35v3.95H354.2z"/>
<path class="O" d="M396.55 350.58h48.25v3.95H396.55z"/>
<path class="R" d="M354.2 353.53h40.39v3.95H354.2z"/>
<path class="B" d="M393.59 353.53h6.91v3.95H393.59z"/>
<path class="O" d="M399.5 353.53h45.3v3.95H399.5z"/>
<path class="R" d="M354.2 356.47h40.39v3.95H354.2z"/>
<path class="O" d="M393.59 356.47h51.21v3.95H393.59z"/>
<path class="R" d="M354.2 359.42h52.21v3.95H354.2z"/>
<path class="O" d="M405.41 359.42h39.39v3.95H405.41z"/>
<path class="R" d="M354.2 362.36h40.39v3.95H354.2z"/>
<path class="B" d="M393.59 362.36h15.77v3.95H393.59z"/>
<path class="O" d="M408.36 362.36h3.95v3.95H408.36z"/>
<path class="B" d="M411.31 362.36h12.81v3.95H411.31z"/>
<path class="O" d="M423.13 362.36h21.67v3.95H423.13z"/>
<path class="R" d="M354.2 365.31h28.58v3.95H354.2z"/>
<path class="B" d="M381.78 365.31h9.86v3.95H381.78z"/>
<path class="R" d="M390.64 365.31h3.95v3.95H390.64z"/>
<path class="B" d="M393.59 365.31h24.63v3.95H393.59z"/>
<path class="O" d="M417.22 365.31h3.95v3.95H417.22z"/>
<path class="B" d="M420.17 365.31h3.95v3.95H420.17z"/>
<path class="R" d="M423.13 365.31h9.86v3.95H423.13z"/>
<path class="O" d="M431.99 365.31h6.91v3.95H431.99z"/>
<path class="R" d="M437.89 365.31h3.95v3.95H437.89z"/>
<path class="O" d="M440.85 365.31h3.95v3.95H440.85z"/>
<path class="R" d="M354.2 368.25h13.81v3.95H354.2z"/>
<path class="B" d="M367.01 368.25h45.3v3.95H367.01z"/>
<path class="O" d="M411.31 368.25h9.86v3.95H411.31z"/>
<path class="B" d="M420.17 368.25h3.95v3.95H420.17z"/>
<path class="O" d="M423.13 368.25h21.67v3.95H423.13z"/>
<path class="R" d="M354.2 371.2h37.44v3.95H354.2z"/>
<path class="B" d="M390.64 371.2h54.16v3.95H390.64z"/>
<path class="R" d="M354.2 374.15h7.91v3.95H354.2z"/>
<path class="B" d="M361.11 374.15h21.67v3.95H361.11z"/>
<path class="O" d="M381.78 374.15h63.02v3.95H381.78z"/>
<path class="R" d="M354.2 377.09h7.91v3.95H354.2z"/>
<path class="B" d="M361.11 377.09h15.77v3.95H361.11z"/>
<path class="O" d="M375.87 377.09h68.93v3.95H375.87z"/>
<path class="R" d="M354.2 380.04h13.81v3.95H354.2z"/>
<path class="O" d="M367.01 380.04h77.79v3.95H367.01z"/>
<path class="R" d="M354.2 382.98h7.91v3.95H354.2z"/>
<path class="O" d="M361.11 382.98h74.83v3.95H361.11z"/>
<path class="B" d="M434.94 382.98h9.86v3.95H434.94z"/>
<path class="R" d="M354.2 385.93h7.91v3.95H354.2z"/>
<path class="O" d="M361.11 385.93h83.69v3.95H361.11z"/>
<path class="O" d="M354.2 388.87h13.81v3.95H354.2z"/>
<path class="B" d="M367.01 388.87h77.79v3.95H367.01z"/>
<path class="O" d="M354.2 391.82h90.6v3.95H354.2z"/>
<path class="O" d="M354.2 394.77h90.6v3.95H354.2z"/>
<path class="O" d="M354.2 397.71h84.69v3.95H354.2z"/>
<path class="B" d="M437.89 397.71h3.95v3.95H437.89z"/>
<path class="O" d="M440.85 397.71h3.95v3.95H440.85z"/>
<path class="O" d="M354.2 400.66h90.6v3.95H354.2z"/>
<path class="O" d="M354.2 403.6h90.6v3.95H354.2z"/>
<path class="R" d="M354.2 406.55h90.6v3.95H354.2z"/>
<path class="O" d="M354.2 409.49h90.6v3.95H354.2z"/>
<path class="O" d="M354.2 412.44h90.6v3.95H354.2z"/>
<path class="L" d="M354.2 415.39h4.95v3.95H354.2z"/>
<path class="R" d="M358.15 415.39h42.35v3.95H358.15z"/>
<path class="L" d="M399.5 415.39h3.95v3.95H399.5z"/>
<path class="O" d="M402.45 415.39h6.91v3.95H402.45z"/>
<path class="L" d="M408.36 415.39h3.95v3.95H408.36z"/>
<path class="O" d="M411.31 415.39h12.81v3.95H411.31z"/>
<path class="L" d="M423.13 415.39h6.91v3.95H423.13z"/>
<path class="O" d="M429.03 415.39h9.86v3.95H429.03z"/>
<path class="R" d="M437.89 415.39h3.95v3.95H437.89z"/>
<path class="O" d="M440.85 415.39h3.95v3.95H440.85z"/>
<path class="R" d="M354.2 418.33h7.91v3.95H354.2z"/>
<path class="L" d="M361.11 418.33h3.95v3.95H361.11z"/>
<path class="R" d="M364.06 418.33h36.44v3.95H364.06z"/>
<path class="B" d="M399.5 418.33h3.95v3.95H399.5z"/>
<path class="O" d="M402.45 418.33h36.44v3.95H402.45z"/>
<path class="B" d="M437.89 418.33h3.95v3.95H437.89z"/>
<path class="O" d="M440.85 418.33h3.95v3.95H440.85z"/>
<path class="L" d="M354.2 421.28h7.91v3.95H354.2z"/>
<path class="R" d="M361.11 421.28h42.35v3.95H361.11z"/>
<path class="B" d="M402.45 421.28h3.95v3.95H402.45z"/>
<path class="O" d="M405.41 421.28h33.49v3.95H405.41z"/>
<path class="L" d="M437.89 421.28h3.95v3.95H437.89z"/>
<path class="O" d="M440.85 421.28h3.95v3.95H440.85z"/>
<path class="R" d="M354.2 424.22h46.3v3.95H354.2z"/>
<path class="B" d="M399.5 424.22h6.91v3.95H399.5z"/>
<path class="O" d="M405.41 424.22h36.44v3.95H405.41z"/>
<path class="B" d="M440.85 424.22h3.95v3.95H440.85z"/>
<path class="R" d="M354.2 427.17h46.3v3.95H354.2z"/>
<path class="O" d="M399.5 427.17h39.39v3.95H399.5z"/>
<path class="L" d="M437.89 427.17h3.95v3.95H437.89z"/>
<path class="B" d="M440.85 427.17h3.95v3.95H440.85z"/>
<path class="R" d="M354.2 430.11h46.3v3.95H354.2z"/>
<path class="O" d="M399.5 430.11h45.3v3.95H399.5z"/>
<path class="R" d="M354.2 433.06h40.39v3.95H354.2z"/>
<path class="B" d="M393.59 433.06h15.77v3.95H393.59z"/>
<path class="O" d="M408.36 433.06h36.44v3.95H408.36z"/>
<path class="R" d="M354.2 436.01h43.35v3.95H354.2z"/>
<path class="O" d="M396.55 436.01h48.25v3.95H396.55z"/>
<path class="R" d="M354.2 438.95h40.39v3.95H354.2z"/>
<path class="O" d="M393.59 438.95h51.21v3.95H393.59z"/>
<path class="R" d="M354.2 441.9h37.44v3.95H354.2z"/>
<path class="B" d="M390.64 441.9h15.77v3.95H390.64z"/>
<path class="O" d="M405.41 441.9h39.39v3.95H405.41z"/>
<path class="R" d="M354.2 444.84h40.39v3.95H354.2z"/>
<path class="O" d="M393.59 444.84h45.3v3.95H393.59z"/>
<path class="R" d="M437.89 444.84h3.95v3.95H437.89z"/>
<path class="O" d="M440.85 444.84h3.95v3.95H440.85z"/>
<path class="R" d="M354.2 447.79h43.35v3.95H354.2z"/>
<path class="B" d="M396.55 447.79h6.91v3.95H396.55z"/>
<path class="O" d="M402.45 447.79h42.35v3.95H402.45z"/>
<path class="R" d="M354.2 450.73h40.39v3.95H354.2z"/>
<path class="O" d="M393.59 450.73h51.21v3.95H393.59z"/>
<path class="R" d="M354.2 453.68h34.49v3.95H354.2z"/>
<path class="O" d="M387.69 453.68h57.11v3.95H387.69z"/>
<path class="R" d="M354.2 456.63h25.63v3.95H354.2z"/>
<path class="O" d="M378.83 456.63h65.97v3.95H378.83z"/>
<path class="R" d="M354.2 459.57h13.81v3.95H354.2z"/>
<path class="B" d="M367.01 459.57h24.63v3.95H367.01z"/>
<path class="O" d="M390.64 459.57h54.16v3.95H390.64z"/>
<path class="R" d="M354.2 462.52h22.67v3.95H354.2z"/>
<path class="O" d="M375.87 462.52h68.93v3.95H375.87z"/>
<path class="R" d="M354.2 465.46h7.91v3.95H354.2z"/>
<path class="L" d="M361.11 465.46h9.86v3.95H361.11z"/>
<path class="O" d="M369.97 465.46h74.83v3.95H369.97z"/>
<path class="R" d="M354.2 468.41h10.86v3.95H354.2z"/>
<path class="O" d="M364.06 468.41h60.07v3.95H364.06z"/>
<path class="B" d="M423.13 468.41h21.67v3.95H423.13z"/>
<path class="O" d="M354.2 471.35h81.74v3.95H354.2z"/>
<path class="B" d="M434.94 471.35h6.91v3.95H434.94z"/>
<path class="O" d="M440.85 471.35h3.95v3.95H440.85z"/>
<path class="B" d="M354.2 474.3h10.86v3.95H354.2z"/>
<path class="O" d="M364.06 474.3h9.86v3.95H364.06z"/>
<path class="B" d="M372.92 474.3h3.95v3.95H372.92z"/>
<path class="O" d="M375.87 474.3h54.16v3.95H375.87z"/>
<path class="B" d="M429.03 474.3h6.91v3.95H429.03z"/>
<path class="O" d="M434.94 474.3h6.91v3.95H434.94z"/>
<path class="B" d="M440.85 474.3h3.95v3.95H440.85z"/>
<path class="O" d="M354.2 477.25h90.6v3.95H354.2z"/>
<path class="O" d="M354.2 480.19h90.6v3.95H354.2z"/>
<path class="O" d="M354.2 483.14h90.6v3.95H354.2z"/>
<path class="O" d="M354.2 486.08h90.6v3.95H354.2z"/>
<path class="O" d="M354.2 489.03h90.6v3.95H354.2z"/>
<path class="O" d="M354.2 491.97h90.6v3.95H354.2z"/>
<path class="O" d="M354.2 494.92h90.6v3.95H354.2z"/>
<path class="O" d="M354.2 497.87h90.6v3.95H354.2z"/>
<path class="O" d="M354.2 500.81h90.6v3.95H354.2z"/>
<path class="R" d="M354.2 503.76h46.3v3.95H354.2z"/>
<path class="O" d="M399.5 503.76h39.39v3.95H399.5z"/>
<path class="R" d="M437.89 503.76h3.95v3.95H437.89z"/>
<path class="O" d="M440.85 503.76h3.95v3.95H440.85z"/>
<path class="L" d="M354.2 506.7h10.86v3.95H354.2z"/>
<path class="R" d="M364.06 506.7h36.44v3.95H364.06z"/>
<path class="B" d="M399.5 506.7h6.91v3.95H399.5z"/>
<path class="O" d="M405.41 506.7h3.95v3.95H405.41z"/>
<path class="B" d="M408.36 506.7h3.95v3.95H408.36z"/>
<path class="O" d="M411.31 506.7h12.81v3.95H411.31z"/>
<path class="B" d="M423.13 506.7h6.91v3.95H423.13z"/>
<path class="O" d="M429.03 506.7h9.86v3.95H429.03z"/>
<path class="B" d="M437.89 506.7h3.95v3.95H437.89z"/>
<path class="O" d="M440.85 506.7h3.95v3.95H440.85z"/>
<path class="R" d="M354.2 509.65h46.3v3.95H354.2z"/>
<path class="B" d="M399.5 509.65h6.91v3.95H399.5z"/>
<path class="O" d="M405.41 509.65h39.39v3.95H405.41z"/>
<path class="R" d="M354.2 512.59h46.3v3.95H354.2z"/>
<path class="O" d="M399.5 512.59h36.44v3.95H399.5z"/>
<path class="B" d="M434.94 512.59h9.86v3.95H434.94z"/>
<path class="L" d="M354.2 515.54h7.91v3.95H354.2z"/>
<path class="R" d="M361.11 515.54h39.39v3.95H361.11z"/>
<path class="O" d="M399.5 515.54h36.44v3.95H399.5z"/>
<path class="B" d="M434.94 515.54h9.86v3.95H434.94z"/>
<path class="R" d="M354.2 518.49h46.3v3.95H354.2z"/>
<path class="O" d="M399.5 518.49h42.35v3.95H399.5z"/>
<path class="B" d="M440.85 518.49h3.95v3.95H440.85z"/>
<path class="R" d="M354.2 521.43h43.35v3.95H354.2z"/>
<path class="B" d="M396.55 521.43h6.91v3.95H396.55z"/>
<path class="O" d="M402.45 521.43h33.49v3.95H402.45z"/>
<path class="B" d="M434.94 521.43h9.86v3.95H434.94z"/>
<path class="R" d="M354.2 524.38h43.35v3.95H354.2z"/>
<path class="O" d="M396.55 524.38h48.25v3.95H396.55z"/>
<path class="R" d="M354.2 527.32h40.39v3.95H354.2z"/>
<path class="O" d="M393.59 527.32h51.21v3.95H393.59z"/>
<path class="R" d="M354.2 530.27h43.35v3.95H354.2z"/>
<path class="O" d="M396.55 530.27h45.3v3.95H396.55z"/>
<path class="B" d="M440.85 530.27h3.95v3.95H440.85z"/>
<path class="R" d="M354.2 533.21h37.44v3.95H354.2z"/>
<path class="O" d="M390.64 533.21h54.16v3.95H390.64z"/>
<path class="R" d="M354.2 536.16h40.39v3.95H354.2z"/>
<path class="O" d="M393.59 536.16h51.21v3.95H393.59z"/>
<path class="R" d="M354.2 539.11h37.44v3.95H354.2z"/>
<path class="O" d="M390.64 539.11h54.16v3.95H390.64z"/>
<path class="R" d="M354.2 542.05h37.44v3.95H354.2z"/>
<path class="O" d="M390.64 542.05h54.16v3.95H390.64z"/>
<path class="R" d="M354.2 545h37.44v3.95H354.2z"/>
<path class="O" d="M390.64 545h51.21v3.95H390.64z"/>
<path class="B" d="M440.85 545h3.95v3.95H440.85z"/>
<path class="R" d="M354.2 547.94h34.49v3.95H354.2z"/>
<path class="B" d="M387.69 547.94h6.91v3.95H387.69z"/>
<path class="O" d="M393.59 547.94h24.63v3.95H393.59z"/>
<path class="B" d="M417.22 547.94h12.81v3.95H417.22z"/>
<path class="O" d="M429.03 547.94h15.77v3.95H429.03z"/>
<path class="R" d="M354.2 550.89h19.72v3.95H354.2z"/>
<path class="O" d="M372.92 550.89h71.88v3.95H372.92z"/>
<path class="R" d="M354.2 553.83h19.72v3.95H354.2z"/>
<path class="O" d="M372.92 553.83h71.88v3.95H372.92z"/>
<path class="R" d="M354.2 556.78h13.81v3.95H354.2z"/>
<path class="B" d="M367.01 556.78h57.11v3.95H367.01z"/>
<path class="O" d="M423.13 556.78h21.67v3.95H423.13z"/>
<path class="L" d="M354.2 559.73h7.91v3.95H354.2z"/>
<path class="O" d="M361.11 559.73h83.69v3.95H361.11z"/>
<path class="B" d="M354.2 562.67h25.63v3.95H354.2z"/>
<path class="O" d="M378.83 562.67h65.97v3.95H378.83z"/>
<path class="O" d="M354.2 565.62h90.6v3.95H354.2z"/>
<path class="O" d="M354.2 568.56h90.6v3.95H354.2z"/>
<path class="O" d="M354.2 571.51h90.6v3.95H354.2z"/>
<path class="O" d="M354.2 574.45h90.6v3.95H354.2z"/>
<path class="O" d="M354.2 577.4h84.69v3.95H354.2z"/>
<path class="B" d="M437.89 577.4h3.95v3.95H437.89z"/>
<path class="O" d="M440.85 577.4h3.95v3.95H440.85z"/>
<path class="O" d="M354.2 580.35h90.6v3.95H354.2z"/>
<path class="B" d="M354.2 583.29h7.91v3.95H354.2z"/>
<path class="O" d="M361.11 583.29h83.69v3.95H361.11z"/>
<path class="O" d="M354.2 586.24h90.6v3.95H354.2z"/>
<path class="O" d="M354.2 589.18h90.6v3.95H354.2z"/>
<path class="R" d="M354.2 592.13h7.91v3.95H354.2z"/>
<path class="L" d="M361.11 592.13h3.95v3.95H361.11z"/>
<path class="R" d="M364.06 592.13h36.44v3.95H364.06z"/>
<path class="B" d="M399.5 592.13h6.91v3.95H399.5z"/>
<path class="O" d="M405.41 592.13h3.95v3.95H405.41z"/>
<path class="L" d="M408.36 592.13h3.95v3.95H408.36z"/>
<path class="O" d="M411.31 592.13h12.81v3.95H411.31z"/>
<path class="B" d="M423.13 592.13h3.95v3.95H423.13z"/>
<path class="L" d="M426.08 592.13h3.95v3.95H426.08z"/>
<path class="O" d="M429.03 592.13h9.86v3.95H429.03z"/>
<path class="R" d="M437.89 592.13h3.95v3.95H437.89z"/>
<path class="O" d="M440.85 592.13h3.95v3.95H440.85z"/>
<path class="R" d="M354.2 595.07h49.25v3.95H354.2z"/>
<path class="L" d="M402.45 595.07h6.91v3.95H402.45z"/>
<path class="O" d="M408.36 595.07h15.77v3.95H408.36z"/>
<path class="L" d="M423.13 595.07h6.91v3.95H423.13z"/>
<path class="O" d="M429.03 595.07h9.86v3.95H429.03z"/>
<path class="L" d="M437.89 595.07h3.95v3.95H437.89z"/>
<path class="O" d="M440.85 595.07h3.95v3.95H440.85z"/>
<path class="R" d="M354.2 598.02h49.25v3.95H354.2z"/>
<path class="O" d="M402.45 598.02h39.39v3.95H402.45z"/>
<path class="L" d="M440.85 598.02h3.95v3.95H440.85z"/>
<path class="R" d="M354.2 600.97h49.25v3.95H354.2z"/>
<path class="L" d="M402.45 600.97h6.91v3.95H402.45z"/>
<path class="O" d="M408.36 600.97h33.49v3.95H408.36z"/>
<path class="L" d="M440.85 600.97h3.95v3.95H440.85z"/>
<path class="R" d="M354.2 603.91h46.3v3.95H354.2z"/>
<path class="O" d="M399.5 603.91h45.3v3.95H399.5z"/>
<path class="R" d="M354.2 606.86h46.3v3.95H354.2z"/>
<path class="O" d="M399.5 606.86h39.39v3.95H399.5z"/>
<path class="L" d="M437.89 606.86h3.95v3.95H437.89z"/>
<path class="O" d="M440.85 606.86h3.95v3.95H440.85z"/>
<path class="R" d="M354.2 609.8h43.35v3.95H354.2z"/>
<path class="O" d="M396.55 609.8h48.25v3.95H396.55z"/>
<path class="R" d="M354.2 612.75h43.35v3.95H354.2z"/>
<path class="O" d="M396.55 612.75h48.25v3.95H396.55z"/>
<path class="R" d="M354.2 615.69h43.35v3.95H354.2z"/>
<path class="O" d="M396.55 615.69h48.25v3.95H396.55z"/>
<path class="R" d="M354.2 618.64h43.35v3.95H354.2z"/>
<path class="O" d="M396.55 618.64h48.25v3.95H396.55z"/>
<path class="R" d="M354.2 621.59h40.39v3.95H354.2z"/>
<path class="O" d="M393.59 621.59h51.21v3.95H393.59z"/>
<path class="R" d="M354.2 624.53h40.39v3.95H354.2z"/>
<path class="O" d="M393.59 624.53h51.21v3.95H393.59z"/>
<path class="R" d="M354.2 627.48h43.35v3.95H354.2z"/>
<path class="O" d="M396.55 627.48h48.25v3.95H396.55z"/>
<path class="R" d="M354.2 630.42h37.44v3.95H354.2z"/>
<path class="O" d="M390.64 630.42h54.16v3.95H390.64z"/>
<path class="R" d="M354.2 633.37h31.53v3.95H354.2z"/>
<path class="O" d="M384.73 633.37h60.07v3.95H384.73z"/>
<path class="R" d="M354.2 636.31h37.44v3.95H354.2z"/>
<path class="B" d="M390.64 636.31h3.95v3.95H390.64z"/>
<path class="O" d="M393.59 636.31h24.63v3.95H393.59z"/>
<path class="B" d="M417.22 636.31h18.72v3.95H417.22z"/>
<path class="O" d="M434.94 636.31h9.86v3.95H434.94z"/>
<path class="R" d="M354.2 639.26h19.72v3.95H354.2z"/>
<path class="O" d="M372.92 639.26h71.88v3.95H372.92z"/>
<path class="R" d="M354.2 642.21h13.81v3.95H354.2z"/>
<path class="O" d="M367.01 642.21h77.79v3.95H367.01z"/>
<path class="R" d="M354.2 645.15h13.81v3.95H354.2z"/>
<path class="O" d="M367.01 645.15h77.79v3.95H367.01z"/>
<path class="R" d="M354.2 648.1h7.91v3.95H354.2z"/>
<path class="O" d="M361.11 648.1h83.69v3.95H361.11z"/>
<path class="B" d="M354.2 651.04h7.91v3.95H354.2z"/>
<path class="O" d="M361.11 651.04h83.69v3.95H361.11z"/>
<path class="R" d="M354.2 653.99h13.81v3.95H354.2z"/>
<path class="O" d="M367.01 653.99h77.79v3.95H367.01z"/>
<path class="O" d="M354.2 656.93h90.6v3.95H354.2z"/>
<path class="O" d="M354.2 659.88h90.6v3.95H354.2z"/>
<path class="O" d="M354.2 662.83h90.6v3.95H354.2z"/>
<path class="O" d="M354.2 665.77h90.6v3.95H354.2z"/>
<path class="O" d="M354.2 668.72h90.6v3.95H354.2z"/>
<path class="O" d="M354.2 671.66h90.6v3.95H354.2z"/>
<path class="O" d="M354.2 674.61h90.6v3.95H354.2z"/>
<path class="O" d="M354.2 677.55h90.6v3.95H354.2z"/>
<rect x="355.2" y="149.97" width="88.6" height="0.8" fill="#fff" opacity="0.85"/>
<rect x="355.2" y="238.34" width="88.6" height="0.8" fill="#fff" opacity="0.85"/>
<rect x="355.2" y="326.71" width="88.6" height="0.8" fill="#fff" opacity="0.85"/>
<rect x="355.2" y="415.09" width="88.6" height="0.8" fill="#fff" opacity="0.85"/>
<rect x="355.2" y="503.46" width="88.6" height="0.8" fill="#fff" opacity="0.85"/>
<rect x="355.2" y="591.83" width="88.6" height="0.8" fill="#fff" opacity="0.85"/>
</g>
<g clip-path="url(#cb2)">
<path fill="#bdd790" d="M451 59.9h20.2v5.95H451z"/>
<path fill="#d4e4a1" d="M451 64.85h20.2v3.95H451z"/>
<path fill="#b8d38d" d="M451 67.79h20.2v3.95H451z"/>
<path fill="#8eb672" d="M451 70.74h20.2v3.95H451z"/>
<path fill="#8fb672" d="M451 73.68h20.2v3.95H451z"/>
<path fill="#9abe79" d="M451 76.63h20.2v3.95H451z"/>
<path fill="#c6dd97" d="M451 79.57h20.2v3.95H451z"/>
<path fill="#7ca765" d="M451 82.52h20.2v3.95H451z"/>
<path fill="#b3d089" d="M451 85.47h20.2v3.95H451z"/>
<path fill="#a4c57f" d="M451 88.41h20.2v3.95H451z"/>
<path fill="#e7eeaf" d="M451 91.36h20.2v3.95H451z"/>
<path fill="#b1ce88" d="M451 94.3h20.2v3.95H451z"/>
<path fill="#cade99" d="M451 97.25h20.2v3.95H451z"/>
<path fill="#d6e5a2" d="M451 100.19h20.2v3.95H451z"/>
<path fill="#accb85" d="M451 103.14h20.2v3.95H451z"/>
<path fill="#b4d18a" d="M451 106.09h20.2v3.95H451z"/>
<path fill="#ebf0b2" d="M451 109.03h20.2v3.95H451z"/>
<path fill="#90b772" d="M451 111.98h20.2v3.95H451z"/>
<path fill="#c3db94" d="M451 114.92h20.2v3.95H451z"/>
<path fill="#8bb36f" d="M451 117.87h20.2v3.95H451z"/>
<path fill="#c2da93" d="M451 120.81h20.2v3.95H451z"/>
<path fill="#9abf79" d="M451 123.76h20.2v3.95H451z"/>
<path fill="#bbd68f" d="M451 126.71h20.2v3.95H451z"/>
<path fill="#c8de98" d="M451 129.65h20.2v3.95H451z"/>
<path fill="#cde09c" d="M451 132.6h20.2v3.95H451z"/>
<path fill="#d8e6a4" d="M451 135.54h20.2v3.95H451z"/>
<path fill="#cee19d" d="M451 138.49h20.2v3.95H451z"/>
<path fill="#dae7a5" d="M451 141.43h20.2v3.95H451z"/>
<path fill="#d0e29e" d="M451 144.38h20.2v3.95H451z"/>
<path fill="#d2e39f" d="M451 147.33h20.2v3.95H451z"/>
<path fill="#70a05d" d="M451 150.27h20.2v3.95H451z"/>
<path fill="#79a563" d="M451 153.22h20.2v3.95H451z"/>
<path fill="#84ad6a" d="M451 156.16h20.2v3.95H451z"/>
<path fill="#679a56" d="M451 159.11h20.2v3.95H451z"/>
<path fill="#7aa563" d="M451 162.05h20.2v3.95H451z"/>
<path fill="#609651" d="M451 165h20.2v3.95H451z"/>
<path fill="#7aa563" d="M451 167.95h20.2v3.95H451z"/>
<path fill="#89b26e" d="M451 170.89h20.2v3.95H451z"/>
<path fill="#73a15e" d="M451 173.84h20.2v3.95H451z"/>
<path fill="#84ae6b" d="M451 176.78h20.2v3.95H451z"/>
<path fill="#8ab26e" d="M451 179.73h20.2v3.95H451z"/>
<path fill="#95bb76" d="M451 182.67h20.2v3.95H451z"/>
<path fill="#92b874" d="M451 185.62h20.2v3.95H451z"/>
<path fill="#aaca84" d="M451 188.57h20.2v3.95H451z"/>
<path fill="#9cc07b" d="M451 191.51h20.2v3.95H451z"/>
<path fill="#9abe79" d="M451 194.46h20.2v3.95H451z"/>
<path fill="#86af6c" d="M451 197.4h20.2v3.95H451z"/>
<path fill="#a6c781" d="M451 200.35h20.2v3.95H451z"/>
<path fill="#aecc86" d="M451 203.29h20.2v3.95H451z"/>
<path fill="#82ac69" d="M451 206.24h20.2v3.95H451z"/>
<path fill="#87b06d" d="M451 209.19h20.2v3.95H451z"/>
<path fill="#88b16d" d="M451 212.13h20.2v3.95H451z"/>
<path fill="#93b975" d="M451 215.08h20.2v3.95H451z"/>
<path fill="#97bc77" d="M451 218.02h20.2v3.95H451z"/>
<path fill="#90b773" d="M451 220.97h20.2v3.95H451z"/>
<path fill="#9dc17b" d="M451 223.91h20.2v3.95H451z"/>
<path fill="#9bbf7a" d="M451 226.86h20.2v3.95H451z"/>
<path fill="#9cc07a" d="M451 229.81h20.2v3.95H451z"/>
<path fill="#9ec17b" d="M451 232.75h20.2v3.95H451z"/>
<path fill="#9cc07a" d="M451 235.7h20.2v3.95H451z"/>
<path fill="#89b16e" d="M451 238.64h20.2v3.95H451z"/>
<path fill="#9ec27c" d="M451 241.59h20.2v3.95H451z"/>
<path fill="#99be78" d="M451 244.53h20.2v3.95H451z"/>
<path fill="#99be79" d="M451 247.48h20.2v3.95H451z"/>
<path fill="#84ae6a" d="M451 250.43h20.2v3.95H451z"/>
<path fill="#a1c47e" d="M451 253.37h20.2v3.95H451z"/>
<path fill="#a9c983" d="M451 256.32h20.2v3.95H451z"/>
<path fill="#a2c47e" d="M451 259.26h20.2v3.95H451z"/>
<path fill="#bed891" d="M451 262.21h20.2v3.95H451z"/>
<path fill="#a3c57f" d="M451 265.15h20.2v3.95H451z"/>
<path fill="#9ec27c" d="M451 268.1h20.2v3.95H451z"/>
<path fill="#c0d992" d="M451 271.05h20.2v3.95H451z"/>
<path fill="#b6d28c" d="M451 273.99h20.2v3.95H451z"/>
<path fill="#abca84" d="M451 276.94h20.2v3.95H451z"/>
<path fill="#a5c680" d="M451 279.88h20.2v3.95H451z"/>
<path fill="#92b974" d="M451 282.83h20.2v3.95H451z"/>
<path fill="#cbdf9a" d="M451 285.77h20.2v3.95H451z"/>
<path fill="#b9d48e" d="M451 288.72h20.2v3.95H451z"/>
<path fill="#a7c882" d="M451 291.67h20.2v3.95H451z"/>
<path fill="#88b16d" d="M451 294.61h20.2v3.95H451z"/>
<path fill="#6f9f5c" d="M451 297.56h20.2v3.95H451z"/>
<path fill="#98bd78" d="M451 300.5h20.2v3.95H451z"/>
<path fill="#c5dc96" d="M451 303.45h20.2v3.95H451z"/>
<path fill="#94ba75" d="M451 306.39h20.2v3.95H451z"/>
<path fill="#9bbf7a" d="M451 309.34h20.2v3.95H451z"/>
<path fill="#8db571" d="M451 312.29h20.2v3.95H451z"/>
<path fill="#a8c983" d="M451 315.23h20.2v3.95H451z"/>
<path fill="#afcd87" d="M451 318.18h20.2v3.95H451z"/>
<path fill="#dee9a8" d="M451 321.12h20.2v3.95H451z"/>
<path fill="#e2ecac" d="M451 324.07h20.2v3.95H451z"/>
<path fill="#81ab68" d="M451 327.01h20.2v3.95H451z"/>
<path fill="#669955" d="M451 329.96h20.2v3.95H451z"/>
<path fill="#7ea966" d="M451 332.91h20.2v3.95H451z"/>
<path fill="#5c934e" d="M451 335.85h20.2v3.95H451z"/>
<path fill="#7ea966" d="M451 338.8h20.2v3.95H451z"/>
<path fill="#58904b" d="M451 341.74h20.2v3.95H451z"/>
<path fill="#5d934e" d="M451 344.69h20.2v3.95H451z"/>
<path fill="#71a05d" d="M451 347.63h20.2v3.95H451z"/>
<path fill="#84ae6b" d="M451 350.58h20.2v3.95H451z"/>
<path fill="#7ba664" d="M451 353.53h20.2v3.95H451z"/>
<path fill="#89b26e" d="M451 356.47h20.2v3.95H451z"/>
<path fill="#82ac69" d="M451 359.42h20.2v3.95H451z"/>
<path fill="#8ab26e" d="M451 362.36h20.2v3.95H451z"/>
<path fill="#8ab26f" d="M451 365.31h20.2v3.95H451z"/>
<path fill="#a6c781" d="M451 368.25h20.2v3.95H451z"/>
<path fill="#96bc77" d="M451 371.2h20.2v3.95H451z"/>
<path fill="#80aa68" d="M451 374.15h20.2v3.95H451z"/>
<path fill="#8bb36f" d="M451 377.09h20.2v3.95H451z"/>
<path fill="#8cb470" d="M451 380.04h20.2v3.95H451z"/>
<path fill="#87b06c" d="M451 382.98h20.2v3.95H451z"/>
<path fill="#9fc27c" d="M451 385.93h20.2v3.95H451z"/>
<path fill="#8cb470" d="M451 388.87h20.2v3.95H451z"/>
<path fill="#80ab68" d="M451 391.82h20.2v3.95H451z"/>
<path fill="#80ab68" d="M451 394.77h20.2v3.95H451z"/>
<path fill="#9dc17b" d="M451 397.71h20.2v3.95H451z"/>
<path fill="#88b16d" d="M451 400.66h20.2v3.95H451z"/>
<path fill="#8db571" d="M451 403.6h20.2v3.95H451z"/>
<path fill="#91b873" d="M451 406.55h20.2v3.95H451z"/>
<path fill="#92b874" d="M451 409.49h20.2v3.95H451z"/>
<path fill="#9fc27c" d="M451 412.44h20.2v3.95H451z"/>
<path fill="#659954" d="M451 415.39h20.2v3.95H451z"/>
<path fill="#669955" d="M451 418.33h20.2v3.95H451z"/>
<path fill="#7ca765" d="M451 421.28h20.2v3.95H451z"/>
<path fill="#629752" d="M451 424.22h20.2v3.95H451z"/>
<path fill="#629753" d="M451 427.17h20.2v3.95H451z"/>
<path fill="#609551" d="M451 430.11h20.2v3.95H451z"/>
<path fill="#649854" d="M451 433.06h20.2v3.95H451z"/>
<path fill="#81ac69" d="M451 436.01h20.2v3.95H451z"/>
<path fill="#6d9d5a" d="M451 438.95h20.2v3.95H451z"/>
<path fill="#6d9e5a" d="M451 441.9h20.2v3.95H451z"/>
<path fill="#7fa967" d="M451 444.84h20.2v3.95H451z"/>
<path fill="#7ca865" d="M451 447.79h20.2v3.95H451z"/>
<path fill="#7ba664" d="M451 450.73h20.2v3.95H451z"/>
<path fill="#7faa67" d="M451 453.68h20.2v3.95H451z"/>
<path fill="#7da866" d="M451 456.63h20.2v3.95H451z"/>
<path fill="#8fb672" d="M451 459.57h20.2v3.95H451z"/>
<path fill="#86af6c" d="M451 462.52h20.2v3.95H451z"/>
<path fill="#8bb36f" d="M451 465.46h20.2v3.95H451z"/>
<path fill="#97bc77" d="M451 468.41h20.2v3.95H451z"/>
<path fill="#93b974" d="M451 471.35h20.2v3.95H451z"/>
<path fill="#8cb470" d="M451 474.3h20.2v3.95H451z"/>
<path fill="#7da866" d="M451 477.25h20.2v3.95H451z"/>
<path fill="#81ab68" d="M451 480.19h20.2v3.95H451z"/>
<path fill="#81ab68" d="M451 483.14h20.2v3.95H451z"/>
<path fill="#82ac69" d="M451 486.08h20.2v3.95H451z"/>
<path fill="#83ac69" d="M451 489.03h20.2v3.95H451z"/>
<path fill="#83ad6a" d="M451 491.97h20.2v3.95H451z"/>
<path fill="#8eb571" d="M451 494.92h20.2v3.95H451z"/>
<path fill="#90b773" d="M451 497.87h20.2v3.95H451z"/>
<path fill="#94ba75" d="M451 500.81h20.2v3.95H451z"/>
<path fill="#5e944f" d="M451 503.76h20.2v3.95H451z"/>
<path fill="#7ba764" d="M451 506.7h20.2v3.95H451z"/>
<path fill="#5f9550" d="M451 509.65h20.2v3.95H451z"/>
<path fill="#6b9c58" d="M451 512.59h20.2v3.95H451z"/>
<path fill="#639753" d="M451 515.54h20.2v3.95H451z"/>
<path fill="#6b9c59" d="M451 518.49h20.2v3.95H451z"/>
<path fill="#7aa663" d="M451 521.43h20.2v3.95H451z"/>
<path fill="#6c9d59" d="M451 524.38h20.2v3.95H451z"/>
<path fill="#7ca765" d="M451 527.32h20.2v3.95H451z"/>
<path fill="#85ae6b" d="M451 530.27h20.2v3.95H451z"/>
<path fill="#7faa67" d="M451 533.21h20.2v3.95H451z"/>
<path fill="#85ae6b" d="M451 536.16h20.2v3.95H451z"/>
<path fill="#95bb76" d="M451 539.11h20.2v3.95H451z"/>
<path fill="#96bc76" d="M451 542.05h20.2v3.95H451z"/>
<path fill="#86af6b" d="M451 545h20.2v3.95H451z"/>
<path fill="#86af6c" d="M451 547.94h20.2v3.95H451z"/>
<path fill="#78a462" d="M451 550.89h20.2v3.95H451z"/>
<path fill="#8ab36f" d="M451 553.83h20.2v3.95H451z"/>
<path fill="#8bb470" d="M451 556.78h20.2v3.95H451z"/>
<path fill="#78a462" d="M451 559.73h20.2v3.95H451z"/>
<path fill="#87b06d" d="M451 562.67h20.2v3.95H451z"/>
<path fill="#699b57" d="M451 565.62h20.2v3.95H451z"/>
<path fill="#699b58" d="M451 568.56h20.2v3.95H451z"/>
<path fill="#79a563" d="M451 571.51h20.2v3.95H451z"/>
<path fill="#83ad6a" d="M451 574.45h20.2v3.95H451z"/>
<path fill="#7ea966" d="M451 577.4h20.2v3.95H451z"/>
<path fill="#8eb671" d="M451 580.35h20.2v3.95H451z"/>
<path fill="#94ba75" d="M451 583.29h20.2v3.95H451z"/>
<path fill="#98bd78" d="M451 586.24h20.2v3.95H451z"/>
<path fill="#98bd78" d="M451 589.18h20.2v3.95H451z"/>
<path fill="#6a9c58" d="M451 592.13h20.2v3.95H451z"/>
<path fill="#5f9550" d="M451 595.07h20.2v3.95H451z"/>
<path fill="#508a44" d="M451 598.02h20.2v3.95H451z"/>
<path fill="#5d944f" d="M451 600.97h20.2v3.95H451z"/>
<path fill="#548d47" d="M451 603.91h20.2v3.95H451z"/>
<path fill="#649853" d="M451 606.86h20.2v3.95H451z"/>
<path fill="#6e9e5b" d="M451 609.8h20.2v3.95H451z"/>
<path fill="#74a260" d="M451 612.75h20.2v3.95H451z"/>
<path fill="#7aa664" d="M451 615.69h20.2v3.95H451z"/>
<path fill="#7fa967" d="M451 618.64h20.2v3.95H451z"/>
<path fill="#679a56" d="M451 621.59h20.2v3.95H451z"/>
<path fill="#7da865" d="M451 624.53h20.2v3.95H451z"/>
<path fill="#96bb76" d="M451 627.48h20.2v3.95H451z"/>
<path fill="#85af6b" d="M451 630.42h20.2v3.95H451z"/>
<path fill="#76a361" d="M451 633.37h20.2v3.95H451z"/>
<path fill="#80aa67" d="M451 636.31h20.2v3.95H451z"/>
<path fill="#619652" d="M451 639.26h20.2v3.95H451z"/>
<path fill="#689a57" d="M451 642.21h20.2v3.95H451z"/>
<path fill="#709f5c" d="M451 645.15h20.2v3.95H451z"/>
<path fill="#6e9e5b" d="M451 648.1h20.2v3.95H451z"/>
<path fill="#79a462" d="M451 651.04h20.2v3.95H451z"/>
<path fill="#87b06c" d="M451 653.99h20.2v3.95H451z"/>
<path fill="#79a563" d="M451 656.93h20.2v3.95H451z"/>
<path fill="#7ba764" d="M451 659.88h20.2v3.95H451z"/>
<path fill="#7ea866" d="M451 662.83h20.2v3.95H451z"/>
<path fill="#83ad6a" d="M451 665.77h20.2v3.95H451z"/>
<path fill="#88b16e" d="M451 668.72h20.2v3.95H451z"/>
<path fill="#91b873" d="M451 671.66h20.2v3.95H451z"/>
<path fill="#a0c37d" d="M451 674.61h20.2v3.95H451z"/>
<path fill="#a0c37d" d="M451 677.55h20.2v3.95H451z"/>
<rect x="452" y="61.3" width="0.9" height="619.2" fill="#2f6a20" opacity="0.18"/>
<rect x="469.3" y="61.3" width="0.9" height="619.2" fill="#2f6a20" opacity="0.18"/>
</g>
<clipPath id="cp3"><rect x="518.2" y="61.9" width="88.6" height="618.6"/></clipPath>
<clipPath id="cb3"><rect x="614.9" y="61.3" width="17.7" height="619.2"/></clipPath>
<g clip-path="url(#cp3)">
<path class="R" d="M517.2 60.9h46.3v4.95H517.2z"/>
<path class="O" d="M562.5 60.9h39.39v4.95H562.5z"/>
<path class="R" d="M600.89 60.9h3.95v4.95H600.89z"/>
<path class="O" d="M603.85 60.9h3.95v4.95H603.85z"/>
<path class="L" d="M517.2 64.85h4.95v3.95H517.2z"/>
<path class="R" d="M521.15 64.85h42.35v3.95H521.15z"/>
<path class="L" d="M562.5 64.85h3.95v3.95H562.5z"/>
<path class="O" d="M565.45 64.85h6.91v3.95H565.45z"/>
<path class="L" d="M571.36 64.85h3.95v3.95H571.36z"/>
<path class="O" d="M574.31 64.85h12.81v3.95H574.31z"/>
<path class="L" d="M586.13 64.85h6.91v3.95H586.13z"/>
<path class="O" d="M592.03 64.85h9.86v3.95H592.03z"/>
<path class="R" d="M600.89 64.85h3.95v3.95H600.89z"/>
<path class="O" d="M603.85 64.85h3.95v3.95H603.85z"/>
<path class="R" d="M517.2 67.79h7.91v3.95H517.2z"/>
<path class="L" d="M524.11 67.79h3.95v3.95H524.11z"/>
<path class="R" d="M527.06 67.79h36.44v3.95H527.06z"/>
<path class="B" d="M562.5 67.79h6.91v3.95H562.5z"/>
<path class="O" d="M568.41 67.79h3.95v3.95H568.41z"/>
<path class="L" d="M571.36 67.79h3.95v3.95H571.36z"/>
<path class="O" d="M574.31 67.79h12.81v3.95H574.31z"/>
<path class="B" d="M586.13 67.79h3.95v3.95H586.13z"/>
<path class="L" d="M589.08 67.79h3.95v3.95H589.08z"/>
<path class="O" d="M592.03 67.79h9.86v3.95H592.03z"/>
<path class="R" d="M600.89 67.79h3.95v3.95H600.89z"/>
<path class="O" d="M603.85 67.79h3.95v3.95H603.85z"/>
<path class="R" d="M517.2 70.74h46.3v3.95H517.2z"/>
<path class="B" d="M562.5 70.74h3.95v3.95H562.5z"/>
<path class="O" d="M565.45 70.74h6.91v3.95H565.45z"/>
<path class="L" d="M571.36 70.74h3.95v3.95H571.36z"/>
<path class="O" d="M574.31 70.74h12.81v3.95H574.31z"/>
<path class="B" d="M586.13 70.74h3.95v3.95H586.13z"/>
<path class="O" d="M589.08 70.74h12.81v3.95H589.08z"/>
<path class="R" d="M600.89 70.74h3.95v3.95H600.89z"/>
<path class="B" d="M603.85 70.74h3.95v3.95H603.85z"/>
<path class="R" d="M517.2 73.68h7.91v3.95H517.2z"/>
<path class="L" d="M524.11 73.68h3.95v3.95H524.11z"/>
<path class="R" d="M527.06 73.68h12.81v3.95H527.06z"/>
<path class="L" d="M538.87 73.68h3.95v3.95H538.87z"/>
<path class="R" d="M541.83 73.68h21.67v3.95H541.83z"/>
<path class="B" d="M562.5 73.68h3.95v3.95H562.5z"/>
<path class="O" d="M565.45 73.68h15.77v3.95H565.45z"/>
<path class="B" d="M580.22 73.68h3.95v3.95H580.22z"/>
<path class="R" d="M583.17 73.68h3.95v3.95H583.17z"/>
<path class="L" d="M586.13 73.68h3.95v3.95H586.13z"/>
<path class="O" d="M589.08 73.68h9.86v3.95H589.08z"/>
<path class="B" d="M597.94 73.68h3.95v3.95H597.94z"/>
<path class="R" d="M600.89 73.68h3.95v3.95H600.89z"/>
<path class="B" d="M603.85 73.68h3.95v3.95H603.85z"/>
<path class="R" d="M517.2 76.63h4.95v3.95H517.2z"/>
<path class="L" d="M521.15 76.63h6.91v3.95H521.15z"/>
<path class="R" d="M527.06 76.63h6.91v3.95H527.06z"/>
<path class="L" d="M532.97 76.63h12.81v3.95H532.97z"/>
<path class="R" d="M544.78 76.63h3.95v3.95H544.78z"/>
<path class="L" d="M547.73 76.63h15.77v3.95H547.73z"/>
<path class="O" d="M562.5 76.63h3.95v3.95H562.5z"/>
<path class="B" d="M565.45 76.63h6.91v3.95H565.45z"/>
<path class="L" d="M571.36 76.63h3.95v3.95H571.36z"/>
<path class="O" d="M574.31 76.63h6.91v3.95H574.31z"/>
<path class="B" d="M580.22 76.63h3.95v3.95H580.22z"/>
<path class="L" d="M583.17 76.63h3.95v3.95H583.17z"/>
<path class="O" d="M586.13 76.63h3.95v3.95H586.13z"/>
<path class="B" d="M589.08 76.63h3.95v3.95H589.08z"/>
<path class="O" d="M592.03 76.63h9.86v3.95H592.03z"/>
<path class="R" d="M600.89 76.63h3.95v3.95H600.89z"/>
<path class="B" d="M603.85 76.63h3.95v3.95H603.85z"/>
<path class="R" d="M517.2 79.57h49.25v3.95H517.2z"/>
<path class="L" d="M565.45 79.57h3.95v3.95H565.45z"/>
<path class="O" d="M568.41 79.57h30.53v3.95H568.41z"/>
<path class="B" d="M597.94 79.57h3.95v3.95H597.94z"/>
<path class="R" d="M600.89 79.57h6.91v3.95H600.89z"/>
<path class="R" d="M517.2 82.52h49.25v3.95H517.2z"/>
<path class="L" d="M565.45 82.52h6.91v3.95H565.45z"/>
<path class="O" d="M571.36 82.52h15.77v3.95H571.36z"/>
<path class="L" d="M586.13 82.52h6.91v3.95H586.13z"/>
<path class="O" d="M592.03 82.52h9.86v3.95H592.03z"/>
<path class="L" d="M600.89 82.52h3.95v3.95H600.89z"/>
<path class="O" d="M603.85 82.52h3.95v3.95H603.85z"/>
<path class="R" d="M517.2 85.47h46.3v3.95H517.2z"/>
<path class="B" d="M562.5 85.47h3.95v3.95H562.5z"/>
<path class="O" d="M565.45 85.47h39.39v3.95H565.45z"/>
<path class="R" d="M603.85 85.47h3.95v3.95H603.85z"/>
<path class="R" d="M517.2 88.41h7.91v3.95H517.2z"/>
<path class="L" d="M524.11 88.41h3.95v3.95H524.11z"/>
<path class="R" d="M527.06 88.41h36.44v3.95H527.06z"/>
<path class="B" d="M562.5 88.41h3.95v3.95H562.5z"/>
<path class="O" d="M565.45 88.41h36.44v3.95H565.45z"/>
<path class="B" d="M600.89 88.41h3.95v3.95H600.89z"/>
<path class="O" d="M603.85 88.41h3.95v3.95H603.85z"/>
<path class="R" d="M517.2 91.36h7.91v3.95H517.2z"/>
<path class="L" d="M524.11 91.36h3.95v3.95H524.11z"/>
<path class="R" d="M527.06 91.36h39.39v3.95H527.06z"/>
<path class="O" d="M565.45 91.36h6.91v3.95H565.45z"/>
<path class="B" d="M571.36 91.36h3.95v3.95H571.36z"/>
<path class="O" d="M574.31 91.36h9.86v3.95H574.31z"/>
<path class="B" d="M583.17 91.36h3.95v3.95H583.17z"/>
<path class="O" d="M586.13 91.36h21.67v3.95H586.13z"/>
<path class="L" d="M517.2 94.3h10.86v3.95H517.2z"/>
<path class="R" d="M527.06 94.3h36.44v3.95H527.06z"/>
<path class="B" d="M562.5 94.3h6.91v3.95H562.5z"/>
<path class="O" d="M568.41 94.3h3.95v3.95H568.41z"/>
<path class="B" d="M571.36 94.3h3.95v3.95H571.36z"/>
<path class="O" d="M574.31 94.3h12.81v3.95H574.31z"/>
<path class="B" d="M586.13 94.3h6.91v3.95H586.13z"/>
<path class="O" d="M592.03 94.3h9.86v3.95H592.03z"/>
<path class="B" d="M600.89 94.3h3.95v3.95H600.89z"/>
<path class="O" d="M603.85 94.3h3.95v3.95H603.85z"/>
<path class="L" d="M517.2 97.25h10.86v3.95H517.2z"/>
<path class="R" d="M527.06 97.25h33.49v3.95H527.06z"/>
<path class="L" d="M559.55 97.25h6.91v3.95H559.55z"/>
<path class="B" d="M565.45 97.25h3.95v3.95H565.45z"/>
<path class="O" d="M568.41 97.25h18.72v3.95H568.41z"/>
<path class="B" d="M586.13 97.25h3.95v3.95H586.13z"/>
<path class="O" d="M589.08 97.25h3.95v3.95H589.08z"/>
<path class="B" d="M592.03 97.25h3.95v3.95H592.03z"/>
<path class="O" d="M594.99 97.25h9.86v3.95H594.99z"/>
<path class="B" d="M603.85 97.25h3.95v3.95H603.85z"/>
<path class="L" d="M517.2 100.19h13.81v3.95H517.2z"/>
<path class="R" d="M530.01 100.19h36.44v3.95H530.01z"/>
<path class="B" d="M565.45 100.19h3.95v3.95H565.45z"/>
<path class="R" d="M568.41 100.19h3.95v3.95H568.41z"/>
<path class="B" d="M571.36 100.19h3.95v3.95H571.36z"/>
<path class="O" d="M574.31 100.19h9.86v3.95H574.31z"/>
<path class="R" d="M583.17 100.19h6.91v3.95H583.17z"/>
<path class="B" d="M589.08 100.19h3.95v3.95H589.08z"/>
<path class="R" d="M592.03 100.19h3.95v3.95H592.03z"/>
<path class="O" d="M594.99 100.19h12.81v3.95H594.99z"/>
<path class="R" d="M517.2 103.14h49.25v3.95H517.2z"/>
<path class="O" d="M565.45 103.14h39.39v3.95H565.45z"/>
<path class="L" d="M603.85 103.14h3.95v3.95H603.85z"/>
<path class="R" d="M517.2 106.09h46.3v3.95H517.2z"/>
<path class="B" d="M562.5 106.09h6.91v3.95H562.5z"/>
<path class="O" d="M568.41 106.09h39.39v3.95H568.41z"/>
<path class="L" d="M517.2 109.03h7.91v3.95H517.2z"/>
<path class="R" d="M524.11 109.03h42.35v3.95H524.11z"/>
<path class="B" d="M565.45 109.03h3.95v3.95H565.45z"/>
<path class="O" d="M568.41 109.03h33.49v3.95H568.41z"/>
<path class="L" d="M600.89 109.03h3.95v3.95H600.89z"/>
<path class="O" d="M603.85 109.03h3.95v3.95H603.85z"/>
<path class="B" d="M517.2 111.98h7.91v3.95H517.2z"/>
<path class="R" d="M524.11 111.98h42.35v3.95H524.11z"/>
<path class="L" d="M565.45 111.98h6.91v3.95H565.45z"/>
<path class="O" d="M571.36 111.98h30.53v3.95H571.36z"/>
<path class="B" d="M600.89 111.98h3.95v3.95H600.89z"/>
<path class="O" d="M603.85 111.98h3.95v3.95H603.85z"/>
<path class="L" d="M517.2 114.92h7.91v3.95H517.2z"/>
<path class="R" d="M524.11 114.92h42.35v3.95H524.11z"/>
<path class="O" d="M565.45 114.92h42.35v3.95H565.45z"/>
<path class="L" d="M517.2 117.87h13.81v3.95H517.2z"/>
<path class="R" d="M530.01 117.87h18.72v3.95H530.01z"/>
<path class="L" d="M547.73 117.87h6.91v3.95H547.73z"/>
<path class="R" d="M553.64 117.87h6.91v3.95H553.64z"/>
<path class="B" d="M559.55 117.87h9.86v3.95H559.55z"/>
<path class="L" d="M568.41 117.87h3.95v3.95H568.41z"/>
<path class="B" d="M571.36 117.87h3.95v3.95H571.36z"/>
<path class="O" d="M574.31 117.87h3.95v3.95H574.31z"/>
<path class="B" d="M577.27 117.87h21.67v3.95H577.27z"/>
<path class="L" d="M597.94 117.87h9.86v3.95H597.94z"/>
<path class="R" d="M517.2 120.81h49.25v3.95H517.2z"/>
<path class="O" d="M565.45 120.81h15.77v3.95H565.45z"/>
<path class="B" d="M580.22 120.81h9.86v3.95H580.22z"/>
<path class="O" d="M589.08 120.81h15.77v3.95H589.08z"/>
<path class="R" d="M603.85 120.81h3.95v3.95H603.85z"/>
<path class="R" d="M517.2 123.76h46.3v3.95H517.2z"/>
<path class="B" d="M562.5 123.76h6.91v3.95H562.5z"/>
<path class="O" d="M568.41 123.76h36.44v3.95H568.41z"/>
<path class="B" d="M603.85 123.76h3.95v3.95H603.85z"/>
<path class="R" d="M517.2 126.71h49.25v3.95H517.2z"/>
<path class="L" d="M565.45 126.71h6.91v3.95H565.45z"/>
<path class="O" d="M571.36 126.71h33.49v3.95H571.36z"/>
<path class="L" d="M603.85 126.71h3.95v3.95H603.85z"/>
<path class="R" d="M517.2 129.65h46.3v3.95H517.2z"/>
<path class="B" d="M562.5 129.65h6.91v3.95H562.5z"/>
<path class="O" d="M568.41 129.65h36.44v3.95H568.41z"/>
<path class="B" d="M603.85 129.65h3.95v3.95H603.85z"/>
<path class="R" d="M517.2 132.6h49.25v3.95H517.2z"/>
<path class="B" d="M565.45 132.6h12.81v3.95H565.45z"/>
<path class="O" d="M577.27 132.6h3.95v3.95H577.27z"/>
<path class="B" d="M580.22 132.6h15.77v3.95H580.22z"/>
<path class="O" d="M594.99 132.6h3.95v3.95H594.99z"/>
<path class="B" d="M597.94 132.6h6.91v3.95H597.94z"/>
<path class="O" d="M603.85 132.6h3.95v3.95H603.85z"/>
<path class="R" d="M517.2 135.54h46.3v3.95H517.2z"/>
<path class="O" d="M562.5 135.54h36.44v3.95H562.5z"/>
<path class="B" d="M597.94 135.54h9.86v3.95H597.94z"/>
<path class="R" d="M517.2 138.49h46.3v3.95H517.2z"/>
<path class="O" d="M562.5 138.49h12.81v3.95H562.5z"/>
<path class="L" d="M574.31 138.49h3.95v3.95H574.31z"/>
<path class="O" d="M577.27 138.49h3.95v3.95H577.27z"/>
<path class="L" d="M580.22 138.49h15.77v3.95H580.22z"/>
<path class="O" d="M594.99 138.49h3.95v3.95H594.99z"/>
<path class="L" d="M597.94 138.49h6.91v3.95H597.94z"/>
<path class="O" d="M603.85 138.49h3.95v3.95H603.85z"/>
<path class="L" d="M517.2 141.43h7.91v3.95H517.2z"/>
<path class="R" d="M524.11 141.43h36.44v3.95H524.11z"/>
<path class="B" d="M559.55 141.43h12.81v3.95H559.55z"/>
<path class="O" d="M571.36 141.43h6.91v3.95H571.36z"/>
<path class="L" d="M577.27 141.43h3.95v3.95H577.27z"/>
<path class="O" d="M580.22 141.43h6.91v3.95H580.22z"/>
<path class="L" d="M586.13 141.43h12.81v3.95H586.13z"/>
<path class="B" d="M597.94 141.43h3.95v3.95H597.94z"/>
<path class="L" d="M600.89 141.43h3.95v3.95H600.89z"/>
<path class="B" d="M603.85 141.43h3.95v3.95H603.85z"/>
<path class="R" d="M517.2 144.38h46.3v3.95H517.2z"/>
<path class="O" d="M562.5 144.38h45.3v3.95H562.5z"/>
<path class="R" d="M517.2 147.33h46.3v3.95H517.2z"/>
<path class="O" d="M562.5 147.33h39.39v3.95H562.5z"/>
<path class="L" d="M600.89 147.33h3.95v3.95H600.89z"/>
<path class="B" d="M603.85 147.33h3.95v3.95H603.85z"/>
<path class="L" d="M517.2 150.27h7.91v3.95H517.2z"/>
<path class="R" d="M524.11 150.27h39.39v3.95H524.11z"/>
<path class="O" d="M562.5 150.27h36.44v3.95H562.5z"/>
<path class="B" d="M597.94 150.27h9.86v3.95H597.94z"/>
<path class="R" d="M517.2 153.22h46.3v3.95H517.2z"/>
<path class="O" d="M562.5 153.22h9.86v3.95H562.5z"/>
<path class="L" d="M571.36 153.22h27.58v3.95H571.36z"/>
<path class="O" d="M597.94 153.22h9.86v3.95H597.94z"/>
<path class="R" d="M517.2 156.16h46.3v3.95H517.2z"/>
<path class="O" d="M562.5 156.16h36.44v3.95H562.5z"/>
<path class="L" d="M597.94 156.16h9.86v3.95H597.94z"/>
<path class="R" d="M517.2 159.11h7.91v3.95H517.2z"/>
<path class="L" d="M524.11 159.11h3.95v3.95H524.11z"/>
<path class="R" d="M527.06 159.11h36.44v3.95H527.06z"/>
<path class="L" d="M562.5 159.11h15.77v3.95H562.5z"/>
<path class="O" d="M577.27 159.11h21.67v3.95H577.27z"/>
<path class="L" d="M597.94 159.11h9.86v3.95H597.94z"/>
<path class="L" d="M517.2 162.05h7.91v3.95H517.2z"/>
<path class="R" d="M524.11 162.05h39.39v3.95H524.11z"/>
<path class="O" d="M562.5 162.05h12.81v3.95H562.5z"/>
<path class="L" d="M574.31 162.05h33.49v3.95H574.31z"/>
<path class="R" d="M517.2 165h46.3v3.95H517.2z"/>
<path class="O" d="M562.5 165h39.39v3.95H562.5z"/>
<path class="L" d="M600.89 165h3.95v3.95H600.89z"/>
<path class="O" d="M603.85 165h3.95v3.95H603.85z"/>
<path class="R" d="M517.2 167.95h46.3v3.95H517.2z"/>
<path class="O" d="M562.5 167.95h45.3v3.95H562.5z"/>
<path class="R" d="M517.2 170.89h46.3v3.95H517.2z"/>
<path class="O" d="M562.5 170.89h33.49v3.95H562.5z"/>
<path class="B" d="M594.99 170.89h3.95v3.95H594.99z"/>
<path class="O" d="M597.94 170.89h9.86v3.95H597.94z"/>
<path class="R" d="M517.2 173.84h46.3v3.95H517.2z"/>
<path class="O" d="M562.5 173.84h39.39v3.95H562.5z"/>
<path class="L" d="M600.89 173.84h3.95v3.95H600.89z"/>
<path class="O" d="M603.85 173.84h3.95v3.95H603.85z"/>
<path class="R" d="M517.2 176.78h46.3v3.95H517.2z"/>
<path class="O" d="M562.5 176.78h42.35v3.95H562.5z"/>
<path class="B" d="M603.85 176.78h3.95v3.95H603.85z"/>
<path class="R" d="M517.2 179.73h90.6v3.95H517.2z"/>
<path class="B" d="M517.2 182.67h7.91v3.95H517.2z"/>
<path class="R" d="M524.11 182.67h39.39v3.95H524.11z"/>
<path class="B" d="M562.5 182.67h6.91v3.95H562.5z"/>
<path class="O" d="M568.41 182.67h3.95v3.95H568.41z"/>
<path class="B" d="M571.36 182.67h3.95v3.95H571.36z"/>
<path class="O" d="M574.31 182.67h24.63v3.95H574.31z"/>
<path class="B" d="M597.94 182.67h9.86v3.95H597.94z"/>
<path class="R" d="M517.2 185.62h43.35v3.95H517.2z"/>
<path class="O" d="M559.55 185.62h39.39v3.95H559.55z"/>
<path class="R" d="M597.94 185.62h3.95v3.95H597.94z"/>
<path class="L" d="M600.89 185.62h3.95v3.95H600.89z"/>
<path class="O" d="M603.85 185.62h3.95v3.95H603.85z"/>
<path class="R" d="M517.2 188.57h40.39v3.95H517.2z"/>
<path class="B" d="M556.59 188.57h15.77v3.95H556.59z"/>
<path class="O" d="M571.36 188.57h36.44v3.95H571.36z"/>
<path class="R" d="M517.2 191.51h49.25v3.95H517.2z"/>
<path class="B" d="M565.45 191.51h33.49v3.95H565.45z"/>
<path class="O" d="M597.94 191.51h9.86v3.95H597.94z"/>
<path class="R" d="M517.2 194.46h43.35v3.95H517.2z"/>
<path class="B" d="M559.55 194.46h6.91v3.95H559.55z"/>
<path class="O" d="M565.45 194.46h33.49v3.95H565.45z"/>
<path class="B" d="M597.94 194.46h9.86v3.95H597.94z"/>
<path class="R" d="M517.2 197.4h43.35v3.95H517.2z"/>
<path class="O" d="M559.55 197.4h48.25v3.95H559.55z"/>
<path class="L" d="M517.2 200.35h55.16v3.95H517.2z"/>
<path class="O" d="M571.36 200.35h9.86v3.95H571.36z"/>
<path class="B" d="M580.22 200.35h3.95v3.95H580.22z"/>
<path class="O" d="M583.17 200.35h24.63v3.95H583.17z"/>
<path class="R" d="M517.2 203.29h58.11v3.95H517.2z"/>
<path class="L" d="M574.31 203.29h24.63v3.95H574.31z"/>
<path class="R" d="M597.94 203.29h9.86v3.95H597.94z"/>
<path class="R" d="M517.2 206.24h43.35v3.95H517.2z"/>
<path class="O" d="M559.55 206.24h48.25v3.95H559.55z"/>
<path class="R" d="M517.2 209.19h46.3v3.95H517.2z"/>
<path class="B" d="M562.5 209.19h3.95v3.95H562.5z"/>
<path class="O" d="M565.45 209.19h42.35v3.95H565.45z"/>
<path class="R" d="M517.2 212.13h61.07v3.95H517.2z"/>
<path class="L" d="M577.27 212.13h27.58v3.95H577.27z"/>
<path class="R" d="M603.85 212.13h3.95v3.95H603.85z"/>
<path class="R" d="M517.2 215.08h43.35v3.95H517.2z"/>
<path class="O" d="M559.55 215.08h48.25v3.95H559.55z"/>
<path class="R" d="M517.2 218.02h43.35v3.95H517.2z"/>
<path class="O" d="M559.55 218.02h48.25v3.95H559.55z"/>
<path class="R" d="M517.2 220.97h46.3v3.95H517.2z"/>
<path class="B" d="M562.5 220.97h42.35v3.95H562.5z"/>
<path class="O" d="M603.85 220.97h3.95v3.95H603.85z"/>
<path class="R" d="M517.2 223.91h7.91v3.95H517.2z"/>
<path class="L" d="M524.11 223.91h3.95v3.95H524.11z"/>
<path class="R" d="M527.06 223.91h30.53v3.95H527.06z"/>
<path class="B" d="M556.59 223.91h51.21v3.95H556.59z"/>
<path class="R" d="M517.2 226.86h40.39v3.95H517.2z"/>
<path class="O" d="M556.59 226.86h51.21v3.95H556.59z"/>
<path class="R" d="M517.2 229.81h40.39v3.95H517.2z"/>
<path class="B" d="M556.59 229.81h27.58v3.95H556.59z"/>
<path class="L" d="M583.17 229.81h3.95v3.95H583.17z"/>
<path class="O" d="M586.13 229.81h3.95v3.95H586.13z"/>
<path class="B" d="M589.08 229.81h3.95v3.95H589.08z"/>
<path class="O" d="M592.03 229.81h3.95v3.95H592.03z"/>
<path class="L" d="M594.99 229.81h6.91v3.95H594.99z"/>
<path class="B" d="M600.89 229.81h3.95v3.95H600.89z"/>
<path class="L" d="M603.85 229.81h3.95v3.95H603.85z"/>
<path class="R" d="M517.2 232.75h43.35v3.95H517.2z"/>
<path class="O" d="M559.55 232.75h48.25v3.95H559.55z"/>
<path class="R" d="M517.2 235.7h40.39v3.95H517.2z"/>
<path class="O" d="M556.59 235.7h51.21v3.95H556.59z"/>
<path class="R" d="M517.2 238.64h43.35v3.95H517.2z"/>
<path class="O" d="M559.55 238.64h48.25v3.95H559.55z"/>
<path class="R" d="M517.2 241.59h40.39v3.95H517.2z"/>
<path class="B" d="M556.59 241.59h51.21v3.95H556.59z"/>
<path class="L" d="M517.2 244.53h19.72v3.95H517.2z"/>
<path class="R" d="M535.92 244.53h3.95v3.95H535.92z"/>
<path class="L" d="M538.87 244.53h6.91v3.95H538.87z"/>
<path class="R" d="M544.78 244.53h9.86v3.95H544.78z"/>
<path class="B" d="M553.64 244.53h21.67v3.95H553.64z"/>
<path class="O" d="M574.31 244.53h30.53v3.95H574.31z"/>
<path class="B" d="M603.85 244.53h3.95v3.95H603.85z"/>
<path class="R" d="M517.2 247.48h37.44v3.95H517.2z"/>
<path class="B" d="M553.64 247.48h15.77v3.95H553.64z"/>
<path class="O" d="M568.41 247.48h39.39v3.95H568.41z"/>
<path class="R" d="M517.2 250.43h43.35v3.95H517.2z"/>
<path class="O" d="M559.55 250.43h48.25v3.95H559.55z"/>
<path class="R" d="M517.2 253.37h40.39v3.95H517.2z"/>
<path class="B" d="M556.59 253.37h6.91v3.95H556.59z"/>
<path class="O" d="M562.5 253.37h45.3v3.95H562.5z"/>
<path class="R" d="M517.2 256.32h40.39v3.95H517.2z"/>
<path class="B" d="M556.59 256.32h48.25v3.95H556.59z"/>
<path class="L" d="M603.85 256.32h3.95v3.95H603.85z"/>
<path class="R" d="M517.2 259.26h43.35v3.95H517.2z"/>
<path class="O" d="M559.55 259.26h45.3v3.95H559.55z"/>
<path class="B" d="M603.85 259.26h3.95v3.95H603.85z"/>
<path class="R" d="M517.2 262.21h40.39v3.95H517.2z"/>
<path class="B" d="M556.59 262.21h24.63v3.95H556.59z"/>
<path class="O" d="M580.22 262.21h24.63v3.95H580.22z"/>
<path class="B" d="M603.85 262.21h3.95v3.95H603.85z"/>
<path class="R" d="M517.2 265.15h43.35v3.95H517.2z"/>
<path class="L" d="M559.55 265.15h3.95v3.95H559.55z"/>
<path class="B" d="M562.5 265.15h9.86v3.95H562.5z"/>
<path class="L" d="M571.36 265.15h15.77v3.95H571.36z"/>
<path class="O" d="M586.13 265.15h15.77v3.95H586.13z"/>
<path class="B" d="M600.89 265.15h3.95v3.95H600.89z"/>
<path class="L" d="M603.85 265.15h3.95v3.95H603.85z"/>
<path class="R" d="M517.2 268.1h40.39v3.95H517.2z"/>
<path class="O" d="M556.59 268.1h51.21v3.95H556.59z"/>
<path class="R" d="M517.2 271.05h40.39v3.95H517.2z"/>
<path class="O" d="M556.59 271.05h45.3v3.95H556.59z"/>
<path class="R" d="M600.89 271.05h3.95v3.95H600.89z"/>
<path class="O" d="M603.85 271.05h3.95v3.95H603.85z"/>
<path class="R" d="M517.2 273.99h37.44v3.95H517.2z"/>
<path class="O" d="M553.64 273.99h54.16v3.95H553.64z"/>
<path class="R" d="M517.2 276.94h40.39v3.95H517.2z"/>
<path class="O" d="M556.59 276.94h51.21v3.95H556.59z"/>
<path class="R" d="M517.2 279.88h37.44v3.95H517.2z"/>
<path class="B" d="M553.64 279.88h54.16v3.95H553.64z"/>
<path class="R" d="M517.2 282.83h37.44v3.95H517.2z"/>
<path class="B" d="M553.64 282.83h12.81v3.95H553.64z"/>
<path class="O" d="M565.45 282.83h39.39v3.95H565.45z"/>
<path class="L" d="M603.85 282.83h3.95v3.95H603.85z"/>
<path class="L" d="M517.2 285.77h19.72v3.95H517.2z"/>
<path class="R" d="M535.92 285.77h15.77v3.95H535.92z"/>
<path class="B" d="M550.69 285.77h30.53v3.95H550.69z"/>
<path class="R" d="M580.22 285.77h24.63v3.95H580.22z"/>
<path class="L" d="M603.85 285.77h3.95v3.95H603.85z"/>
<path class="R" d="M517.2 288.72h43.35v3.95H517.2z"/>
<path class="B" d="M559.55 288.72h6.91v3.95H559.55z"/>
<path class="O" d="M565.45 288.72h42.35v3.95H565.45z"/>
<path class="R" d="M517.2 291.67h40.39v3.95H517.2z"/>
<path class="O" d="M556.59 291.67h51.21v3.95H556.59z"/>
<path class="R" d="M517.2 294.61h52.21v3.95H517.2z"/>
<path class="O" d="M568.41 294.61h39.39v3.95H568.41z"/>
<path class="R" d="M517.2 297.56h40.39v3.95H517.2z"/>
<path class="O" d="M556.59 297.56h51.21v3.95H556.59z"/>
<path class="R" d="M517.2 300.5h37.44v3.95H517.2z"/>
<path class="B" d="M553.64 300.5h54.16v3.95H553.64z"/>
<path class="R" d="M517.2 303.45h31.53v3.95H517.2z"/>
<path class="B" d="M547.73 303.45h60.07v3.95H547.73z"/>
<path class="R" d="M517.2 306.39h90.6v3.95H517.2z"/>
<path class="R" d="M517.2 309.34h40.39v3.95H517.2z"/>
<path class="O" d="M556.59 309.34h51.21v3.95H556.59z"/>
<path class="R" d="M517.2 312.29h40.39v3.95H517.2z"/>
<path class="B" d="M556.59 312.29h15.77v3.95H556.59z"/>
<path class="O" d="M571.36 312.29h3.95v3.95H571.36z"/>
<path class="B" d="M574.31 312.29h12.81v3.95H574.31z"/>
<path class="O" d="M586.13 312.29h21.67v3.95H586.13z"/>
<path class="R" d="M517.2 315.23h40.39v3.95H517.2z"/>
<path class="O" d="M556.59 315.23h45.3v3.95H556.59z"/>
<path class="B" d="M600.89 315.23h3.95v3.95H600.89z"/>
<path class="L" d="M603.85 315.23h3.95v3.95H603.85z"/>
<path class="R" d="M517.2 318.18h37.44v3.95H517.2z"/>
<path class="O" d="M553.64 318.18h54.16v3.95H553.64z"/>
<path class="R" d="M517.2 321.12h43.35v3.95H517.2z"/>
<path class="O" d="M559.55 321.12h48.25v3.95H559.55z"/>
<path class="R" d="M517.2 324.07h13.81v3.95H517.2z"/>
<path class="L" d="M530.01 324.07h24.63v3.95H530.01z"/>
<path class="O" d="M553.64 324.07h54.16v3.95H553.64z"/>
<path class="R" d="M517.2 327.01h78.79v3.95H517.2z"/>
<path class="B" d="M594.99 327.01h12.81v3.95H594.99z"/>
<path class="R" d="M517.2 329.96h34.49v3.95H517.2z"/>
<path class="O" d="M550.69 329.96h57.11v3.95H550.69z"/>
<path class="R" d="M517.2 332.91h37.44v3.95H517.2z"/>
<path class="O" d="M553.64 332.91h54.16v3.95H553.64z"/>
<path class="R" d="M517.2 335.85h28.58v3.95H517.2z"/>
<path class="B" d="M544.78 335.85h9.86v3.95H544.78z"/>
<path class="R" d="M553.64 335.85h3.95v3.95H553.64z"/>
<path class="B" d="M556.59 335.85h24.63v3.95H556.59z"/>
<path class="O" d="M580.22 335.85h3.95v3.95H580.22z"/>
<path class="B" d="M583.17 335.85h3.95v3.95H583.17z"/>
<path class="R" d="M586.13 335.85h9.86v3.95H586.13z"/>
<path class="O" d="M594.99 335.85h6.91v3.95H594.99z"/>
<path class="R" d="M600.89 335.85h3.95v3.95H600.89z"/>
<path class="O" d="M603.85 335.85h3.95v3.95H603.85z"/>
<path class="R" d="M517.2 338.8h37.44v3.95H517.2z"/>
<path class="O" d="M553.64 338.8h54.16v3.95H553.64z"/>
<path class="R" d="M517.2 341.74h34.49v3.95H517.2z"/>
<path class="O" d="M550.69 341.74h54.16v3.95H550.69z"/>
<path class="B" d="M603.85 341.74h3.95v3.95H603.85z"/>
<path class="R" d="M517.2 344.69h37.44v3.95H517.2z"/>
<path class="O" d="M553.64 344.69h6.91v3.95H553.64z"/>
<path class="B" d="M559.55 344.69h18.72v3.95H559.55z"/>
<path class="O" d="M577.27 344.69h6.91v3.95H577.27z"/>
<path class="B" d="M583.17 344.69h24.63v3.95H583.17z"/>
<path class="R" d="M517.2 347.63h87.65v3.95H517.2z"/>
<path class="B" d="M603.85 347.63h3.95v3.95H603.85z"/>
<path class="R" d="M517.2 350.58h31.53v3.95H517.2z"/>
<path class="O" d="M547.73 350.58h60.07v3.95H547.73z"/>
<path class="R" d="M517.2 353.53h25.63v3.95H517.2z"/>
<path class="O" d="M541.83 353.53h65.97v3.95H541.83z"/>
<path class="R" d="M517.2 356.47h37.44v3.95H517.2z"/>
<path class="O" d="M553.64 356.47h51.21v3.95H553.64z"/>
<path class="B" d="M603.85 356.47h3.95v3.95H603.85z"/>
<path class="R" d="M517.2 359.42h28.58v3.95H517.2z"/>
<path class="O" d="M544.78 359.42h54.16v3.95H544.78z"/>
<path class="B" d="M597.94 359.42h9.86v3.95H597.94z"/>
<path class="R" d="M517.2 362.36h7.91v3.95H517.2z"/>
<path class="L" d="M524.11 362.36h12.81v3.95H524.11z"/>
<path class="B" d="M535.92 362.36h9.86v3.95H535.92z"/>
<path class="O" d="M544.78 362.36h15.77v3.95H544.78z"/>
<path class="B" d="M559.55 362.36h3.95v3.95H559.55z"/>
<path class="O" d="M562.5 362.36h30.53v3.95H562.5z"/>
<path class="B" d="M592.03 362.36h12.81v3.95H592.03z"/>
<path class="O" d="M603.85 362.36h3.95v3.95H603.85z"/>
<path class="R" d="M517.2 365.31h13.81v3.95H517.2z"/>
<path class="B" d="M530.01 365.31h45.3v3.95H530.01z"/>
<path class="O" d="M574.31 365.31h9.86v3.95H574.31z"/>
<path class="B" d="M583.17 365.31h3.95v3.95H583.17z"/>
<path class="O" d="M586.13 365.31h21.67v3.95H586.13z"/>
<path class="L" d="M517.2 368.25h13.81v3.95H517.2z"/>
<path class="R" d="M530.01 368.25h57.11v3.95H530.01z"/>
<path class="B" d="M586.13 368.25h21.67v3.95H586.13z"/>
<path class="R" d="M517.2 371.2h37.44v3.95H517.2z"/>
<path class="B" d="M553.64 371.2h3.95v3.95H553.64z"/>
<path class="O" d="M556.59 371.2h24.63v3.95H556.59z"/>
<path class="B" d="M580.22 371.2h18.72v3.95H580.22z"/>
<path class="O" d="M597.94 371.2h9.86v3.95H597.94z"/>
<path class="R" d="M517.2 374.15h34.49v3.95H517.2z"/>
<path class="B" d="M550.69 374.15h6.91v3.95H550.69z"/>
<path class="O" d="M556.59 374.15h24.63v3.95H556.59z"/>
<path class="B" d="M580.22 374.15h12.81v3.95H580.22z"/>
<path class="O" d="M592.03 374.15h15.77v3.95H592.03z"/>
<path class="R" d="M517.2 377.09h13.81v3.95H517.2z"/>
<path class="B" d="M530.01 377.09h24.63v3.95H530.01z"/>
<path class="O" d="M553.64 377.09h54.16v3.95H553.64z"/>
<path class="L" d="M517.2 380.04h37.44v3.95H517.2z"/>
<path class="B" d="M553.64 380.04h54.16v3.95H553.64z"/>
<path class="R" d="M517.2 382.98h37.44v3.95H517.2z"/>
<path class="B" d="M553.64 382.98h54.16v3.95H553.64z"/>
<path class="R" d="M517.2 385.93h19.72v3.95H517.2z"/>
<path class="O" d="M535.92 385.93h65.97v3.95H535.92z"/>
<path class="B" d="M600.89 385.93h3.95v3.95H600.89z"/>
<path class="O" d="M603.85 385.93h3.95v3.95H603.85z"/>
<path class="R" d="M517.2 388.87h7.91v3.95H517.2z"/>
<path class="B" d="M524.11 388.87h83.69v3.95H524.11z"/>
<path class="R" d="M517.2 391.82h19.72v3.95H517.2z"/>
<path class="O" d="M535.92 391.82h71.88v3.95H535.92z"/>
<path class="R" d="M517.2 394.77h7.91v3.95H517.2z"/>
<path class="B" d="M524.11 394.77h21.67v3.95H524.11z"/>
<path class="O" d="M544.78 394.77h63.02v3.95H544.78z"/>
<path class="R" d="M517.2 397.71h7.91v3.95H517.2z"/>
<path class="B" d="M524.11 397.71h83.69v3.95H524.11z"/>
<path class="R" d="M517.2 400.66h22.67v3.95H517.2z"/>
<path class="O" d="M538.87 400.66h68.93v3.95H538.87z"/>
<path class="R" d="M517.2 403.6h19.72v3.95H517.2z"/>
<path class="O" d="M535.92 403.6h71.88v3.95H535.92z"/>
<path class="R" d="M517.2 406.55h16.77v3.95H517.2z"/>
<path class="B" d="M532.97 406.55h74.83v3.95H532.97z"/>
<path class="R" d="M517.2 409.49h25.63v3.95H517.2z"/>
<path class="O" d="M541.83 409.49h65.97v3.95H541.83z"/>
<path class="R" d="M517.2 412.44h19.72v3.95H517.2z"/>
<path class="O" d="M535.92 412.44h71.88v3.95H535.92z"/>
<path class="R" d="M517.2 415.39h13.81v3.95H517.2z"/>
<path class="O" d="M530.01 415.39h77.79v3.95H530.01z"/>
<path class="R" d="M517.2 418.33h7.91v3.95H517.2z"/>
<path class="B" d="M524.11 418.33h15.77v3.95H524.11z"/>
<path class="O" d="M538.87 418.33h68.93v3.95H538.87z"/>
<path class="R" d="M517.2 421.28h7.91v3.95H517.2z"/>
<path class="L" d="M524.11 421.28h9.86v3.95H524.11z"/>
<path class="O" d="M532.97 421.28h74.83v3.95H532.97z"/>
<path class="L" d="M517.2 424.22h13.81v3.95H517.2z"/>
<path class="O" d="M530.01 424.22h77.79v3.95H530.01z"/>
<path class="L" d="M517.2 427.17h25.63v3.95H517.2z"/>
<path class="O" d="M541.83 427.17h65.97v3.95H541.83z"/>
<path class="R" d="M517.2 430.11h19.72v3.95H517.2z"/>
<path class="B" d="M535.92 430.11h71.88v3.95H535.92z"/>
<path class="R" d="M517.2 433.06h13.81v3.95H517.2z"/>
<path class="O" d="M530.01 433.06h77.79v3.95H530.01z"/>
<path class="R" d="M517.2 436.01h13.81v3.95H517.2z"/>
<path class="O" d="M530.01 436.01h77.79v3.95H530.01z"/>
<path class="R" d="M517.2 438.95h13.81v3.95H517.2z"/>
<path class="B" d="M530.01 438.95h57.11v3.95H530.01z"/>
<path class="O" d="M586.13 438.95h21.67v3.95H586.13z"/>
<path class="R" d="M517.2 441.9h19.72v3.95H517.2z"/>
<path class="B" d="M535.92 441.9h71.88v3.95H535.92z"/>
<path class="R" d="M517.2 444.84h10.86v3.95H517.2z"/>
<path class="O" d="M527.06 444.84h60.07v3.95H527.06z"/>
<path class="B" d="M586.13 444.84h21.67v3.95H586.13z"/>
<path class="R" d="M517.2 447.79h13.81v3.95H517.2z"/>
<path class="B" d="M530.01 447.79h77.79v3.95H530.01z"/>
<path class="R" d="M517.2 450.73h7.91v3.95H517.2z"/>
<path class="O" d="M524.11 450.73h83.69v3.95H524.11z"/>
<path class="R" d="M517.2 453.68h7.91v3.95H517.2z"/>
<path class="O" d="M524.11 453.68h83.69v3.95H524.11z"/>
<path class="L" d="M517.2 456.63h7.91v3.95H517.2z"/>
<path class="O" d="M524.11 456.63h83.69v3.95H524.11z"/>
<path class="R" d="M517.2 459.57h7.91v3.95H517.2z"/>
<path class="O" d="M524.11 459.57h74.83v3.95H524.11z"/>
<path class="B" d="M597.94 459.57h9.86v3.95H597.94z"/>
<path class="R" d="M517.2 462.52h13.81v3.95H517.2z"/>
<path class="O" d="M530.01 462.52h77.79v3.95H530.01z"/>
<path class="O" d="M517.2 465.46h81.74v3.95H517.2z"/>
<path class="B" d="M597.94 465.46h6.91v3.95H597.94z"/>
<path class="O" d="M603.85 465.46h3.95v3.95H603.85z"/>
<path class="O" d="M517.2 468.41h90.6v3.95H517.2z"/>
<path class="B" d="M517.2 471.35h90.6v3.95H517.2z"/>
<path class="B" d="M517.2 474.3h81.74v3.95H517.2z"/>
<path class="O" d="M597.94 474.3h9.86v3.95H597.94z"/>
<path class="B" d="M517.2 477.25h7.91v3.95H517.2z"/>
<path class="O" d="M524.11 477.25h83.69v3.95H524.11z"/>
<path class="O" d="M517.2 480.19h90.6v3.95H517.2z"/>
<path class="B" d="M517.2 483.14h25.63v3.95H517.2z"/>
<path class="O" d="M541.83 483.14h65.97v3.95H541.83z"/>
<path class="B" d="M517.2 486.08h10.86v3.95H517.2z"/>
<path class="O" d="M527.06 486.08h9.86v3.95H527.06z"/>
<path class="B" d="M535.92 486.08h3.95v3.95H535.92z"/>
<path class="O" d="M538.87 486.08h54.16v3.95H538.87z"/>
<path class="B" d="M592.03 486.08h6.91v3.95H592.03z"/>
<path class="O" d="M597.94 486.08h6.91v3.95H597.94z"/>
<path class="B" d="M603.85 486.08h3.95v3.95H603.85z"/>
<path class="R" d="M517.2 489.03h7.91v3.95H517.2z"/>
<path class="O" d="M524.11 489.03h83.69v3.95H524.11z"/>
<path class="R" d="M517.2 491.97h7.91v3.95H517.2z"/>
<path class="B" d="M524.11 491.97h83.69v3.95H524.11z"/>
<path class="R" d="M517.2 494.92h13.81v3.95H517.2z"/>
<path class="O" d="M530.01 494.92h77.79v3.95H530.01z"/>
<path class="O" d="M517.2 497.87h13.81v3.95H517.2z"/>
<path class="B" d="M530.01 497.87h77.79v3.95H530.01z"/>
<path class="O" d="M517.2 500.81h90.6v3.95H517.2z"/>
<path class="O" d="M517.2 503.76h90.6v3.95H517.2z"/>
<path class="B" d="M517.2 506.7h7.91v3.95H517.2z"/>
<path class="O" d="M524.11 506.7h83.69v3.95H524.11z"/>
<path class="O" d="M517.2 509.65h90.6v3.95H517.2z"/>
<path class="O" d="M517.2 512.59h90.6v3.95H517.2z"/>
<path class="O" d="M517.2 515.54h90.6v3.95H517.2z"/>
<path class="O" d="M517.2 518.49h90.6v3.95H517.2z"/>
<path class="O" d="M517.2 521.43h90.6v3.95H517.2z"/>
<path class="O" d="M517.2 524.38h90.6v3.95H517.2z"/>
<path class="O" d="M517.2 527.32h90.6v3.95H517.2z"/>
<path class="O" d="M517.2 530.27h90.6v3.95H517.2z"/>
<path class="O" d="M517.2 533.21h19.72v3.95H517.2z"/>
<path class="B" d="M535.92 533.21h3.95v3.95H535.92z"/>
<path class="O" d="M538.87 533.21h48.25v3.95H538.87z"/>
<path class="B" d="M586.13 533.21h3.95v3.95H586.13z"/>
<path class="O" d="M589.08 533.21h3.95v3.95H589.08z"/>
<path class="B" d="M592.03 533.21h12.81v3.95H592.03z"/>
<path class="O" d="M603.85 533.21h3.95v3.95H603.85z"/>
<path class="O" d="M517.2 536.16h90.6v3.95H517.2z"/>
<path class="O" d="M517.2 539.11h90.6v3.95H517.2z"/>
<path class="O" d="M517.2 542.05h90.6v3.95H517.2z"/>
<path class="O" d="M517.2 545h90.6v3.95H517.2z"/>
<path class="B" d="M517.2 547.94h90.6v3.95H517.2z"/>
<path class="O" d="M517.2 550.89h90.6v3.95H517.2z"/>
<path class="R" d="M517.2 553.83h90.6v3.95H517.2z"/>
<path class="O" d="M517.2 556.78h90.6v3.95H517.2z"/>
<path class="B" d="M517.2 559.73h90.6v3.95H517.2z"/>
<path class="O" d="M517.2 562.67h90.6v3.95H517.2z"/>
<path class="B" d="M517.2 565.62h7.91v3.95H517.2z"/>
<path class="O" d="M524.11 565.62h83.69v3.95H524.11z"/>
<path class="O" d="M517.2 568.56h90.6v3.95H517.2z"/>
<path class="O" d="M517.2 571.51h84.69v3.95H517.2z"/>
<path class="B" d="M600.89 571.51h3.95v3.95H600.89z"/>
<path class="O" d="M603.85 571.51h3.95v3.95H603.85z"/>
<path class="O" d="M517.2 574.45h90.6v3.95H517.2z"/>
<path class="O" d="M517.2 577.4h84.69v3.95H517.2z"/>
<path class="B" d="M600.89 577.4h3.95v3.95H600.89z"/>
<path class="O" d="M603.85 577.4h3.95v3.95H603.85z"/>
<path class="O" d="M517.2 580.35h84.69v3.95H517.2z"/>
<path class="B" d="M600.89 580.35h3.95v3.95H600.89z"/>
<path class="O" d="M603.85 580.35h3.95v3.95H603.85z"/>
<path class="O" d="M517.2 583.29h90.6v3.95H517.2z"/>
<path class="O" d="M517.2 586.24h90.6v3.95H517.2z"/>
<path class="O" d="M517.2 589.18h7.91v3.95H517.2z"/>
<path class="B" d="M524.11 589.18h83.69v3.95H524.11z"/>
<path class="O" d="M517.2 592.13h90.6v3.95H517.2z"/>
<path class="O" d="M517.2 595.07h90.6v3.95H517.2z"/>
<path class="O" d="M517.2 598.02h90.6v3.95H517.2z"/>
<path class="O" d="M517.2 600.97h90.6v3.95H517.2z"/>
<path class="O" d="M517.2 603.91h90.6v3.95H517.2z"/>
<path class="O" d="M517.2 606.86h90.6v3.95H517.2z"/>
<path class="O" d="M517.2 609.8h90.6v3.95H517.2z"/>
<path class="B" d="M517.2 612.75h90.6v3.95H517.2z"/>
<path class="B" d="M517.2 615.69h90.6v3.95H517.2z"/>
<path class="O" d="M517.2 618.64h90.6v3.95H517.2z"/>
<path class="O" d="M517.2 621.59h90.6v3.95H517.2z"/>
<path class="R" d="M517.2 624.53h90.6v3.95H517.2z"/>
<path class="O" d="M517.2 627.48h90.6v3.95H517.2z"/>
<path class="B" d="M517.2 630.42h90.6v3.95H517.2z"/>
<path class="B" d="M517.2 633.37h7.91v3.95H517.2z"/>
<path class="O" d="M524.11 633.37h83.69v3.95H524.11z"/>
<path class="R" d="M517.2 636.31h90.6v3.95H517.2z"/>
<path class="O" d="M517.2 639.26h90.6v3.95H517.2z"/>
<path class="O" d="M517.2 642.21h90.6v3.95H517.2z"/>
<path class="O" d="M517.2 645.15h90.6v3.95H517.2z"/>
<path class="O" d="M517.2 648.1h90.6v3.95H517.2z"/>
<path class="L" d="M517.2 651.04h90.6v3.95H517.2z"/>
<path class="L" d="M517.2 653.99h90.6v3.95H517.2z"/>
<path class="B" d="M517.2 656.93h90.6v3.95H517.2z"/>
<path class="O" d="M517.2 659.88h90.6v3.95H517.2z"/>
<path class="O" d="M517.2 662.83h90.6v3.95H517.2z"/>
<path class="O" d="M517.2 665.77h90.6v3.95H517.2z"/>
<path class="O" d="M517.2 668.72h90.6v3.95H517.2z"/>
<path class="O" d="M517.2 671.66h90.6v3.95H517.2z"/>
<path class="L" d="M517.2 674.61h90.6v3.95H517.2z"/>
<path class="B" d="M517.2 677.55h90.6v3.95H517.2z"/>
<rect x="518.2" y="81.8" width="88.6" height="0.8" fill="#fff" opacity="1"/>
<rect x="518.2" y="102.4" width="88.6" height="0.8" fill="#fff" opacity="1"/>
<rect x="518.2" y="122.4" width="88.6" height="0.8" fill="#fff" opacity="1"/>
<rect x="518.2" y="143.5" width="88.6" height="0.8" fill="#fff" opacity="1"/>
<rect x="518.2" y="164" width="88.6" height="0.8" fill="#fff" opacity="1"/>
<rect x="518.2" y="184.8" width="88.6" height="0.8" fill="#fff" opacity="1"/>
<rect x="518.2" y="205.2" width="88.6" height="0.8" fill="#fff" opacity="1"/>
<rect x="518.2" y="225.9" width="88.6" height="0.8" fill="#fff" opacity="1"/>
<rect x="518.2" y="247.1" width="88.6" height="0.8" fill="#fff" opacity="1"/>
<rect x="518.2" y="267.2" width="88.6" height="0.8" fill="#fff" opacity="1"/>
<rect x="518.2" y="288" width="88.6" height="0.8" fill="#fff" opacity="1"/>
<rect x="518.2" y="308.7" width="88.6" height="0.8" fill="#fff" opacity="1"/>
<rect x="518.2" y="329.4" width="88.6" height="0.8" fill="#fff" opacity="1"/>
<rect x="518.2" y="350.3" width="88.6" height="0.8" fill="#fff" opacity="1"/>
<rect x="518.2" y="373.2" width="88.6" height="0.8" fill="#fff" opacity="1"/>
<rect x="518.2" y="395.1" width="88.6" height="0.8" fill="#fff" opacity="1"/>
<rect x="518.2" y="415.1" width="88.6" height="0.8" fill="#fff" opacity="1"/>
<rect x="518.2" y="435.8" width="88.6" height="0.8" fill="#fff" opacity="1"/>
<rect x="518.2" y="456.1" width="88.6" height="0.8" fill="#fff" opacity="1"/>
<rect x="518.2" y="477.1" width="88.6" height="0.8" fill="#fff" opacity="1"/>
<rect x="518.2" y="497.7" width="88.6" height="0.8" fill="#fff" opacity="1"/>
<rect x="518.2" y="518.8" width="88.6" height="0.8" fill="#fff" opacity="1"/>
<rect x="518.2" y="539.1" width="88.6" height="0.8" fill="#fff" opacity="1"/>
<rect x="518.2" y="559.4" width="88.6" height="0.8" fill="#fff" opacity="1"/>
<rect x="518.2" y="580.3" width="88.6" height="0.8" fill="#fff" opacity="1"/>
<rect x="518.2" y="600.6" width="88.6" height="0.8" fill="#fff" opacity="1"/>
<rect x="518.2" y="621.7" width="88.6" height="0.8" fill="#fff" opacity="1"/>
<rect x="518.2" y="642.5" width="88.6" height="0.8" fill="#fff" opacity="1"/>
<rect x="518.2" y="662.8" width="88.6" height="0.8" fill="#fff" opacity="1"/>
</g>
<g clip-path="url(#cb3)">
<path fill="#5e944f" d="M613.9 59.9h19.7v5.95H613.9z"/>
<path fill="#659954" d="M613.9 64.85h19.7v3.95H613.9z"/>
<path fill="#6a9c58" d="M613.9 67.79h19.7v3.95H613.9z"/>
<path fill="#70a05d" d="M613.9 70.74h19.7v3.95H613.9z"/>
<path fill="#81ab68" d="M613.9 73.68h19.7v3.95H613.9z"/>
<path fill="#89b16e" d="M613.9 76.63h19.7v3.95H613.9z"/>
<path fill="#bdd790" d="M613.9 79.57h19.7v3.95H613.9z"/>
<path fill="#5f9550" d="M613.9 82.52h19.7v3.95H613.9z"/>
<path fill="#669955" d="M613.9 85.47h19.7v3.95H613.9z"/>
<path fill="#669955" d="M613.9 88.41h19.7v3.95H613.9z"/>
<path fill="#79a563" d="M613.9 91.36h19.7v3.95H613.9z"/>
<path fill="#7ba764" d="M613.9 94.3h19.7v3.95H613.9z"/>
<path fill="#9ec27c" d="M613.9 97.25h19.7v3.95H613.9z"/>
<path fill="#d4e4a1" d="M613.9 100.19h19.7v3.95H613.9z"/>
<path fill="#508a44" d="M613.9 103.14h19.7v3.95H613.9z"/>
<path fill="#5f9550" d="M613.9 106.09h19.7v3.95H613.9z"/>
<path fill="#7ca765" d="M613.9 109.03h19.7v3.95H613.9z"/>
<path fill="#7ea966" d="M613.9 111.98h19.7v3.95H613.9z"/>
<path fill="#84ad6a" d="M613.9 114.92h19.7v3.95H613.9z"/>
<path fill="#99be78" d="M613.9 117.87h19.7v3.95H613.9z"/>
<path fill="#b8d38d" d="M613.9 120.81h19.7v3.95H613.9z"/>
<path fill="#5c934e" d="M613.9 123.76h19.7v3.95H613.9z"/>
<path fill="#5d944f" d="M613.9 126.71h19.7v3.95H613.9z"/>
<path fill="#629752" d="M613.9 129.65h19.7v3.95H613.9z"/>
<path fill="#679a56" d="M613.9 132.6h19.7v3.95H613.9z"/>
<path fill="#6b9c58" d="M613.9 135.54h19.7v3.95H613.9z"/>
<path fill="#8eb672" d="M613.9 138.49h19.7v3.95H613.9z"/>
<path fill="#99be79" d="M613.9 141.43h19.7v3.95H613.9z"/>
<path fill="#548d47" d="M613.9 144.38h19.7v3.95H613.9z"/>
<path fill="#629753" d="M613.9 147.33h19.7v3.95H613.9z"/>
<path fill="#639753" d="M613.9 150.27h19.7v3.95H613.9z"/>
<path fill="#7aa563" d="M613.9 153.22h19.7v3.95H613.9z"/>
<path fill="#7ea966" d="M613.9 156.16h19.7v3.95H613.9z"/>
<path fill="#84ae6a" d="M613.9 159.11h19.7v3.95H613.9z"/>
<path fill="#8fb672" d="M613.9 162.05h19.7v3.95H613.9z"/>
<path fill="#58904b" d="M613.9 165h19.7v3.95H613.9z"/>
<path fill="#609551" d="M613.9 167.95h19.7v3.95H613.9z"/>
<path fill="#609651" d="M613.9 170.89h19.7v3.95H613.9z"/>
<path fill="#649853" d="M613.9 173.84h19.7v3.95H613.9z"/>
<path fill="#6b9c59" d="M613.9 176.78h19.7v3.95H613.9z"/>
<path fill="#9abe79" d="M613.9 179.73h19.7v3.95H613.9z"/>
<path fill="#a1c47e" d="M613.9 182.67h19.7v3.95H613.9z"/>
<path fill="#5d934e" d="M613.9 185.62h19.7v3.95H613.9z"/>
<path fill="#649854" d="M613.9 188.57h19.7v3.95H613.9z"/>
<path fill="#6e9e5b" d="M613.9 191.51h19.7v3.95H613.9z"/>
<path fill="#7aa563" d="M613.9 194.46h19.7v3.95H613.9z"/>
<path fill="#7aa663" d="M613.9 197.4h19.7v3.95H613.9z"/>
<path fill="#a9c983" d="M613.9 200.35h19.7v3.95H613.9z"/>
<path fill="#c6dd97" d="M613.9 203.29h19.7v3.95H613.9z"/>
<path fill="#6c9d59" d="M613.9 206.24h19.7v3.95H613.9z"/>
<path fill="#71a05d" d="M613.9 209.19h19.7v3.95H613.9z"/>
<path fill="#74a260" d="M613.9 212.13h19.7v3.95H613.9z"/>
<path fill="#7ca765" d="M613.9 215.08h19.7v3.95H613.9z"/>
<path fill="#81ac69" d="M613.9 218.02h19.7v3.95H613.9z"/>
<path fill="#89b26e" d="M613.9 220.97h19.7v3.95H613.9z"/>
<path fill="#a2c47e" d="M613.9 223.91h19.7v3.95H613.9z"/>
<path fill="#6d9d5a" d="M613.9 226.86h19.7v3.95H613.9z"/>
<path fill="#73a15e" d="M613.9 229.81h19.7v3.95H613.9z"/>
<path fill="#7aa664" d="M613.9 232.75h19.7v3.95H613.9z"/>
<path fill="#7ca765" d="M613.9 235.7h19.7v3.95H613.9z"/>
<path fill="#84ae6b" d="M613.9 238.64h19.7v3.95H613.9z"/>
<path fill="#b3d089" d="M613.9 241.59h19.7v3.95H613.9z"/>
<path fill="#bed891" d="M613.9 244.53h19.7v3.95H613.9z"/>
<path fill="#6d9e5a" d="M613.9 247.48h19.7v3.95H613.9z"/>
<path fill="#7ba664" d="M613.9 250.43h19.7v3.95H613.9z"/>
<path fill="#7fa967" d="M613.9 253.37h19.7v3.95H613.9z"/>
<path fill="#84ae6b" d="M613.9 256.32h19.7v3.95H613.9z"/>
<path fill="#85ae6b" d="M613.9 259.26h19.7v3.95H613.9z"/>
<path fill="#a3c57f" d="M613.9 262.21h19.7v3.95H613.9z"/>
<path fill="#a4c57f" d="M613.9 265.15h19.7v3.95H613.9z"/>
<path fill="#679a56" d="M613.9 268.1h19.7v3.95H613.9z"/>
<path fill="#7fa967" d="M613.9 271.05h19.7v3.95H613.9z"/>
<path fill="#7faa67" d="M613.9 273.99h19.7v3.95H613.9z"/>
<path fill="#89b26e" d="M613.9 276.94h19.7v3.95H613.9z"/>
<path fill="#8ab26e" d="M613.9 279.88h19.7v3.95H613.9z"/>
<path fill="#9ec27c" d="M613.9 282.83h19.7v3.95H613.9z"/>
<path fill="#e7eeaf" d="M613.9 285.77h19.7v3.95H613.9z"/>
<path fill="#7ca865" d="M613.9 288.72h19.7v3.95H613.9z"/>
<path fill="#7da865" d="M613.9 291.67h19.7v3.95H613.9z"/>
<path fill="#82ac69" d="M613.9 294.61h19.7v3.95H613.9z"/>
<path fill="#85ae6b" d="M613.9 297.56h19.7v3.95H613.9z"/>
<path fill="#95bb76" d="M613.9 300.5h19.7v3.95H613.9z"/>
<path fill="#b1ce88" d="M613.9 303.45h19.7v3.95H613.9z"/>
<path fill="#c0d992" d="M613.9 306.39h19.7v3.95H613.9z"/>
<path fill="#7ba664" d="M613.9 309.34h19.7v3.95H613.9z"/>
<path fill="#8ab26e" d="M613.9 312.29h19.7v3.95H613.9z"/>
<path fill="#92b874" d="M613.9 315.23h19.7v3.95H613.9z"/>
<path fill="#95bb76" d="M613.9 318.18h19.7v3.95H613.9z"/>
<path fill="#96bb76" d="M613.9 321.12h19.7v3.95H613.9z"/>
<path fill="#b6d28c" d="M613.9 324.07h19.7v3.95H613.9z"/>
<path fill="#cade99" d="M613.9 327.01h19.7v3.95H613.9z"/>
<path fill="#7faa67" d="M613.9 329.96h19.7v3.95H613.9z"/>
<path fill="#85af6b" d="M613.9 332.91h19.7v3.95H613.9z"/>
<path fill="#8ab26f" d="M613.9 335.85h19.7v3.95H613.9z"/>
<path fill="#96bc76" d="M613.9 338.8h19.7v3.95H613.9z"/>
<path fill="#aaca84" d="M613.9 341.74h19.7v3.95H613.9z"/>
<path fill="#abca84" d="M613.9 344.69h19.7v3.95H613.9z"/>
<path fill="#d6e5a2" d="M613.9 347.63h19.7v3.95H613.9z"/>
<path fill="#76a361" d="M613.9 350.58h19.7v3.95H613.9z"/>
<path fill="#7da866" d="M613.9 353.53h19.7v3.95H613.9z"/>
<path fill="#86af6b" d="M613.9 356.47h19.7v3.95H613.9z"/>
<path fill="#9cc07b" d="M613.9 359.42h19.7v3.95H613.9z"/>
<path fill="#a5c680" d="M613.9 362.36h19.7v3.95H613.9z"/>
<path fill="#a6c781" d="M613.9 365.31h19.7v3.95H613.9z"/>
<path fill="#accb85" d="M613.9 368.25h19.7v3.95H613.9z"/>
<path fill="#80aa67" d="M613.9 371.2h19.7v3.95H613.9z"/>
<path fill="#86af6c" d="M613.9 374.15h19.7v3.95H613.9z"/>
<path fill="#8fb672" d="M613.9 377.09h19.7v3.95H613.9z"/>
<path fill="#92b974" d="M613.9 380.04h19.7v3.95H613.9z"/>
<path fill="#96bc77" d="M613.9 382.98h19.7v3.95H613.9z"/>
<path fill="#9abe79" d="M613.9 385.93h19.7v3.95H613.9z"/>
<path fill="#b4d18a" d="M613.9 388.87h19.7v3.95H613.9z"/>
<path fill="#619652" d="M613.9 391.82h19.7v3.95H613.9z"/>
<path fill="#78a462" d="M613.9 394.77h19.7v3.95H613.9z"/>
<path fill="#80aa68" d="M613.9 397.71h19.7v3.95H613.9z"/>
<path fill="#86af6c" d="M613.9 400.66h19.7v3.95H613.9z"/>
<path fill="#86af6c" d="M613.9 403.6h19.7v3.95H613.9z"/>
<path fill="#cbdf9a" d="M613.9 406.55h19.7v3.95H613.9z"/>
<path fill="#ebf0b2" d="M613.9 409.49h19.7v3.95H613.9z"/>
<path fill="#689a57" d="M613.9 412.44h19.7v3.95H613.9z"/>
<path fill="#8ab36f" d="M613.9 415.39h19.7v3.95H613.9z"/>
<path fill="#8bb36f" d="M613.9 418.33h19.7v3.95H613.9z"/>
<path fill="#8bb36f" d="M613.9 421.28h19.7v3.95H613.9z"/>
<path fill="#90b772" d="M613.9 424.22h19.7v3.95H613.9z"/>
<path fill="#a6c781" d="M613.9 427.17h19.7v3.95H613.9z"/>
<path fill="#b9d48e" d="M613.9 430.11h19.7v3.95H613.9z"/>
<path fill="#709f5c" d="M613.9 433.06h19.7v3.95H613.9z"/>
<path fill="#8bb470" d="M613.9 436.01h19.7v3.95H613.9z"/>
<path fill="#8cb470" d="M613.9 438.95h19.7v3.95H613.9z"/>
<path fill="#97bc77" d="M613.9 441.9h19.7v3.95H613.9z"/>
<path fill="#a7c882" d="M613.9 444.84h19.7v3.95H613.9z"/>
<path fill="#aecc86" d="M613.9 447.79h19.7v3.95H613.9z"/>
<path fill="#c3db94" d="M613.9 450.73h19.7v3.95H613.9z"/>
<path fill="#6e9e5b" d="M613.9 453.68h19.7v3.95H613.9z"/>
<path fill="#78a462" d="M613.9 456.63h19.7v3.95H613.9z"/>
<path fill="#82ac69" d="M613.9 459.57h19.7v3.95H613.9z"/>
<path fill="#87b06c" d="M613.9 462.52h19.7v3.95H613.9z"/>
<path fill="#88b16d" d="M613.9 465.46h19.7v3.95H613.9z"/>
<path fill="#8bb36f" d="M613.9 468.41h19.7v3.95H613.9z"/>
<path fill="#93b974" d="M613.9 471.35h19.7v3.95H613.9z"/>
<path fill="#6f9f5c" d="M613.9 474.3h19.7v3.95H613.9z"/>
<path fill="#79a462" d="M613.9 477.25h19.7v3.95H613.9z"/>
<path fill="#87b06d" d="M613.9 480.19h19.7v3.95H613.9z"/>
<path fill="#87b06d" d="M613.9 483.14h19.7v3.95H613.9z"/>
<path fill="#8cb470" d="M613.9 486.08h19.7v3.95H613.9z"/>
<path fill="#9fc27c" d="M613.9 489.03h19.7v3.95H613.9z"/>
<path fill="#c2da93" d="M613.9 491.97h19.7v3.95H613.9z"/>
<path fill="#699b57" d="M613.9 494.92h19.7v3.95H613.9z"/>
<path fill="#7da866" d="M613.9 497.87h19.7v3.95H613.9z"/>
<path fill="#87b06c" d="M613.9 500.81h19.7v3.95H613.9z"/>
<path fill="#88b16d" d="M613.9 503.76h19.7v3.95H613.9z"/>
<path fill="#8cb470" d="M613.9 506.7h19.7v3.95H613.9z"/>
<path fill="#98bd78" d="M613.9 509.65h19.7v3.95H613.9z"/>
<path fill="#9abf79" d="M613.9 512.59h19.7v3.95H613.9z"/>
<path fill="#699b58" d="M613.9 515.54h19.7v3.95H613.9z"/>
<path fill="#79a563" d="M613.9 518.49h19.7v3.95H613.9z"/>
<path fill="#80ab68" d="M613.9 521.43h19.7v3.95H613.9z"/>
<path fill="#81ab68" d="M613.9 524.38h19.7v3.95H613.9z"/>
<path fill="#93b975" d="M613.9 527.32h19.7v3.95H613.9z"/>
<path fill="#bbd68f" d="M613.9 530.27h19.7v3.95H613.9z"/>
<path fill="#c5dc96" d="M613.9 533.21h19.7v3.95H613.9z"/>
<path fill="#79a563" d="M613.9 536.16h19.7v3.95H613.9z"/>
<path fill="#7ba764" d="M613.9 539.11h19.7v3.95H613.9z"/>
<path fill="#80ab68" d="M613.9 542.05h19.7v3.95H613.9z"/>
<path fill="#81ab68" d="M613.9 545h19.7v3.95H613.9z"/>
<path fill="#94ba75" d="M613.9 547.94h19.7v3.95H613.9z"/>
<path fill="#97bc77" d="M613.9 550.89h19.7v3.95H613.9z"/>
<path fill="#c8de98" d="M613.9 553.83h19.7v3.95H613.9z"/>
<path fill="#7ea866" d="M613.9 556.78h19.7v3.95H613.9z"/>
<path fill="#82ac69" d="M613.9 559.73h19.7v3.95H613.9z"/>
<path fill="#83ad6a" d="M613.9 562.67h19.7v3.95H613.9z"/>
<path fill="#90b773" d="M613.9 565.62h19.7v3.95H613.9z"/>
<path fill="#9bbf7a" d="M613.9 568.56h19.7v3.95H613.9z"/>
<path fill="#9dc17b" d="M613.9 571.51h19.7v3.95H613.9z"/>
<path fill="#cde09c" d="M613.9 574.45h19.7v3.95H613.9z"/>
<path fill="#7ea966" d="M613.9 577.4h19.7v3.95H613.9z"/>
<path fill="#83ac69" d="M613.9 580.35h19.7v3.95H613.9z"/>
<path fill="#83ad6a" d="M613.9 583.29h19.7v3.95H613.9z"/>
<path fill="#88b16d" d="M613.9 586.24h19.7v3.95H613.9z"/>
<path fill="#8db571" d="M613.9 589.18h19.7v3.95H613.9z"/>
<path fill="#9dc17b" d="M613.9 592.13h19.7v3.95H613.9z"/>
<path fill="#d8e6a4" d="M613.9 595.07h19.7v3.95H613.9z"/>
<path fill="#83ad6a" d="M613.9 598.02h19.7v3.95H613.9z"/>
<path fill="#88b16e" d="M613.9 600.97h19.7v3.95H613.9z"/>
<path fill="#8db571" d="M613.9 603.91h19.7v3.95H613.9z"/>
<path fill="#8eb671" d="M613.9 606.86h19.7v3.95H613.9z"/>
<path fill="#9bbf7a" d="M613.9 609.8h19.7v3.95H613.9z"/>
<path fill="#a8c983" d="M613.9 612.75h19.7v3.95H613.9z"/>
<path fill="#cee19d" d="M613.9 615.69h19.7v3.95H613.9z"/>
<path fill="#8eb571" d="M613.9 618.64h19.7v3.95H613.9z"/>
<path fill="#91b873" d="M613.9 621.59h19.7v3.95H613.9z"/>
<path fill="#91b873" d="M613.9 624.53h19.7v3.95H613.9z"/>
<path fill="#94ba75" d="M613.9 627.48h19.7v3.95H613.9z"/>
<path fill="#9cc07a" d="M613.9 630.42h19.7v3.95H613.9z"/>
<path fill="#afcd87" d="M613.9 633.37h19.7v3.95H613.9z"/>
<path fill="#dae7a5" d="M613.9 636.31h19.7v3.95H613.9z"/>
<path fill="#90b773" d="M613.9 639.26h19.7v3.95H613.9z"/>
<path fill="#92b874" d="M613.9 642.21h19.7v3.95H613.9z"/>
<path fill="#98bd78" d="M613.9 645.15h19.7v3.95H613.9z"/>
<path fill="#9ec17b" d="M613.9 648.1h19.7v3.95H613.9z"/>
<path fill="#a0c37d" d="M613.9 651.04h19.7v3.95H613.9z"/>
<path fill="#d0e29e" d="M613.9 653.99h19.7v3.95H613.9z"/>
<path fill="#dee9a8" d="M613.9 656.93h19.7v3.95H613.9z"/>
<path fill="#94ba75" d="M613.9 659.88h19.7v3.95H613.9z"/>
<path fill="#98bd78" d="M613.9 662.83h19.7v3.95H613.9z"/>
<path fill="#9cc07a" d="M613.9 665.77h19.7v3.95H613.9z"/>
<path fill="#9fc27c" d="M613.9 668.72h19.7v3.95H613.9z"/>
<path fill="#a0c37d" d="M613.9 671.66h19.7v3.95H613.9z"/>
<path fill="#d2e39f" d="M613.9 674.61h19.7v3.95H613.9z"/>
<path fill="#e2ecac" d="M613.9 677.55h19.7v3.95H613.9z"/>
<rect x="614.9" y="61.3" width="0.9" height="619.2" fill="#2f6a20" opacity="0.18"/>
<rect x="631.7" y="61.3" width="0.9" height="619.2" fill="#2f6a20" opacity="0.18"/>
</g>
<text x="179.2" y="112" text-anchor="end" class="s">DT</text>
<text x="352.2" y="109.7" text-anchor="end" class="s">DT</text>
<text x="351.8" y="72.6" text-anchor="end" class="m">1</text>
<text x="351.8" y="148.4" text-anchor="end" class="m">30</text>
<text x="179.2" y="200.4" text-anchor="end" class="s">bagging</text>
<text x="352.2" y="197.9" text-anchor="end" class="s">bagging</text>
<text x="351.8" y="161" text-anchor="end" class="m">1</text>
<text x="351.8" y="235.6" text-anchor="end" class="m">30</text>
<text x="179.2" y="288.3" text-anchor="end" class="s">adaboost</text>
<text x="352.2" y="286.3" text-anchor="end" class="s">adaboost</text>
<text x="351.8" y="247.6" text-anchor="end" class="m">1</text>
<text x="351.8" y="323.6" text-anchor="end" class="m">30</text>
<text x="179.2" y="378.8" text-anchor="end" class="s">GBDT</text>
<text x="352.2" y="375.4" text-anchor="end" class="s">GBDT</text>
<text x="351.8" y="334.8" text-anchor="end" class="m">1</text>
<text x="351.8" y="413.1" text-anchor="end" class="m">30</text>
<text x="179.2" y="468.3" text-anchor="end" class="s">XGB</text>
<text x="352.2" y="465.6" text-anchor="end" class="s">XGB</text>
<text x="351.8" y="424.4" text-anchor="end" class="m">1</text>
<text x="351.8" y="501.5" text-anchor="end" class="m">30</text>
<text x="179.2" y="552.6" text-anchor="end" class="s">RF</text>
<text x="352.2" y="549.8" text-anchor="end" class="s">RF</text>
<text x="351.8" y="512.9" text-anchor="end" class="m">1</text>
<text x="351.8" y="590" text-anchor="end" class="m">30</text>
<text x="179.2" y="643.3" text-anchor="end" class="s">gcForest</text>
<text x="352.2" y="639.8" text-anchor="end" class="s">gcForest</text>
<text x="351.8" y="600.4" text-anchor="end" class="m">1</text>
<text x="351.8" y="679.2" text-anchor="end" class="m">30</text>
<text x="506.5" y="78.4" text-anchor="middle" class="n">1</text>
<text x="506.5" y="97.2" text-anchor="middle" class="n">2</text>
<text x="506.5" y="116.4" text-anchor="middle" class="n">3</text>
<text x="506.5" y="136" text-anchor="middle" class="n">4</text>
<text x="506.5" y="160" text-anchor="middle" class="n">5</text>
<text x="506.5" y="182.8" text-anchor="middle" class="n">6</text>
<text x="506.5" y="204.4" text-anchor="middle" class="n">7</text>
<text x="506.5" y="224.2" text-anchor="middle" class="n">8</text>
<text x="506.5" y="243.4" text-anchor="middle" class="n">9</text>
<text x="506.5" y="265.8" text-anchor="middle" class="n">10</text>
<text x="506.5" y="285" text-anchor="middle" class="n">11</text>
<text x="506.5" y="304.1" text-anchor="middle" class="n">12</text>
<text x="506.5" y="326.7" text-anchor="middle" class="n">13</text>
<text x="506.5" y="346.3" text-anchor="middle" class="n">14</text>
<text x="506.5" y="365.8" text-anchor="middle" class="n">15</text>
<text x="506.5" y="391.7" text-anchor="middle" class="n">16</text>
<text x="506.5" y="411" text-anchor="middle" class="n">17</text>
<text x="506.5" y="430.5" text-anchor="middle" class="n">18</text>
<text x="506.5" y="453.3" text-anchor="middle" class="n">19</text>
<text x="506.5" y="472.8" text-anchor="middle" class="n">20</text>
<text x="506.5" y="491.6" text-anchor="middle" class="n">21</text>
<text x="506.5" y="514.4" text-anchor="middle" class="n">22</text>
<text x="506.5" y="534.4" text-anchor="middle" class="n">23</text>
<text x="506.5" y="554.4" text-anchor="middle" class="n">24</text>
<text x="506.5" y="577.4" text-anchor="middle" class="n">25</text>
<text x="506.5" y="596.4" text-anchor="middle" class="n">26</text>
<text x="506.5" y="615.9" text-anchor="middle" class="n">27</text>
<text x="506.5" y="639.4" text-anchor="middle" class="n">28</text>
<text x="506.5" y="658.4" text-anchor="middle" class="n">29</text>
<text x="506.5" y="678.4" text-anchor="middle" class="n">30</text>
<text x="26" y="694.1" textLength="90" lengthAdjust="spacingAndGlyphs" class="c">(a) sorted by accuracy</text>
<text x="168.5" y="694.1" textLength="121.0" lengthAdjust="spacingAndGlyphs" class="c">(b) by methods then accuracy</text>
<text x="322" y="694.1" textLength="143.5" lengthAdjust="spacingAndGlyphs" class="c">(c) by methods then interval length</text>
<text x="488" y="694.1" textLength="144.5" lengthAdjust="spacingAndGlyphs" class="c">(d) by interval length then accuracy</text>
<rect class="L" x="4" y="711.2" width="17" height="5"/>
<text x="27.5" y="717.3" class="l">Q1(delighted)</text>
<rect class="R" x="92" y="711.2" width="17" height="5"/>
<text x="116" y="717.3" class="l">Q2(angry)</text>
<rect class="B" x="163" y="711.2" width="17" height="5"/>
<text x="186.5" y="717.3" class="l">Q3(sad)</text>
<rect class="O" x="224.5" y="711.2" width="17" height="5"/>
<text x="248" y="717.3" class="l">Q4(calm)</text>
<text x="305.6" y="712.6" class="t">accuracy:</text>
<rect x="340" y="705" width="300" height="7" fill="url(#cbar)"/>
<text x="340" y="722.4" class="l">0%</text><text x="490" y="722.4" text-anchor="middle" class="l">50%</text><text x="642" y="722.4" text-anchor="end" class="l">100%</text>
</svg>
</body></html>
